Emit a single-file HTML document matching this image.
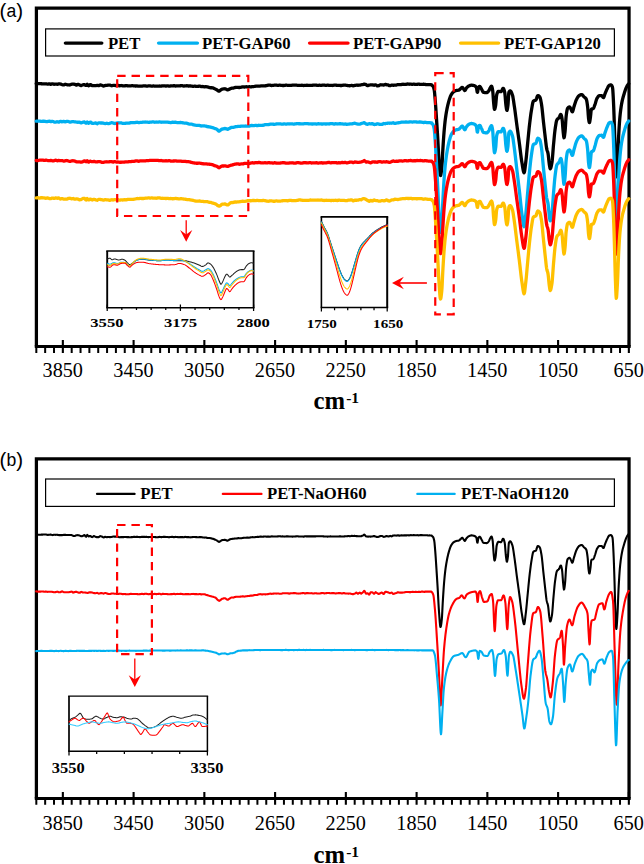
<!DOCTYPE html>
<html lang="en">
<head>
<meta charset="utf-8">
<title>FTIR spectra of PET samples</title>
<style>
html,body{margin:0;padding:0;background:#fff;}
body{width:644px;height:864px;overflow:hidden;}
svg{display:block;}
text{font-family:"Liberation Serif",serif;fill:#000;}
.tk{font-size:20.2px;text-anchor:middle;}
.lg{font-size:16.7px;font-weight:bold;}
.in{font-weight:bold;text-anchor:middle;}
.ax{font-size:24.7px;font-weight:bold;}
.pl{font-family:"Liberation Sans",sans-serif;font-size:17.6px;}
</style>
</head>
<body>
<svg width="644" height="864" viewBox="0 0 644 864">
<rect x="0" y="0" width="644" height="864" fill="#ffffff"/>
<rect x="36.4" y="8.15" width="592.65" height="338.3" fill="#fff" stroke="none"/>
<rect x="36.4" y="458.95" width="592.65" height="339.45" fill="#fff" stroke="none"/>
<path d="M36.4,346.45V8.15H629.05V346.45" fill="none" stroke="#000" stroke-width="3.25" stroke-linejoin="miter"/>
<path d="M34.78,346.45H630.67" fill="none" stroke="#000" stroke-width="2.95"/>
<path d="M620.01,346.45V352.9M611.16,346.45V352.9M602.32,346.45V352.9M593.48,346.45V352.9M584.63,346.45V352.9M575.79,346.45V352.9M566.94,346.45V352.9M549.26,346.45V352.9M540.41,346.45V352.9M531.57,346.45V352.9M522.73,346.45V352.9M513.88,346.45V352.9M505.04,346.45V352.9M496.19,346.45V352.9M478.51,346.45V352.9M469.66,346.45V352.9M460.82,346.45V352.9M451.98,346.45V352.9M443.13,346.45V352.9M434.29,346.45V352.9M425.44,346.45V352.9M407.76,346.45V352.9M398.91,346.45V352.9M390.07,346.45V352.9M381.23,346.45V352.9M372.38,346.45V352.9M363.54,346.45V352.9M354.69,346.45V352.9M337.01,346.45V352.9M328.16,346.45V352.9M319.32,346.45V352.9M310.48,346.45V352.9M301.63,346.45V352.9M292.79,346.45V352.9M283.94,346.45V352.9M266.26,346.45V352.9M257.41,346.45V352.9M248.57,346.45V352.9M239.72,346.45V352.9M230.88,346.45V352.9M222.04,346.45V352.9M213.19,346.45V352.9M195.51,346.45V352.9M186.66,346.45V352.9M177.82,346.45V352.9M168.97,346.45V352.9M160.13,346.45V352.9M151.29,346.45V352.9M142.44,346.45V352.9M124.76,346.45V352.9M115.91,346.45V352.9M107.07,346.45V352.9M98.22,346.45V352.9M89.38,346.45V352.9M80.54,346.45V352.9M71.69,346.45V352.9M54.01,346.45V352.9M45.16,346.45V352.9M36.32,346.45V352.9" stroke="#000" stroke-width="2.0" fill="none"/>
<path d="M628.85,339.95V352.9M558.10,339.95V352.9M487.35,339.95V352.9M416.60,339.95V352.9M345.85,339.95V352.9M275.10,339.95V352.9M204.35,339.95V352.9M133.60,339.95V352.9M62.85,339.95V352.9" stroke="#000" stroke-width="2.1" fill="none"/>
<text x="628.75" y="377.3" class="tk">650</text>
<text x="558.00" y="377.3" class="tk">1050</text>
<text x="487.25" y="377.3" class="tk">1450</text>
<text x="416.50" y="377.3" class="tk">1850</text>
<text x="345.75" y="377.3" class="tk">2250</text>
<text x="275.00" y="377.3" class="tk">2650</text>
<text x="204.25" y="377.3" class="tk">3050</text>
<text x="133.50" y="377.3" class="tk">3450</text>
<text x="62.75" y="377.3" class="tk">3850</text>
<path d="M36.4,798.4V458.95H629.05V798.4" fill="none" stroke="#000" stroke-width="3.25" stroke-linejoin="miter"/>
<path d="M34.78,798.4H630.67" fill="none" stroke="#000" stroke-width="2.95"/>
<path d="M620.01,798.4V804.85M611.16,798.4V804.85M602.32,798.4V804.85M593.48,798.4V804.85M584.63,798.4V804.85M575.79,798.4V804.85M566.94,798.4V804.85M549.26,798.4V804.85M540.41,798.4V804.85M531.57,798.4V804.85M522.73,798.4V804.85M513.88,798.4V804.85M505.04,798.4V804.85M496.19,798.4V804.85M478.51,798.4V804.85M469.66,798.4V804.85M460.82,798.4V804.85M451.98,798.4V804.85M443.13,798.4V804.85M434.29,798.4V804.85M425.44,798.4V804.85M407.76,798.4V804.85M398.91,798.4V804.85M390.07,798.4V804.85M381.23,798.4V804.85M372.38,798.4V804.85M363.54,798.4V804.85M354.69,798.4V804.85M337.01,798.4V804.85M328.16,798.4V804.85M319.32,798.4V804.85M310.48,798.4V804.85M301.63,798.4V804.85M292.79,798.4V804.85M283.94,798.4V804.85M266.26,798.4V804.85M257.41,798.4V804.85M248.57,798.4V804.85M239.72,798.4V804.85M230.88,798.4V804.85M222.04,798.4V804.85M213.19,798.4V804.85M195.51,798.4V804.85M186.66,798.4V804.85M177.82,798.4V804.85M168.97,798.4V804.85M160.13,798.4V804.85M151.29,798.4V804.85M142.44,798.4V804.85M124.76,798.4V804.85M115.91,798.4V804.85M107.07,798.4V804.85M98.22,798.4V804.85M89.38,798.4V804.85M80.54,798.4V804.85M71.69,798.4V804.85M54.01,798.4V804.85M45.16,798.4V804.85M36.32,798.4V804.85" stroke="#000" stroke-width="2.0" fill="none"/>
<path d="M628.85,791.9V804.85M558.10,791.9V804.85M487.35,791.9V804.85M416.60,791.9V804.85M345.85,791.9V804.85M275.10,791.9V804.85M204.35,791.9V804.85M133.60,791.9V804.85M62.85,791.9V804.85" stroke="#000" stroke-width="2.1" fill="none"/>
<text x="628.75" y="829.8" class="tk">650</text>
<text x="558.00" y="829.8" class="tk">1050</text>
<text x="487.25" y="829.8" class="tk">1450</text>
<text x="416.50" y="829.8" class="tk">1850</text>
<text x="345.75" y="829.8" class="tk">2250</text>
<text x="275.00" y="829.8" class="tk">2650</text>
<text x="204.25" y="829.8" class="tk">3050</text>
<text x="133.50" y="829.8" class="tk">3450</text>
<text x="62.75" y="829.8" class="tk">3850</text>
<g id="curves-a">
<polyline points="36.20,83.53 36.70,83.53 37.20,83.54 37.70,83.54 38.20,83.55 38.70,83.58 39.20,83.61 39.70,83.64 40.20,83.67 40.70,83.71 41.20,83.74 41.70,83.76 42.20,83.78 42.70,83.80 43.20,83.84 43.70,83.88 44.20,83.92 44.70,83.93 45.20,83.92 45.70,83.90 46.20,83.92 46.70,83.99 47.20,84.06 47.70,84.11 48.20,84.01 48.70,83.91 49.20,83.80 49.70,83.98 50.20,84.16 50.70,84.34 51.20,84.22 51.70,84.01 52.20,83.79 52.70,83.81 53.20,84.00 53.70,84.19 54.20,84.28 54.70,84.22 55.20,84.16 55.70,84.12 56.20,84.18 56.70,84.23 57.20,84.29 57.70,84.17 58.20,84.04 58.70,83.91 59.20,83.91 59.70,83.94 60.20,83.96 60.70,84.11 61.20,84.33 61.70,84.55 62.20,84.71 62.70,84.78 63.20,84.85 63.70,84.86 64.20,84.65 64.70,84.44 65.20,84.23 65.70,84.37 66.20,84.51 66.70,84.66 67.20,84.75 67.70,84.82 68.20,84.90 68.70,84.94 69.20,84.96 69.70,84.98 70.20,84.89 70.70,84.63 71.20,84.36 71.70,84.15 72.20,84.15 72.70,84.14 73.20,84.14 73.70,84.20 74.20,84.26 74.70,84.32 75.20,84.54 75.70,84.79 76.20,85.05 76.70,85.00 77.20,84.75 77.70,84.49 78.20,84.41 78.70,84.59 79.20,84.76 79.70,84.95 80.20,85.20 80.70,85.45 81.20,85.63 81.70,85.37 82.20,85.11 82.70,84.85 83.20,84.75 83.70,84.69 84.20,84.62 84.70,84.70 85.20,85.09 85.70,85.47 86.20,85.47 86.70,84.91 87.20,84.34 87.70,84.97 88.20,85.53 88.70,85.77 89.20,85.54 89.70,84.97 90.20,84.60 90.70,84.54 91.20,84.90 91.70,85.36 92.20,85.68 92.70,85.70 93.20,85.64 93.70,85.59 94.20,85.56 94.70,85.57 95.20,85.59 95.70,85.58 96.20,85.52 96.70,85.45 97.20,85.33 97.70,85.45 98.20,85.57 98.70,85.69 99.20,85.48 99.70,85.19 100.20,84.94 100.70,84.97 101.20,85.13 101.70,85.30 102.20,85.49 102.70,85.69 103.20,85.90 103.70,86.03 104.20,85.84 104.70,85.62 105.20,85.39 105.70,85.38 106.20,85.36 106.70,85.34 107.20,85.28 107.70,85.21 108.20,85.15 108.70,85.12 109.20,85.09 109.70,85.06 110.20,85.14 110.70,85.38 111.20,85.61 111.70,85.76 112.20,85.62 112.70,85.48 113.20,85.35 113.70,85.38 114.20,85.41 114.70,85.44 115.20,85.50 115.70,85.57 116.20,85.64 116.70,85.61 117.20,85.50 117.70,85.41 118.20,85.41 118.70,85.54 119.20,85.67 119.70,85.76 120.20,85.67 120.70,85.59 121.20,85.51 121.70,85.61 122.20,85.71 122.70,85.80 123.20,85.84 123.70,85.86 124.20,85.88 124.70,85.83 125.20,85.75 125.70,85.66 126.20,85.63 126.70,85.68 127.20,85.74 127.70,85.79 128.20,85.84 128.70,85.89 129.20,85.94 129.70,85.91 130.20,85.87 130.70,85.83 131.20,85.78 131.70,85.73 132.20,85.68 132.70,85.71 133.20,85.79 133.70,85.87 134.20,85.93 134.70,85.96 135.20,85.98 135.70,86.00 136.20,85.98 136.70,85.96 137.20,85.94 137.70,86.01 138.20,86.09 138.70,86.16 139.20,86.13 139.70,86.08 140.20,86.03 140.70,86.04 141.20,86.09 141.70,86.14 142.20,86.13 142.70,86.01 143.20,85.89 143.70,85.80 144.20,85.80 144.70,85.81 145.20,85.81 145.70,85.92 146.20,86.02 146.70,86.13 147.20,86.10 147.70,86.04 148.20,85.97 148.70,85.93 149.20,85.89 149.70,85.85 150.20,85.88 150.70,86.00 151.20,86.12 151.70,86.19 152.20,86.10 152.70,86.01 153.20,85.92 153.70,85.98 154.20,86.04 154.70,86.10 155.20,86.11 155.70,86.10 156.20,86.09 156.70,86.10 157.20,86.12 157.70,86.14 158.20,86.14 158.70,86.09 159.20,86.05 159.70,86.02 160.20,86.03 160.70,86.05 161.20,86.06 161.70,86.00 162.20,85.93 162.70,85.86 163.20,85.83 163.70,85.82 164.20,85.80 164.70,85.85 165.20,85.94 165.70,86.03 166.20,86.06 166.70,85.98 167.20,85.90 167.70,85.85 168.20,85.93 168.70,86.01 169.20,86.09 169.70,86.04 170.20,85.99 170.70,85.94 171.20,85.92 171.70,85.91 172.20,85.90 172.70,85.84 173.20,85.76 173.70,85.68 174.20,85.68 174.70,85.81 175.20,85.93 175.70,86.02 176.20,85.94 176.70,85.86 177.20,85.78 177.70,85.80 178.20,85.82 178.70,85.84 179.20,85.82 179.70,85.79 180.20,85.76 180.70,85.74 181.20,85.72 181.70,85.69 182.20,85.72 182.70,85.83 183.20,85.95 183.70,86.03 184.20,85.99 184.70,85.95 185.20,85.91 185.70,85.83 186.20,85.76 186.70,85.68 187.20,85.75 187.70,85.87 188.20,85.98 188.70,86.01 189.20,85.98 189.70,85.95 190.20,85.95 190.70,86.00 191.20,86.05 191.70,86.11 192.20,86.18 192.70,86.26 193.20,86.33 193.70,86.27 194.20,86.20 194.70,86.14 195.20,86.21 195.70,86.31 196.20,86.41 196.70,86.44 197.20,86.41 197.70,86.38 198.20,86.33 198.70,86.25 199.20,86.17 199.70,86.13 200.20,86.29 200.70,86.44 201.20,86.59 201.70,86.56 202.20,86.53 202.70,86.50 203.20,86.56 203.70,86.68 204.20,86.80 204.70,86.81 205.20,86.76 205.70,86.70 206.20,86.69 206.70,86.76 207.20,86.82 207.70,86.91 208.20,87.12 208.70,87.34 209.20,87.57 209.70,87.63 210.20,87.69 210.70,87.75 211.20,87.76 211.70,87.76 212.20,87.76 212.70,87.88 213.20,88.09 213.70,88.31 214.20,88.58 214.70,88.78 215.20,88.98 215.70,89.19 216.20,89.42 216.70,89.72 217.20,90.14 217.70,90.49 218.20,90.84 218.70,91.20 219.20,91.22 219.70,90.81 220.20,90.41 220.70,90.02 221.20,89.64 221.70,89.26 222.20,89.12 222.70,89.05 223.20,88.97 223.70,88.90 224.20,88.83 224.70,88.76 225.20,88.79 225.70,89.01 226.20,89.23 226.70,89.45 227.20,89.72 227.70,89.92 228.20,89.78 228.70,89.55 229.20,89.26 229.70,88.97 230.20,88.70 230.70,88.47 231.20,88.30 231.70,88.23 232.20,88.20 232.70,88.17 233.20,88.14 233.70,87.96 234.20,87.77 234.70,87.58 235.20,87.50 235.70,87.45 236.20,87.41 236.70,87.42 237.20,87.43 237.70,87.44 238.20,87.46 238.70,87.48 239.20,87.50 239.70,87.50 240.20,87.40 240.70,87.30 241.20,87.20 241.70,87.08 242.20,86.96 242.70,86.84 243.20,86.88 243.70,86.96 244.20,87.05 244.70,87.01 245.20,86.89 245.70,86.79 246.20,86.75 246.70,86.83 247.20,86.90 247.70,86.94 248.20,86.85 248.70,86.76 249.20,86.68 249.70,86.73 250.20,86.78 250.70,86.83 251.20,86.81 251.70,86.76 252.20,86.72 252.70,86.67 253.20,86.61 253.70,86.55 254.20,86.48 254.70,86.38 255.20,86.29 255.70,86.22 256.20,86.20 256.70,86.17 257.20,86.14 257.70,86.13 258.20,86.13 258.70,86.12 259.20,86.09 259.70,86.06 260.20,86.02 260.70,85.98 261.20,85.95 261.70,85.91 262.20,85.88 262.70,85.84 263.20,85.80 263.70,85.78 264.20,85.80 264.70,85.81 265.20,85.83 265.70,85.75 266.20,85.67 266.70,85.59 267.20,85.47 267.70,85.34 268.20,85.21 268.70,85.15 269.20,85.12 269.70,85.11 270.20,85.15 270.70,85.28 271.20,85.42 271.70,85.52 272.20,85.46 272.70,85.40 273.20,85.33 273.70,85.28 274.20,85.22 274.70,85.16 275.20,85.16 275.70,85.17 276.20,85.17 276.70,85.22 277.20,85.30 277.70,85.38 278.20,85.39 278.70,85.30 279.20,85.22 279.70,85.16 280.20,85.22 280.70,85.28 281.20,85.34 281.70,85.40 282.20,85.46 282.70,85.52 283.20,85.52 283.70,85.50 284.20,85.48 284.70,85.42 285.20,85.32 285.70,85.23 286.20,85.19 286.70,85.23 287.20,85.27 287.70,85.30 288.20,85.32 288.70,85.34 289.20,85.36 289.70,85.39 290.20,85.43 290.70,85.46 291.20,85.38 291.70,85.28 292.20,85.17 292.70,85.12 293.20,85.09 293.70,85.07 294.20,85.06 294.70,85.07 295.20,85.08 295.70,85.10 296.20,85.16 296.70,85.23 297.20,85.29 297.70,85.31 298.20,85.33 298.70,85.35 299.20,85.35 299.70,85.34 300.20,85.34 300.70,85.31 301.20,85.27 301.70,85.23 302.20,85.25 302.70,85.36 303.20,85.46 303.70,85.53 304.20,85.47 304.70,85.40 305.20,85.34 305.70,85.31 306.20,85.28 306.70,85.25 307.20,85.26 307.70,85.29 308.20,85.31 308.70,85.34 309.20,85.37 309.70,85.40 310.20,85.42 310.70,85.41 311.20,85.39 311.70,85.37 312.20,85.31 312.70,85.25 313.20,85.18 313.70,85.15 314.20,85.12 314.70,85.09 315.20,85.12 315.70,85.17 316.20,85.22 316.70,85.26 317.20,85.30 317.70,85.34 318.20,85.34 318.70,85.27 319.20,85.21 319.70,85.17 320.20,85.26 320.70,85.34 321.20,85.43 321.70,85.32 322.20,85.21 322.70,85.10 323.20,85.11 323.70,85.14 324.20,85.17 324.70,85.23 325.20,85.32 325.70,85.40 326.20,85.41 326.70,85.32 327.20,85.22 327.70,85.16 328.20,85.23 328.70,85.30 329.20,85.37 329.70,85.35 330.20,85.33 330.70,85.32 331.20,85.36 331.70,85.42 332.20,85.49 332.70,85.45 333.20,85.35 333.70,85.24 334.20,85.17 334.70,85.14 335.20,85.11 335.70,85.10 336.20,85.21 336.70,85.31 337.20,85.42 337.70,85.42 338.20,85.43 338.70,85.43 339.20,85.45 339.70,85.47 340.20,85.50 340.70,85.51 341.20,85.51 341.70,85.51 342.20,85.46 342.70,85.32 343.20,85.17 343.70,85.06 344.20,85.09 344.70,85.11 345.20,85.14 345.70,85.21 346.20,85.28 346.70,85.37 347.20,85.46 347.70,85.55 348.20,85.65 348.70,85.71 349.20,85.73 349.70,85.75 350.20,85.72 350.70,85.60 351.20,85.48 351.70,85.39 352.20,85.53 352.70,85.66 353.20,85.80 353.70,85.70 354.20,85.59 354.70,85.49 355.20,85.39 355.70,85.30 356.20,85.21 356.70,85.19 357.20,85.23 357.70,85.26 358.20,85.27 358.70,85.23 359.20,85.19 359.70,85.13 360.20,85.03 360.70,84.92 361.20,84.78 361.70,84.73 362.20,84.69 362.70,84.64 363.20,84.48 363.70,84.29 364.20,84.10 364.70,84.28 365.20,84.38 365.70,84.48 366.20,84.74 366.70,85.17 367.20,85.49 367.70,85.70 368.20,85.51 368.70,85.31 369.20,85.07 369.70,85.02 370.20,84.98 370.70,84.93 371.20,84.90 371.70,84.87 372.20,84.86 372.70,84.95 373.20,85.08 373.70,85.22 374.20,85.23 374.70,85.05 375.20,84.87 375.70,84.80 376.20,85.14 376.70,85.49 377.20,85.84 377.70,85.79 378.20,85.75 378.70,85.70 379.20,85.45 379.70,85.14 380.20,84.84 380.70,84.75 381.20,84.81 381.70,84.86 382.20,84.92 382.70,84.97 383.20,85.02 383.70,85.04 384.20,84.89 384.70,84.65 385.20,84.40 385.70,84.49 386.20,84.57 386.70,84.80 387.20,84.92 387.70,84.94 388.20,84.97 388.70,85.23 389.20,85.54 389.70,85.68 390.20,85.68 390.70,85.47 391.20,85.25 391.70,85.08 392.20,85.13 392.70,85.22 393.20,85.30 393.70,85.26 394.20,85.21 394.70,85.15 395.20,85.12 395.70,85.09 396.20,85.06 396.70,84.94 397.20,84.78 397.70,84.64 398.20,84.56 398.70,84.55 399.20,84.54 399.70,84.53 400.20,84.55 400.70,84.56 401.20,84.58 401.70,84.48 402.20,84.37 402.70,84.27 403.20,84.26 403.70,84.28 404.20,84.29 404.70,84.30 405.20,84.30 405.70,84.30 406.20,84.26 406.70,84.16 407.20,84.06 407.70,83.99 408.20,84.08 408.70,84.16 409.20,84.25 409.70,84.22 410.20,84.20 410.70,84.17 411.20,84.22 411.70,84.28 412.20,84.34 412.70,84.32 413.20,84.24 413.70,84.17 414.20,84.17 414.70,84.26 415.20,84.36 415.70,84.43 416.20,84.39 416.70,84.34 417.20,84.30 417.70,84.25 418.20,84.20 418.70,84.15 419.20,84.22 419.70,84.33 420.20,84.44 420.70,84.47 421.20,84.46 421.70,84.44 422.20,84.41 422.70,84.33 423.20,84.26 423.70,84.22 424.20,84.30 424.70,84.38 425.20,84.45 425.70,84.51 426.20,84.55 426.70,84.60 427.20,84.63 427.70,84.66 428.20,84.69 428.70,84.67 429.20,84.65 429.70,84.65 430.20,84.68 430.70,84.73 431.20,84.76 431.70,84.78 432.00,85.44 432.25,85.59 432.50,85.76 432.75,85.96 433.00,86.20 433.25,86.62 433.50,87.23 433.75,88.02 434.00,88.98 434.25,90.11 434.50,91.98 434.75,94.57 435.00,97.55 435.25,100.56 435.50,103.80 435.75,107.35 436.00,111.11 436.25,114.96 436.50,118.78 436.75,122.59 437.00,126.45 437.25,130.39 437.50,134.42 437.75,138.54 438.00,143.01 438.25,147.74 438.50,152.41 438.75,156.72 439.00,160.37 439.25,163.73 439.50,167.16 439.75,170.36 440.00,173.03 440.25,174.85 440.50,175.53 440.75,175.14 441.00,174.08 441.25,172.51 441.50,170.57 441.75,168.40 442.00,165.49 442.25,161.02 442.50,155.91 442.75,151.14 443.00,147.12 443.25,143.19 443.50,139.41 443.75,135.85 444.00,132.60 444.25,129.68 444.50,126.94 444.75,124.39 445.00,122.04 445.25,119.90 445.50,118.00 445.75,116.23 446.00,114.59 446.25,113.04 446.50,111.59 446.75,110.22 447.00,108.93 447.25,107.70 447.50,106.53 447.75,105.42 448.00,104.35 448.25,103.34 448.50,102.38 448.75,101.47 449.00,100.61 449.25,99.81 449.50,99.02 449.75,98.26 450.00,97.53 450.25,96.84 450.50,96.20 450.75,95.62 451.00,95.12 451.25,94.68 451.50,94.27 451.75,93.88 452.00,93.52 452.25,93.17 452.50,92.86 452.75,92.57 453.00,92.31 453.25,92.07 453.50,91.87 453.75,91.69 454.00,91.52 454.25,91.36 454.50,91.22 454.75,91.08 455.00,90.95 455.25,90.84 455.50,90.74 455.75,90.65 456.00,90.57 456.25,90.51 456.50,90.46 456.75,90.42 457.00,90.39 457.25,90.36 457.50,90.33 457.75,90.30 458.00,90.27 458.25,90.23 458.50,90.18 458.75,90.12 459.00,90.01 459.25,89.85 459.50,89.65 459.75,89.43 460.00,89.20 460.25,88.97 460.50,88.75 460.75,88.54 461.00,88.30 461.25,88.03 461.50,87.78 461.75,87.58 462.00,87.44 462.25,87.41 462.50,87.53 462.75,87.78 463.00,88.12 463.25,88.49 463.50,88.85 463.75,89.18 464.00,89.59 464.25,90.02 464.50,90.36 464.75,90.53 465.00,90.46 465.25,90.17 465.50,89.74 465.75,89.24 466.00,88.74 466.25,88.30 466.50,87.99 466.75,87.72 467.00,87.45 467.25,87.20 467.50,86.96 467.75,86.74 468.00,86.53 468.25,86.34 468.50,86.18 468.75,86.04 469.00,85.92 469.25,85.81 469.50,85.71 469.75,85.61 470.00,85.51 470.25,85.42 470.50,85.35 470.75,85.28 471.00,85.24 471.25,85.21 471.50,85.19 471.75,85.20 472.00,85.21 472.25,85.24 472.50,85.27 472.75,85.31 473.00,85.35 473.25,85.40 473.50,85.46 473.75,85.52 474.00,85.58 474.25,85.66 474.50,85.75 474.75,85.86 475.00,85.99 475.25,86.16 475.50,86.36 475.75,86.59 476.00,86.85 476.25,87.16 476.50,87.86 476.75,89.32 477.00,90.95 477.25,92.13 477.50,92.26 477.75,91.29 478.00,89.76 478.25,88.28 478.50,87.42 478.75,87.10 479.00,86.82 479.25,86.61 479.50,86.49 479.75,86.46 480.00,86.58 480.25,86.85 480.50,87.22 480.75,87.67 481.00,88.16 481.25,88.65 481.50,89.09 481.75,89.51 482.00,89.98 482.25,90.50 482.50,91.02 482.75,91.51 483.00,91.91 483.25,92.21 483.50,92.34 483.75,92.39 484.00,92.43 484.25,92.46 484.50,92.49 484.75,92.52 485.00,92.55 485.25,92.57 485.50,92.58 485.75,92.60 486.00,92.61 486.25,92.61 486.50,92.62 486.75,92.62 487.00,92.56 487.25,92.43 487.50,92.25 487.75,92.02 488.00,91.76 488.25,91.47 488.50,91.18 488.75,90.87 489.00,90.46 489.25,89.96 489.50,89.41 489.75,88.85 490.00,88.30 490.25,87.81 490.50,87.41 490.75,87.03 491.00,86.65 491.25,86.36 491.50,86.25 491.75,86.50 492.00,87.18 492.25,88.18 492.50,89.38 492.75,91.00 493.00,93.93 493.25,97.56 493.50,101.09 493.75,103.82 494.00,106.34 494.25,108.48 494.50,109.38 494.75,109.12 495.00,108.42 495.25,107.42 495.50,106.23 495.75,104.69 496.00,101.97 496.25,98.80 496.50,96.07 496.75,94.62 497.00,93.79 497.25,93.05 497.50,92.42 497.75,91.92 498.00,91.56 498.25,91.37 498.50,91.34 498.75,91.36 499.00,91.39 499.25,91.44 499.50,91.49 499.75,91.55 500.00,91.61 500.25,91.66 500.50,91.69 500.75,91.72 501.00,91.70 501.25,91.51 501.50,91.15 501.75,90.68 502.00,90.15 502.25,89.61 502.50,89.10 502.75,88.70 503.00,88.43 503.25,88.37 503.50,88.57 503.75,89.02 504.00,89.68 504.25,90.51 504.50,91.47 504.75,92.54 505.00,94.50 505.25,97.34 505.50,100.51 505.75,103.49 506.00,105.74 506.25,107.51 506.50,109.15 506.75,110.23 507.00,110.37 507.25,109.68 507.50,108.42 507.75,106.81 508.00,104.85 508.25,101.12 508.50,96.69 508.75,93.23 509.00,92.11 509.25,91.67 509.50,91.31 509.75,91.06 510.00,90.92 510.25,90.89 510.50,90.99 510.75,91.22 511.00,91.57 511.25,92.01 511.50,92.54 511.75,93.13 512.00,93.78 512.25,94.46 512.50,95.18 512.75,96.17 513.00,97.44 513.25,98.91 513.50,100.52 513.75,102.22 514.00,103.95 514.25,105.64 514.50,107.30 514.75,109.05 515.00,110.87 515.25,112.75 515.50,114.67 515.75,116.61 516.00,118.56 516.25,120.50 516.50,122.41 516.75,124.29 517.00,126.13 517.25,127.95 517.50,129.75 517.75,131.55 518.00,133.35 518.25,135.14 518.50,136.94 518.75,138.74 519.00,140.56 519.25,142.39 519.50,144.25 519.75,146.19 520.00,148.19 520.25,150.24 520.50,152.29 520.75,154.31 521.00,156.28 521.25,158.17 521.50,159.95 521.75,161.58 522.00,163.06 522.25,164.59 522.50,166.16 522.75,167.71 523.00,169.17 523.25,170.47 523.50,171.54 523.75,172.31 524.00,172.73 524.25,172.60 524.50,171.74 524.75,170.30 525.00,168.45 525.25,166.37 525.50,164.25 525.75,162.25 526.00,160.14 526.25,157.80 526.50,155.30 526.75,152.69 527.00,150.02 527.25,147.37 527.50,144.78 527.75,142.28 528.00,139.73 528.25,137.14 528.50,134.56 528.75,132.02 529.00,129.55 529.25,127.18 529.50,124.96 529.75,122.83 530.00,120.74 530.25,118.69 530.50,116.72 530.75,114.84 531.00,113.06 531.25,111.41 531.50,109.91 531.75,108.45 532.00,106.95 532.25,105.49 532.50,104.14 532.75,102.95 533.00,102.01 533.25,101.37 533.50,101.08 533.75,100.90 534.00,100.77 534.25,100.67 534.50,100.58 534.75,100.51 535.00,100.43 535.25,100.34 535.50,100.23 535.75,100.08 536.00,99.86 536.25,99.38 536.50,98.70 536.75,97.90 537.00,97.08 537.25,96.36 537.50,95.82 537.75,95.56 538.00,95.57 538.25,95.64 538.50,95.75 538.75,95.91 539.00,96.10 539.25,96.33 539.50,96.59 539.75,96.87 540.00,97.37 540.25,98.12 540.50,99.09 540.75,100.22 541.00,101.48 541.25,102.81 541.50,104.20 541.75,105.90 542.00,107.90 542.25,110.14 542.50,112.54 542.75,115.01 543.00,117.50 543.25,119.92 543.50,122.20 543.75,124.39 544.00,126.59 544.25,128.80 544.50,130.99 544.75,133.16 545.00,135.31 545.25,137.41 545.50,139.47 545.75,141.59 546.00,143.76 546.25,145.83 546.50,147.63 546.75,149.00 547.00,149.97 547.25,150.73 547.50,151.43 547.75,152.23 548.00,153.28 548.25,154.91 548.50,157.10 548.75,159.55 549.00,161.92 549.25,163.88 549.50,165.46 549.75,167.03 550.00,168.23 550.25,168.71 550.50,168.52 550.75,168.00 551.00,167.20 551.25,166.17 551.50,164.99 551.75,163.69 552.00,162.28 552.25,160.17 552.50,157.42 552.75,154.28 553.00,151.00 553.25,147.80 553.50,144.95 553.75,142.29 554.00,139.60 554.25,136.95 554.50,134.42 554.75,132.09 555.00,130.05 555.25,128.29 555.50,126.58 555.75,124.93 556.00,123.40 556.25,122.06 556.50,120.95 556.75,120.14 557.00,119.66 557.25,119.33 557.50,119.07 557.75,118.85 558.00,118.67 558.25,118.49 558.50,118.30 558.75,118.07 559.00,117.79 559.25,117.37 559.50,116.81 559.75,116.18 560.00,115.55 560.25,115.00 560.50,114.59 560.75,114.40 561.00,114.55 561.25,115.13 561.50,116.04 561.75,117.19 562.00,118.47 562.25,120.45 562.50,123.41 562.75,126.78 563.00,129.98 563.25,132.49 563.50,134.87 563.75,136.90 564.00,137.77 564.25,137.25 564.50,135.91 564.75,134.07 565.00,132.06 565.25,129.31 565.50,125.53 565.75,121.45 566.00,117.84 566.25,115.39 566.50,113.53 566.75,111.83 567.00,110.37 567.25,109.23 567.50,108.48 567.75,108.12 568.00,107.83 568.25,107.58 568.50,107.37 568.75,107.20 569.00,107.07 569.25,107.00 569.50,106.97 569.75,107.08 570.00,107.38 570.25,107.80 570.50,108.28 570.75,108.76 571.00,109.21 571.25,109.78 571.50,110.43 571.75,111.05 572.00,111.52 572.25,111.76 572.50,111.64 572.75,111.17 573.00,110.44 573.25,109.53 573.50,108.53 573.75,107.54 574.00,106.64 574.25,105.88 574.50,105.09 574.75,104.29 575.00,103.48 575.25,102.69 575.50,101.92 575.75,101.19 576.00,100.53 576.25,99.94 576.50,99.43 576.75,98.95 577.00,98.48 577.25,98.02 577.50,97.59 577.75,97.19 578.00,96.81 578.25,96.47 578.50,96.17 578.75,95.90 579.00,95.68 579.25,95.51 579.50,95.36 579.75,95.21 580.00,95.07 580.25,94.94 580.50,94.83 580.75,94.73 581.00,94.65 581.25,94.60 581.50,94.58 581.75,94.59 582.00,94.68 582.25,94.85 582.50,95.07 582.75,95.34 583.00,95.63 583.25,95.94 583.50,96.25 583.75,96.56 584.00,96.83 584.25,97.07 584.50,97.27 584.75,97.46 585.00,97.64 585.25,97.84 585.50,98.07 585.75,98.34 586.00,98.68 586.25,99.09 586.50,99.81 586.75,100.90 587.00,102.28 587.25,103.90 587.50,105.69 587.75,107.89 588.00,111.24 588.25,114.92 588.50,117.97 588.75,119.82 589.00,121.39 589.25,122.43 589.50,122.54 589.75,121.68 590.00,120.18 590.25,118.44 590.50,116.70 590.75,114.24 591.00,111.61 591.25,109.67 591.50,109.13 591.75,108.99 592.00,108.90 592.25,108.84 592.50,108.79 592.75,108.73 593.00,108.63 593.25,108.48 593.50,108.19 593.75,107.73 594.00,107.16 594.25,106.50 594.50,105.79 594.75,105.08 595.00,104.40 595.25,103.69 595.50,102.88 595.75,102.01 596.00,101.13 596.25,100.27 596.50,99.49 596.75,98.83 597.00,98.33 597.25,97.92 597.50,97.52 597.75,97.13 598.00,96.77 598.25,96.44 598.50,96.16 598.75,95.92 599.00,95.74 599.25,95.62 599.50,95.58 599.75,95.58 600.00,95.58 600.25,95.58 600.50,95.58 600.75,95.58 601.00,95.58 601.25,95.58 601.50,95.58 601.75,95.62 602.00,95.84 602.25,96.20 602.50,96.61 602.75,97.03 603.00,97.38 603.25,97.60 603.50,97.61 603.75,97.33 604.00,96.79 604.25,96.08 604.50,95.29 604.75,94.50 605.00,93.78 605.25,93.17 605.50,92.57 605.75,91.97 606.00,91.36 606.25,90.77 606.50,90.20 606.75,89.64 607.00,89.12 607.25,88.63 607.50,88.13 607.75,87.61 608.00,87.10 608.25,86.61 608.50,86.17 608.75,85.79 609.00,85.50 609.25,85.32 609.50,85.22 609.75,85.13 610.00,85.05 610.25,84.99 610.50,84.94 610.75,84.91 611.00,84.90 611.25,84.98 611.50,85.19 611.75,85.54 612.00,86.03 612.25,86.63 612.50,87.35 612.75,89.22 613.00,92.81 613.25,97.42 613.50,102.35 613.75,107.93 614.00,114.66 614.25,122.10 614.50,129.79 614.75,138.41 615.00,147.73 615.25,155.89 615.50,162.53 615.75,169.10 616.00,174.34 616.25,176.94 616.50,176.35 616.75,173.95 617.00,170.42 617.25,166.39 617.50,162.28 617.75,156.94 618.00,150.68 618.25,144.30 618.50,138.58 618.75,133.98 619.00,129.70 619.25,125.70 619.50,122.04 619.75,118.80 620.00,116.07 620.25,113.70 620.50,111.53 620.75,109.54 621.00,107.72 621.25,106.05 621.50,104.52 621.75,103.13 622.00,101.85 622.25,100.67 622.50,99.59 622.75,98.59 623.00,97.64 623.25,96.75 623.50,95.89 623.75,95.05 624.00,94.21 624.25,93.38 624.50,92.57 624.75,91.78 625.00,91.01 625.25,90.27 625.50,89.56 625.75,88.90 626.00,88.27 626.25,87.69 626.50,87.14 626.75,86.62 627.00,86.13 627.25,85.69 627.50,85.29 627.75,84.94 628.00,84.61 628.25,84.31 628.50,84.05 628.75,83.82" fill="none" stroke="#000000" stroke-width="3.3" stroke-linejoin="round" stroke-linecap="round"/>
<polyline points="36.20,121.15 36.70,121.15 37.20,121.15 37.70,121.15 38.20,121.14 38.70,121.13 39.20,121.12 39.70,121.13 40.20,121.22 40.70,121.31 41.20,121.40 41.70,121.35 42.20,121.30 42.70,121.24 43.20,121.23 43.70,121.23 44.20,121.23 44.70,121.28 45.20,121.38 45.70,121.49 46.20,121.55 46.70,121.54 47.20,121.53 47.70,121.50 48.20,121.39 48.70,121.29 49.20,121.18 49.70,121.30 50.20,121.43 50.70,121.56 51.20,121.51 51.70,121.41 52.20,121.31 52.70,121.39 53.20,121.61 53.70,121.84 54.20,122.00 54.70,122.04 55.20,122.09 55.70,122.10 56.20,121.98 56.70,121.85 57.20,121.72 57.70,121.88 58.20,122.04 58.70,122.21 59.20,121.99 59.70,121.67 60.20,121.35 60.70,121.34 61.20,121.54 61.70,121.74 62.20,121.79 62.70,121.61 63.20,121.43 63.70,121.32 64.20,121.49 64.70,121.66 65.20,121.84 65.70,121.71 66.20,121.58 66.70,121.45 67.20,121.44 67.70,121.47 68.20,121.50 68.70,121.64 69.20,121.86 69.70,122.08 70.20,122.16 70.70,122.01 71.20,121.86 71.70,121.74 72.20,121.70 72.70,121.67 73.20,121.63 73.70,121.69 74.20,121.76 74.70,121.83 75.20,121.90 75.70,121.97 76.20,122.04 76.70,122.11 77.20,122.18 77.70,122.25 78.20,122.27 78.70,122.22 79.20,122.18 79.70,122.20 80.20,122.46 80.70,122.72 81.20,122.91 81.70,122.72 82.20,122.53 82.70,122.34 83.20,122.20 83.70,122.08 84.20,121.96 84.70,122.08 85.20,122.60 85.70,123.11 86.20,123.18 86.70,122.60 87.20,122.01 87.70,122.70 88.20,123.17 88.70,123.29 89.20,122.89 89.70,122.39 90.20,122.11 90.70,122.16 91.20,122.55 91.70,123.02 92.20,123.33 92.70,123.35 93.20,123.31 93.70,123.28 94.20,123.21 94.70,123.12 95.20,123.02 95.70,122.99 96.20,123.27 96.70,123.54 97.20,123.75 97.70,123.45 98.20,123.15 98.70,122.85 99.20,122.82 99.70,122.86 100.20,122.94 100.70,123.00 101.20,122.99 101.70,122.98 102.20,122.99 102.70,123.05 103.20,123.10 103.70,123.19 104.20,123.36 104.70,123.49 105.20,123.62 105.70,123.50 106.20,123.37 106.70,123.25 107.20,123.35 107.70,123.52 108.20,123.69 108.70,123.66 109.20,123.49 109.70,123.32 110.20,123.13 110.70,122.94 111.20,122.76 111.70,122.65 112.20,122.77 112.70,122.90 113.20,123.02 113.70,123.21 114.20,123.39 114.70,123.56 115.20,123.46 115.70,123.31 116.20,123.16 116.70,123.03 117.20,122.91 117.70,122.80 118.20,122.77 118.70,122.85 119.20,122.92 119.70,122.96 120.20,122.91 120.70,122.87 121.20,122.82 121.70,123.05 122.20,123.26 122.70,123.45 123.20,123.46 123.70,123.43 124.20,123.40 124.70,123.35 125.20,123.29 125.70,123.24 126.20,123.19 126.70,123.13 127.20,123.07 127.70,123.03 128.20,123.03 128.70,123.04 129.20,123.05 129.70,122.91 130.20,122.78 130.70,122.64 131.20,122.61 131.70,122.61 132.20,122.61 132.70,122.62 133.20,122.64 133.70,122.65 134.20,122.64 134.70,122.58 135.20,122.53 135.70,122.46 136.20,122.38 136.70,122.30 137.20,122.21 137.70,122.37 138.20,122.52 138.70,122.67 139.20,122.60 139.70,122.48 140.20,122.35 140.70,122.30 141.20,122.29 141.70,122.28 142.20,122.25 142.70,122.20 143.20,122.15 143.70,122.10 144.20,122.08 144.70,122.05 145.20,122.02 145.70,122.03 146.20,122.05 146.70,122.06 147.20,122.12 147.70,122.20 148.20,122.28 148.70,122.29 149.20,122.27 149.70,122.25 150.20,122.22 150.70,122.15 151.20,122.08 151.70,122.02 152.20,121.95 152.70,121.88 153.20,121.81 153.70,121.96 154.20,122.11 154.70,122.26 155.20,122.22 155.70,122.12 156.20,122.03 156.70,122.02 157.20,122.09 157.70,122.15 158.20,122.15 158.70,122.05 159.20,121.95 159.70,121.90 160.20,122.02 160.70,122.15 161.20,122.27 161.70,122.23 162.20,122.18 162.70,122.14 163.20,122.15 163.70,122.18 164.20,122.21 164.70,122.22 165.20,122.21 165.70,122.20 166.20,122.20 166.70,122.20 167.20,122.19 167.70,122.20 168.20,122.25 168.70,122.30 169.20,122.35 169.70,122.44 170.20,122.53 170.70,122.62 171.20,122.52 171.70,122.37 172.20,122.22 172.70,122.19 173.20,122.24 173.70,122.29 174.20,122.30 174.70,122.26 175.20,122.23 175.70,122.23 176.20,122.37 176.70,122.52 177.20,122.66 177.70,122.66 178.20,122.66 178.70,122.66 179.20,122.60 179.70,122.54 180.20,122.47 180.70,122.48 181.20,122.55 181.70,122.62 182.20,122.70 182.70,122.80 183.20,122.89 183.70,122.99 184.20,123.06 184.70,123.13 185.20,123.21 185.70,123.20 186.20,123.19 186.70,123.18 187.20,123.36 187.70,123.58 188.20,123.81 188.70,123.95 189.20,124.03 189.70,124.11 190.20,124.15 190.70,124.13 191.20,124.11 191.70,124.14 192.20,124.37 192.70,124.61 193.20,124.85 193.70,124.92 194.20,124.99 194.70,125.06 195.20,125.16 195.70,125.25 196.20,125.35 196.70,125.40 197.20,125.43 197.70,125.45 198.20,125.47 198.70,125.47 199.20,125.46 199.70,125.49 200.20,125.67 200.70,125.84 201.20,126.00 201.70,125.96 202.20,125.92 202.70,125.87 203.20,125.85 203.70,125.88 204.20,125.91 204.70,125.96 205.20,126.02 205.70,126.08 206.20,126.20 206.70,126.40 207.20,126.60 207.70,126.75 208.20,126.75 208.70,126.76 209.20,126.78 209.70,126.91 210.20,127.04 210.70,127.17 211.20,127.29 211.70,127.41 212.20,127.53 212.70,127.67 213.20,127.82 213.70,127.99 214.20,128.23 214.70,128.42 215.20,128.60 215.70,128.78 216.20,128.93 216.70,129.16 217.20,129.51 217.70,130.03 218.20,130.55 218.70,131.06 219.20,131.18 219.70,130.79 220.20,130.41 220.70,130.01 221.20,129.60 221.70,129.19 222.20,129.05 222.70,128.99 223.20,128.93 223.70,128.85 224.20,128.68 224.70,128.51 225.20,128.46 225.70,128.65 226.20,128.85 226.70,129.05 227.20,129.25 227.70,129.35 228.20,129.06 228.70,128.79 229.20,128.55 229.70,128.30 230.20,128.02 230.70,127.70 231.20,127.45 231.70,127.34 232.20,127.37 232.70,127.39 233.20,127.42 233.70,127.27 234.20,127.12 234.70,126.96 235.20,126.84 235.70,126.73 236.20,126.64 236.70,126.58 237.20,126.52 237.70,126.45 238.20,126.41 238.70,126.40 239.20,126.39 239.70,126.38 240.20,126.32 240.70,126.26 241.20,126.20 241.70,126.17 242.20,126.14 242.70,126.11 243.20,126.09 243.70,126.08 244.20,126.07 244.70,126.05 245.20,126.03 245.70,126.02 246.20,126.03 246.70,126.07 247.20,126.10 247.70,126.13 248.20,126.13 248.70,126.14 249.20,126.14 249.70,125.94 250.20,125.74 250.70,125.54 251.20,125.50 251.70,125.51 252.20,125.52 252.70,125.55 253.20,125.60 253.70,125.64 254.20,125.62 254.70,125.50 255.20,125.39 255.70,125.33 256.20,125.45 256.70,125.56 257.20,125.68 257.70,125.54 258.20,125.40 258.70,125.27 259.20,125.30 259.70,125.38 260.20,125.45 260.70,125.44 261.20,125.39 261.70,125.33 262.20,125.29 262.70,125.27 263.20,125.25 263.70,125.19 264.20,124.99 264.70,124.79 265.20,124.60 265.70,124.58 266.20,124.57 266.70,124.55 267.20,124.58 267.70,124.62 268.20,124.66 268.70,124.59 269.20,124.44 269.70,124.29 270.20,124.18 270.70,124.15 271.20,124.12 271.70,124.11 272.20,124.15 272.70,124.20 273.20,124.24 273.70,124.27 274.20,124.29 274.70,124.32 275.20,124.23 275.70,124.12 276.20,124.00 276.70,123.95 277.20,123.94 277.70,123.92 278.20,123.91 278.70,123.89 279.20,123.87 279.70,123.87 280.20,123.92 280.70,123.97 281.20,124.03 281.70,124.06 282.20,124.10 282.70,124.14 283.20,124.07 283.70,123.97 284.20,123.87 284.70,123.90 285.20,124.02 285.70,124.13 286.20,124.16 286.70,124.07 287.20,123.98 287.70,123.91 288.20,123.93 288.70,123.96 289.20,123.99 289.70,123.92 290.20,123.85 290.70,123.78 291.20,123.81 291.70,123.86 292.20,123.91 292.70,123.97 293.20,124.03 293.70,124.08 294.20,124.08 294.70,123.98 295.20,123.88 295.70,123.79 296.20,123.74 296.70,123.69 297.20,123.64 297.70,123.68 298.20,123.72 298.70,123.76 299.20,123.76 299.70,123.77 300.20,123.77 300.70,123.78 301.20,123.79 301.70,123.80 302.20,123.81 302.70,123.81 303.20,123.81 303.70,123.80 304.20,123.71 304.70,123.62 305.20,123.53 305.70,123.55 306.20,123.57 306.70,123.60 307.20,123.64 307.70,123.70 308.20,123.75 308.70,123.80 309.20,123.85 309.70,123.90 310.20,123.94 310.70,123.95 311.20,123.96 311.70,123.98 312.20,123.98 312.70,123.98 313.20,123.98 313.70,123.93 314.20,123.88 314.70,123.83 315.20,123.89 315.70,123.97 316.20,124.06 316.70,124.02 317.20,123.91 317.70,123.79 318.20,123.73 318.70,123.76 319.20,123.79 319.70,123.83 320.20,123.88 320.70,123.93 321.20,123.98 321.70,124.00 322.20,124.02 322.70,124.05 323.20,123.98 323.70,123.90 324.20,123.82 324.70,123.84 325.20,123.92 325.70,124.00 326.20,124.02 326.70,123.95 327.20,123.88 327.70,123.83 328.20,123.88 328.70,123.93 329.20,123.99 329.70,123.85 330.20,123.72 330.70,123.59 331.20,123.57 331.70,123.58 332.20,123.58 332.70,123.69 333.20,123.86 333.70,124.03 334.20,124.08 334.70,123.92 335.20,123.76 335.70,123.66 336.20,123.77 336.70,123.88 337.20,123.98 337.70,123.91 338.20,123.84 338.70,123.78 339.20,123.75 339.70,123.74 340.20,123.72 340.70,123.74 341.20,123.78 341.70,123.81 342.20,123.88 342.70,123.98 343.20,124.08 343.70,124.15 344.20,124.09 344.70,124.04 345.20,123.97 345.70,124.06 346.20,124.16 346.70,124.28 347.20,124.27 347.70,124.23 348.20,124.17 348.70,124.11 349.20,124.05 349.70,123.98 350.20,123.94 350.70,123.94 351.20,123.95 351.70,123.92 352.20,123.79 352.70,123.66 353.20,123.52 353.70,123.42 354.20,123.33 354.70,123.23 355.20,123.36 355.70,123.56 356.20,123.75 356.70,123.87 357.20,123.94 357.70,124.01 358.20,124.08 358.70,124.12 359.20,124.17 359.70,124.17 360.20,123.98 360.70,123.79 361.20,123.55 361.70,123.41 362.20,123.27 362.70,123.13 363.20,122.96 363.70,122.78 364.20,122.60 364.70,122.97 365.20,123.33 365.70,123.68 366.20,124.01 366.70,124.21 367.20,124.27 367.70,124.28 368.20,124.08 368.70,123.88 369.20,123.62 369.70,123.69 370.20,123.76 370.70,123.83 371.20,123.76 371.70,123.67 372.20,123.58 372.70,123.74 373.20,124.05 373.70,124.36 374.20,124.53 374.70,124.50 375.20,124.46 375.70,124.40 376.20,124.19 376.70,123.98 377.20,123.77 377.70,123.88 378.20,123.98 378.70,124.08 379.20,124.19 379.70,124.30 380.20,124.41 380.70,124.46 381.20,124.47 381.70,124.47 382.20,124.35 382.70,124.04 383.20,123.73 383.70,123.52 384.20,123.67 384.70,123.71 385.20,123.75 385.70,123.57 386.20,123.39 386.70,123.38 387.20,123.33 387.70,123.19 388.20,123.06 388.70,123.15 389.20,123.26 389.70,123.18 390.20,123.15 390.70,123.19 391.20,123.23 391.70,123.21 392.20,123.02 392.70,122.87 393.20,122.72 393.70,122.98 394.20,123.23 394.70,123.45 395.20,123.38 395.70,123.24 396.20,123.10 396.70,123.01 397.20,122.94 397.70,122.87 398.20,122.81 398.70,122.76 399.20,122.70 399.70,122.63 400.20,122.49 400.70,122.36 401.20,122.23 401.70,122.17 402.20,122.11 402.70,122.05 403.20,122.07 403.70,122.11 404.20,122.15 404.70,122.13 405.20,122.06 405.70,121.99 406.20,121.98 406.70,122.06 407.20,122.14 407.70,122.19 408.20,122.12 408.70,122.05 409.20,121.99 409.70,121.94 410.20,121.89 410.70,121.84 411.20,121.91 411.70,122.00 412.20,122.09 412.70,122.07 413.20,121.99 413.70,121.91 414.20,121.85 414.70,121.82 415.20,121.79 415.70,121.79 416.20,121.92 416.70,122.04 417.20,122.17 417.70,122.13 418.20,122.09 418.70,122.04 419.20,122.02 419.70,122.00 420.20,121.98 420.70,122.03 421.20,122.14 421.70,122.24 422.20,122.33 422.70,122.41 423.20,122.49 423.70,122.54 424.20,122.43 424.70,122.32 425.20,122.24 425.70,122.36 426.20,122.47 426.70,122.56 427.20,122.59 427.70,122.62 428.20,122.64 428.70,122.64 429.20,122.65 429.70,122.67 430.20,122.72 430.70,122.78 431.20,122.83 431.70,122.87 432.00,123.68 432.25,123.86 432.50,124.06 432.75,124.30 433.00,124.59 433.25,125.09 433.50,125.83 433.75,126.79 434.00,127.95 434.25,129.32 434.50,131.57 434.75,134.70 435.00,138.29 435.25,141.93 435.50,145.84 435.75,150.13 436.00,154.66 436.25,159.31 436.50,163.92 436.75,168.52 437.00,173.19 437.25,177.94 437.50,182.80 437.75,187.77 438.00,193.18 438.25,198.88 438.50,204.52 438.75,209.73 439.00,214.13 439.25,218.19 439.50,222.33 439.75,226.19 440.00,229.41 440.25,231.61 440.50,232.43 440.75,231.95 441.00,230.66 441.25,228.74 441.50,226.38 441.75,223.76 442.00,220.23 442.25,214.83 442.50,208.66 442.75,202.89 443.00,198.03 443.25,193.29 443.50,188.72 443.75,184.43 444.00,180.50 444.25,176.97 444.50,173.67 444.75,170.59 445.00,167.75 445.25,165.17 445.50,162.87 445.75,160.75 446.00,158.76 446.25,156.89 446.50,155.14 446.75,153.50 447.00,151.94 447.25,150.46 447.50,149.05 447.75,147.70 448.00,146.42 448.25,145.20 448.50,144.05 448.75,142.95 449.00,141.92 449.25,140.95 449.50,140.00 449.75,139.09 450.00,138.21 450.25,137.38 450.50,136.61 450.75,135.92 451.00,135.31 451.25,134.78 451.50,134.29 451.75,133.82 452.00,133.38 452.25,132.97 452.50,132.59 452.75,132.24 453.00,131.92 453.25,131.64 453.50,131.40 453.75,131.18 454.00,130.98 454.25,130.79 454.50,130.62 454.75,130.45 455.00,130.30 455.25,130.16 455.50,130.04 455.75,129.93 456.00,129.84 456.25,129.76 456.50,129.70 456.75,129.66 457.00,129.62 457.25,129.58 457.50,129.55 457.75,129.52 458.00,129.48 458.25,129.43 458.50,129.37 458.75,129.29 459.00,129.16 459.25,128.97 459.50,128.74 459.75,128.47 460.00,128.19 460.25,127.92 460.50,127.66 460.75,127.41 461.00,127.11 461.25,126.80 461.50,126.50 461.75,126.26 462.00,126.09 462.25,126.06 462.50,126.20 462.75,126.50 463.00,126.90 463.25,127.34 463.50,127.77 463.75,128.16 464.00,128.66 464.25,129.16 464.50,129.57 464.75,129.77 465.00,129.68 465.25,129.34 465.50,128.83 465.75,128.23 466.00,127.63 466.25,127.12 466.50,126.75 466.75,126.42 467.00,126.11 467.25,125.81 467.50,125.52 467.75,125.26 468.00,125.01 468.25,124.79 468.50,124.60 468.75,124.43 469.00,124.29 469.25,124.16 469.50,124.04 469.75,123.92 470.00,123.80 470.25,123.71 470.50,123.63 470.75,123.57 471.00,123.52 471.25,123.50 471.50,123.50 471.75,123.51 472.00,123.54 472.25,123.58 472.50,123.63 472.75,123.69 473.00,123.75 473.25,123.82 473.50,123.90 473.75,123.98 474.00,124.07 474.25,124.16 474.50,124.28 474.75,124.42 475.00,124.60 475.25,124.80 475.50,125.04 475.75,125.33 476.00,125.65 476.25,126.03 476.50,126.86 476.75,128.60 477.00,130.53 477.25,131.94 477.50,132.10 477.75,130.96 478.00,129.17 478.25,127.43 478.50,126.43 478.75,126.06 479.00,125.74 479.25,125.51 479.50,125.37 479.75,125.35 480.00,125.50 480.25,125.83 480.50,126.28 480.75,126.82 481.00,127.40 481.25,127.99 481.50,128.52 481.75,129.02 482.00,129.59 482.25,130.21 482.50,130.83 482.75,131.41 483.00,131.90 483.25,132.25 483.50,132.42 483.75,132.48 484.00,132.54 484.25,132.59 484.50,132.64 484.75,132.68 485.00,132.72 485.25,132.75 485.50,132.78 485.75,132.81 486.00,132.83 486.25,132.85 486.50,132.86 486.75,132.87 487.00,132.81 487.25,132.67 487.50,132.47 487.75,132.21 488.00,131.91 488.25,131.59 488.50,131.26 488.75,130.91 489.00,130.43 489.25,129.86 489.50,129.22 489.75,128.58 490.00,127.95 490.25,127.38 490.50,126.92 490.75,126.49 491.00,126.06 491.25,125.73 491.50,125.61 491.75,125.91 492.00,126.72 492.25,127.90 492.50,129.32 492.75,131.22 493.00,134.65 493.25,138.89 493.50,143.03 493.75,146.21 494.00,149.16 494.25,151.67 494.50,152.73 494.75,152.37 495.00,151.51 495.25,150.30 495.50,148.88 495.75,147.06 496.00,143.89 496.25,140.22 496.50,137.06 496.75,135.38 497.00,134.42 497.25,133.57 497.50,132.85 497.75,132.27 498.00,131.86 498.25,131.64 498.50,131.60 498.75,131.61 499.00,131.65 499.25,131.69 499.50,131.75 499.75,131.81 500.00,131.86 500.25,131.91 500.50,131.95 500.75,131.97 501.00,131.95 501.25,131.73 501.50,131.33 501.75,130.81 502.00,130.23 502.25,129.64 502.50,129.09 502.75,128.65 503.00,128.37 503.25,128.30 503.50,128.51 503.75,129.00 504.00,129.71 504.25,130.60 504.50,131.61 504.75,132.75 505.00,134.83 505.25,137.82 505.50,141.15 505.75,144.25 506.00,146.58 506.25,148.40 506.50,150.06 506.75,151.14 507.00,151.28 507.25,150.61 507.50,149.34 507.75,147.70 508.00,145.70 508.25,141.82 508.50,137.20 508.75,133.59 509.00,132.43 509.25,131.98 509.50,131.63 509.75,131.38 510.00,131.25 510.25,131.24 510.50,131.37 510.75,131.64 511.00,132.03 511.25,132.52 511.50,133.11 511.75,133.77 512.00,134.49 512.25,135.25 512.50,136.06 512.75,137.16 513.00,138.55 513.25,140.17 513.50,141.96 513.75,143.85 514.00,145.77 514.25,147.65 514.50,149.51 514.75,151.47 515.00,153.51 515.25,155.62 515.50,157.78 515.75,159.97 516.00,162.18 516.25,164.39 516.50,166.58 516.75,168.72 517.00,170.83 517.25,172.92 517.50,175.01 517.75,177.10 518.00,179.18 518.25,181.27 518.50,183.37 518.75,185.48 519.00,187.62 519.25,189.77 519.50,191.97 519.75,194.25 520.00,196.62 520.25,199.04 520.50,201.47 520.75,203.88 521.00,206.24 521.25,208.50 521.50,210.65 521.75,212.63 522.00,214.45 522.25,216.34 522.50,218.27 522.75,220.18 523.00,221.99 523.25,223.63 523.50,225.00 523.75,226.04 524.00,226.67 524.25,226.52 524.50,225.53 524.75,223.86 525.00,221.72 525.25,219.33 525.50,216.88 525.75,214.58 526.00,212.15 526.25,209.46 526.50,206.58 526.75,203.57 527.00,200.51 527.25,197.45 527.50,194.48 527.75,191.60 528.00,188.67 528.25,185.70 528.50,182.74 528.75,179.82 529.00,176.98 529.25,174.27 529.50,171.72 529.75,169.28 530.00,166.88 530.25,164.54 530.50,162.28 530.75,160.12 531.00,158.09 531.25,156.21 531.50,154.49 531.75,152.82 532.00,151.11 532.25,149.44 532.50,147.89 532.75,146.55 533.00,145.47 533.25,144.75 533.50,144.42 533.75,144.23 534.00,144.08 534.25,143.98 534.50,143.89 534.75,143.81 535.00,143.74 535.25,143.64 535.50,143.52 535.75,143.35 536.00,143.11 536.25,142.57 536.50,141.80 536.75,140.89 537.00,139.97 537.25,139.15 537.50,138.54 537.75,138.26 538.00,138.28 538.25,138.34 538.50,138.46 538.75,138.63 539.00,138.85 539.25,139.10 539.50,139.38 539.75,139.70 540.00,140.26 540.25,141.11 540.50,142.20 540.75,143.49 541.00,144.91 541.25,146.42 541.50,147.99 541.75,149.92 542.00,152.19 542.25,154.73 542.50,157.45 542.75,160.26 543.00,163.08 543.25,165.83 543.50,168.41 543.75,170.89 544.00,173.38 544.25,175.88 544.50,178.36 544.75,180.81 545.00,183.24 545.25,185.62 545.50,187.94 545.75,190.33 546.00,192.79 546.25,195.12 546.50,197.15 546.75,198.69 547.00,199.77 547.25,200.62 547.50,201.39 547.75,202.28 548.00,203.46 548.25,205.28 548.50,207.76 548.75,210.52 549.00,213.18 549.25,215.39 549.50,217.16 549.75,218.92 550.00,220.26 550.25,220.78 550.50,220.53 550.75,219.90 551.00,218.95 551.25,217.76 551.50,216.37 551.75,214.87 552.00,213.24 552.25,210.81 552.50,207.67 552.75,204.09 553.00,200.35 553.25,196.71 553.50,193.45 553.75,190.43 554.00,187.36 554.25,184.34 554.50,181.46 554.75,178.82 555.00,176.49 555.25,174.49 555.50,172.53 555.75,170.65 556.00,168.91 556.25,167.38 556.50,166.11 556.75,165.18 557.00,164.63 557.25,164.23 557.50,163.92 557.75,163.66 558.00,163.43 558.25,163.21 558.50,162.98 558.75,162.70 559.00,162.36 559.25,161.88 559.50,161.23 559.75,160.51 560.00,159.78 560.25,159.15 560.50,158.67 560.75,158.44 561.00,158.59 561.25,159.22 561.50,160.22 561.75,161.49 562.00,162.89 562.25,165.09 562.50,168.37 562.75,172.11 563.00,175.66 563.25,178.42 563.50,181.05 563.75,183.29 564.00,184.23 564.25,183.67 564.50,182.19 564.75,180.15 565.00,177.92 565.25,174.87 565.50,170.65 565.75,166.11 566.00,162.08 566.25,159.36 566.50,157.28 566.75,155.38 567.00,153.76 567.25,152.48 567.50,151.65 567.75,151.25 568.00,150.93 568.25,150.65 568.50,150.41 568.75,150.22 569.00,150.08 569.25,150.00 569.50,149.97 569.75,150.10 570.00,150.44 570.25,150.91 570.50,151.45 570.75,151.99 571.00,152.50 571.25,153.15 571.50,153.88 571.75,154.58 572.00,155.12 572.25,155.38 572.50,155.25 572.75,154.73 573.00,153.90 573.25,152.88 573.50,151.76 573.75,150.65 574.00,149.63 574.25,148.77 574.50,147.89 574.75,146.98 575.00,146.07 575.25,145.17 575.50,144.30 575.75,143.48 576.00,142.72 576.25,142.05 576.50,141.47 576.75,140.92 577.00,140.39 577.25,139.88 577.50,139.39 577.75,138.93 578.00,138.50 578.25,138.11 578.50,137.76 578.75,137.45 579.00,137.20 579.25,137.00 579.50,136.82 579.75,136.65 580.00,136.49 580.25,136.34 580.50,136.21 580.75,136.09 581.00,136.01 581.25,135.93 581.50,135.88 581.75,135.88 582.00,135.97 582.25,136.14 582.50,136.37 582.75,136.66 583.00,136.97 583.25,137.31 583.50,137.65 583.75,137.98 584.00,138.27 584.25,138.53 584.50,138.74 584.75,138.94 585.00,139.13 585.25,139.34 585.50,139.59 585.75,139.88 586.00,140.25 586.25,140.71 586.50,141.52 586.75,142.75 587.00,144.32 587.25,146.17 587.50,148.22 587.75,150.73 588.00,154.57 588.25,158.80 588.50,162.30 588.75,164.43 589.00,166.22 589.25,167.41 589.50,167.52 589.75,166.49 590.00,164.74 590.25,162.70 590.50,160.66 590.75,157.80 591.00,154.73 591.25,152.48 591.50,151.83 591.75,151.64 592.00,151.50 592.25,151.40 592.50,151.31 592.75,151.21 593.00,151.08 593.25,150.88 593.50,150.51 593.75,149.96 594.00,149.27 594.25,148.48 594.50,147.65 594.75,146.80 595.00,146.00 595.25,145.15 595.50,144.19 595.75,143.17 596.00,142.13 596.25,141.13 596.50,140.21 596.75,139.42 597.00,138.82 597.25,138.32 597.50,137.84 597.75,137.37 598.00,136.93 598.25,136.53 598.50,136.18 598.75,135.88 599.00,135.65 599.25,135.49 599.50,135.42 599.75,135.40 600.00,135.37 600.25,135.35 600.50,135.32 600.75,135.30 601.00,135.27 601.25,135.25 601.50,135.22 601.75,135.24 602.00,135.47 602.25,135.84 602.50,136.29 602.75,136.74 603.00,137.11 603.25,137.34 603.50,137.33 603.75,136.97 604.00,136.33 604.25,135.51 604.50,134.59 604.75,133.66 605.00,132.81 605.25,132.10 605.50,131.39 605.75,130.68 606.00,129.98 606.25,129.28 606.50,128.60 606.75,127.95 607.00,127.33 607.25,126.76 607.50,126.17 607.75,125.56 608.00,124.96 608.25,124.38 608.50,123.86 608.75,123.41 609.00,123.06 609.25,122.82 609.50,122.69 609.75,122.57 610.00,122.46 610.25,122.39 610.50,122.33 610.75,122.29 611.00,122.28 611.25,122.36 611.50,122.60 611.75,122.99 612.00,123.53 612.25,124.21 612.50,125.02 612.75,127.13 613.00,131.17 613.25,136.35 613.50,141.89 613.75,148.16 614.00,155.73 614.25,164.09 614.50,172.71 614.75,182.39 615.00,192.85 615.25,202.00 615.50,209.44 615.75,216.78 616.00,222.65 616.25,225.54 616.50,224.71 616.75,221.84 617.00,217.71 617.25,213.04 617.50,208.31 617.75,202.21 618.00,195.13 618.25,187.93 618.50,181.48 618.75,176.30 619.00,171.49 619.25,167.00 619.50,162.90 619.75,159.28 620.00,156.22 620.25,153.58 620.50,151.16 620.75,148.94 621.00,146.91 621.25,145.05 621.50,143.36 621.75,141.81 622.00,140.40 622.25,139.10 622.50,137.90 622.75,136.79 623.00,135.76 623.25,134.77 623.50,133.83 623.75,132.92 624.00,132.01 624.25,131.11 624.50,130.23 624.75,129.38 625.00,128.55 625.25,127.76 625.50,127.01 625.75,126.30 626.00,125.64 626.25,125.03 626.50,124.45 626.75,123.90 627.00,123.39 627.25,122.93 627.50,122.52 627.75,122.15 628.00,121.81 628.25,121.50 628.50,121.23 628.75,121.00" fill="none" stroke="#00B0F0" stroke-width="3.3" stroke-linejoin="round" stroke-linecap="round"/>
<polyline points="36.20,160.51 36.70,160.55 37.20,160.56 37.70,160.57 38.20,160.52 38.70,160.39 39.20,160.25 39.70,160.15 40.20,160.17 40.70,160.19 41.20,160.21 41.70,160.19 42.20,160.16 42.70,160.12 43.20,160.19 43.70,160.28 44.20,160.38 44.70,160.37 45.20,160.27 45.70,160.17 46.20,160.15 46.70,160.27 47.20,160.40 47.70,160.51 48.20,160.58 48.70,160.64 49.20,160.71 49.70,160.61 50.20,160.51 50.70,160.40 51.20,160.48 51.70,160.63 52.20,160.77 52.70,160.82 53.20,160.81 53.70,160.79 54.20,160.70 54.70,160.50 55.20,160.29 55.70,160.16 56.20,160.37 56.70,160.59 57.20,160.82 57.70,160.71 58.20,160.59 58.70,160.47 59.20,160.51 59.70,160.58 60.20,160.66 60.70,160.66 61.20,160.62 61.70,160.57 62.20,160.62 62.70,160.81 63.20,161.00 63.70,161.13 64.20,161.04 64.70,160.94 65.20,160.84 65.70,160.73 66.20,160.62 66.70,160.51 67.20,160.63 67.70,160.81 68.20,161.00 68.70,161.14 69.20,161.26 69.70,161.37 70.20,161.37 70.70,161.17 71.20,160.98 71.70,160.82 72.20,160.80 72.70,160.77 73.20,160.75 73.70,160.84 74.20,160.93 74.70,161.01 75.20,161.23 75.70,161.49 76.20,161.74 76.70,161.87 77.20,161.90 77.70,161.93 78.20,161.92 78.70,161.86 79.20,161.80 79.70,161.78 80.20,161.95 80.70,162.12 81.20,162.22 81.70,162.07 82.20,161.92 82.70,161.77 83.20,161.48 83.70,161.14 84.20,160.81 84.70,160.80 85.20,161.24 85.70,161.68 86.20,161.73 86.70,161.21 87.20,160.69 87.70,161.45 88.20,161.97 88.70,162.14 89.20,161.78 89.70,161.38 90.20,161.20 90.70,161.35 91.20,161.51 91.70,161.69 92.20,161.71 92.70,161.58 93.20,161.51 93.70,161.43 94.20,161.44 94.70,161.58 95.20,161.71 95.70,161.82 96.20,161.83 96.70,161.85 97.20,161.80 97.70,161.75 98.20,161.70 98.70,161.64 99.20,161.64 99.70,161.65 100.20,161.71 100.70,161.89 101.20,162.12 101.70,162.35 102.20,162.46 102.70,162.39 103.20,162.32 103.70,162.25 104.20,162.14 104.70,161.99 105.20,161.84 105.70,161.81 106.20,161.79 106.70,161.77 107.20,161.81 107.70,161.87 108.20,161.94 108.70,161.91 109.20,161.81 109.70,161.70 110.20,161.65 110.70,161.66 111.20,161.67 111.70,161.71 112.20,161.84 112.70,161.97 113.20,162.10 113.70,161.94 114.20,161.79 114.70,161.65 115.20,161.74 115.70,161.89 116.20,162.03 116.70,162.06 117.20,162.02 117.70,161.99 118.20,162.01 118.70,162.11 119.20,162.20 119.70,162.27 120.20,162.27 120.70,162.26 121.20,162.26 121.70,162.22 122.20,162.19 122.70,162.15 123.20,162.13 123.70,162.10 124.20,162.07 124.70,162.01 125.20,161.93 125.70,161.84 126.20,161.80 126.70,161.83 127.20,161.86 127.70,161.86 128.20,161.77 128.70,161.67 129.20,161.58 129.70,161.59 130.20,161.60 130.70,161.61 131.20,161.55 131.70,161.47 132.20,161.39 132.70,161.35 133.20,161.34 133.70,161.32 134.20,161.27 134.70,161.17 135.20,161.06 135.70,160.97 136.20,160.97 136.70,160.97 137.20,160.97 137.70,161.08 138.20,161.18 138.70,161.28 139.20,161.17 139.70,161.00 140.20,160.83 140.70,160.80 141.20,160.85 141.70,160.91 142.20,160.94 142.70,160.90 143.20,160.87 143.70,160.84 144.20,160.84 144.70,160.83 145.20,160.83 145.70,160.76 146.20,160.70 146.70,160.64 147.20,160.64 147.70,160.65 148.20,160.66 148.70,160.61 149.20,160.50 149.70,160.40 150.20,160.34 150.70,160.34 151.20,160.34 151.70,160.35 152.20,160.37 152.70,160.40 153.20,160.42 153.70,160.42 154.20,160.41 154.70,160.40 155.20,160.40 155.70,160.39 156.20,160.38 156.70,160.39 157.20,160.39 157.70,160.40 158.20,160.44 158.70,160.53 159.20,160.61 159.70,160.66 160.20,160.60 160.70,160.54 161.20,160.47 161.70,160.62 162.20,160.77 162.70,160.92 163.20,160.91 163.70,160.87 164.20,160.83 164.70,160.80 165.20,160.78 165.70,160.76 166.20,160.76 166.70,160.80 167.20,160.84 167.70,160.86 168.20,160.78 168.70,160.71 169.20,160.63 169.70,160.76 170.20,160.90 170.70,161.03 171.20,161.05 171.70,161.04 172.20,161.04 172.70,161.03 173.20,161.02 173.70,161.01 174.20,160.99 174.70,160.95 175.20,160.91 175.70,160.90 176.20,160.98 176.70,161.06 177.20,161.14 177.70,161.13 178.20,161.13 178.70,161.12 179.20,161.11 179.70,161.11 180.20,161.11 180.70,161.15 181.20,161.22 181.70,161.29 182.20,161.34 182.70,161.32 183.20,161.31 183.70,161.31 184.20,161.31 184.70,161.31 185.20,161.32 185.70,161.42 186.20,161.52 186.70,161.62 187.20,161.64 187.70,161.65 188.20,161.65 188.70,161.70 189.20,161.78 189.70,161.85 190.20,161.97 190.70,162.15 191.20,162.33 191.70,162.49 192.20,162.58 192.70,162.67 193.20,162.76 193.70,162.87 194.20,162.97 194.70,163.08 195.20,163.14 195.70,163.19 196.20,163.23 196.70,163.25 197.20,163.25 197.70,163.25 198.20,163.23 198.70,163.19 199.20,163.15 199.70,163.14 200.20,163.25 200.70,163.35 201.20,163.45 201.70,163.55 202.20,163.65 202.70,163.74 203.20,163.76 203.70,163.80 204.20,163.83 204.70,163.85 205.20,163.86 205.70,163.86 206.20,163.89 206.70,163.95 207.20,164.01 207.70,164.05 208.20,164.08 208.70,164.13 209.20,164.17 209.70,164.25 210.20,164.33 210.70,164.41 211.20,164.48 211.70,164.55 212.20,164.62 212.70,164.79 213.20,165.03 213.70,165.29 214.20,165.55 214.70,165.68 215.20,165.82 215.70,165.95 216.20,166.04 216.70,166.20 217.20,166.47 217.70,166.88 218.20,167.29 218.70,167.70 219.20,167.75 219.70,167.38 220.20,167.01 220.70,166.68 221.20,166.36 221.70,166.04 222.20,165.97 222.70,165.99 223.20,166.02 223.70,166.02 224.20,165.94 224.70,165.85 225.20,165.86 225.70,166.00 226.20,166.13 226.70,166.27 227.20,166.41 227.70,166.46 228.20,166.19 228.70,165.99 229.20,165.83 229.70,165.68 230.20,165.51 230.70,165.34 231.20,165.23 231.70,165.18 232.20,165.01 232.70,164.84 233.20,164.66 233.70,164.52 234.20,164.38 234.70,164.23 235.20,164.14 235.70,164.06 236.20,164.00 236.70,163.96 237.20,163.93 237.70,163.89 238.20,163.92 238.70,164.05 239.20,164.17 239.70,164.25 240.20,164.13 240.70,164.01 241.20,163.90 241.70,163.91 242.20,163.93 242.70,163.94 243.20,163.82 243.70,163.65 244.20,163.49 244.70,163.41 245.20,163.39 245.70,163.39 246.20,163.40 246.70,163.45 247.20,163.50 247.70,163.53 248.20,163.53 248.70,163.53 249.20,163.52 249.70,163.37 250.20,163.22 250.70,163.07 251.20,162.96 251.70,162.85 252.20,162.75 252.70,162.77 253.20,162.87 253.70,162.98 254.20,162.98 254.70,162.82 255.20,162.68 255.70,162.58 256.20,162.64 256.70,162.71 257.20,162.77 257.70,162.65 258.20,162.53 258.70,162.42 259.20,162.48 259.70,162.58 260.20,162.69 260.70,162.75 261.20,162.79 261.70,162.83 262.20,162.85 262.70,162.84 263.20,162.84 263.70,162.82 264.20,162.77 264.70,162.72 265.20,162.67 265.70,162.76 266.20,162.85 266.70,162.93 267.20,162.88 267.70,162.78 268.20,162.69 268.70,162.67 269.20,162.72 269.70,162.76 270.20,162.79 270.70,162.82 271.20,162.84 271.70,162.87 272.20,162.95 272.70,163.04 273.20,163.13 273.70,162.99 274.20,162.85 274.70,162.72 275.20,162.80 275.70,162.94 276.20,163.07 276.70,163.12 277.20,163.10 277.70,163.09 278.20,163.09 278.70,163.12 279.20,163.15 279.70,163.16 280.20,163.04 280.70,162.93 281.20,162.82 281.70,162.79 282.20,162.75 282.70,162.72 283.20,162.72 283.70,162.73 284.20,162.73 284.70,162.80 285.20,162.91 285.70,163.02 286.20,163.10 286.70,163.12 287.20,163.15 287.70,163.16 288.20,163.11 288.70,163.06 289.20,163.00 289.70,162.96 290.20,162.92 290.70,162.88 291.20,162.84 291.70,162.80 292.20,162.77 292.70,162.81 293.20,162.91 293.70,163.02 294.20,163.08 294.70,163.09 295.20,163.09 295.70,163.07 296.20,162.92 296.70,162.77 297.20,162.62 297.70,162.65 298.20,162.67 298.70,162.69 299.20,162.79 299.70,162.90 300.20,163.01 300.70,163.06 301.20,163.06 301.70,163.06 302.20,163.02 302.70,162.92 303.20,162.82 303.70,162.74 304.20,162.73 304.70,162.72 305.20,162.71 305.70,162.74 306.20,162.77 306.70,162.79 307.20,162.81 307.70,162.83 308.20,162.85 308.70,162.81 309.20,162.72 309.70,162.64 310.20,162.64 310.70,162.78 311.20,162.92 311.70,163.01 312.20,162.96 312.70,162.90 313.20,162.84 313.70,162.88 314.20,162.92 314.70,162.97 315.20,162.89 315.70,162.79 316.20,162.68 316.70,162.72 317.20,162.86 317.70,163.00 318.20,163.06 318.70,163.02 319.20,162.97 319.70,162.93 320.20,162.85 320.70,162.77 321.20,162.69 321.70,162.80 322.20,162.91 322.70,163.02 323.20,163.00 323.70,162.96 324.20,162.91 324.70,162.90 325.20,162.92 325.70,162.95 326.20,162.90 326.70,162.75 327.20,162.60 327.70,162.48 328.20,162.48 328.70,162.47 329.20,162.47 329.70,162.60 330.20,162.73 330.70,162.85 331.20,162.81 331.70,162.72 332.20,162.64 332.70,162.63 333.20,162.66 333.70,162.70 334.20,162.69 334.70,162.62 335.20,162.55 335.70,162.53 336.20,162.68 336.70,162.83 337.20,162.98 337.70,162.89 338.20,162.79 338.70,162.70 339.20,162.73 339.70,162.79 340.20,162.84 340.70,162.78 341.20,162.63 341.70,162.49 342.20,162.43 342.70,162.50 343.20,162.58 343.70,162.62 344.20,162.53 344.70,162.43 345.20,162.32 345.70,162.49 346.20,162.69 346.70,162.91 347.20,162.87 347.70,162.75 348.20,162.61 348.70,162.47 349.20,162.33 349.70,162.18 350.20,162.07 350.70,162.05 351.20,162.03 351.70,162.04 352.20,162.23 352.70,162.43 353.20,162.63 353.70,162.42 354.20,162.21 354.70,162.00 355.20,162.00 355.70,162.04 356.20,162.08 356.70,162.16 357.20,162.27 357.70,162.38 358.20,162.41 358.70,162.34 359.20,162.28 359.70,162.21 360.20,162.15 360.70,162.10 361.20,162.00 361.70,161.81 362.20,161.63 362.70,161.44 363.20,161.16 363.70,160.85 364.20,160.54 364.70,160.87 365.20,161.28 365.70,161.70 366.20,161.99 366.70,162.01 367.20,161.91 367.70,161.87 368.20,162.02 368.70,162.17 369.20,162.27 369.70,162.47 370.20,162.66 370.70,162.85 371.20,162.64 371.70,162.32 372.20,162.02 372.70,161.92 373.20,161.94 373.70,161.97 374.20,161.98 374.70,161.99 375.20,161.99 375.70,162.01 376.20,162.11 376.70,162.21 377.20,162.30 377.70,162.09 378.20,161.87 378.70,161.66 379.20,161.62 379.70,161.63 380.20,161.63 380.70,161.75 381.20,161.92 381.70,162.10 382.20,162.15 382.70,162.00 383.20,161.85 383.70,161.77 384.20,161.91 384.70,161.95 385.20,161.99 385.70,161.86 386.20,161.72 386.70,161.74 387.20,161.87 387.70,161.98 388.20,162.09 388.70,162.28 389.20,162.42 389.70,162.37 390.20,162.25 390.70,162.02 391.20,161.80 391.70,161.56 392.20,161.34 392.70,161.15 393.20,160.96 393.70,161.09 394.20,161.23 394.70,161.37 395.20,161.34 395.70,161.29 396.20,161.23 396.70,161.24 397.20,161.27 397.70,161.30 398.20,161.25 398.70,161.10 399.20,160.97 399.70,160.88 400.20,160.88 400.70,160.86 401.20,160.85 401.70,160.93 402.20,161.01 402.70,161.09 403.20,161.00 403.70,160.87 404.20,160.75 404.70,160.70 405.20,160.70 405.70,160.71 406.20,160.75 406.70,160.83 407.20,160.92 407.70,160.96 408.20,160.83 408.70,160.70 409.20,160.57 409.70,160.54 410.20,160.52 410.70,160.49 411.20,160.57 411.70,160.68 412.20,160.78 412.70,160.81 413.20,160.78 413.70,160.76 414.20,160.75 414.70,160.76 415.20,160.77 415.70,160.76 416.20,160.66 416.70,160.55 417.20,160.45 417.70,160.52 418.20,160.60 418.70,160.67 419.20,160.63 419.70,160.56 420.20,160.49 420.70,160.49 421.20,160.55 421.70,160.60 422.20,160.67 422.70,160.76 423.20,160.86 423.70,160.92 424.20,160.81 424.70,160.71 425.20,160.63 425.70,160.70 426.20,160.76 426.70,160.81 427.20,160.90 427.70,160.98 428.20,161.04 428.70,161.06 429.20,161.05 429.70,161.05 430.20,161.05 430.70,161.05 431.20,161.06 431.70,161.09 432.00,161.76 432.25,161.91 432.50,162.08 432.75,162.28 433.00,162.53 433.25,162.95 433.50,163.57 433.75,164.38 434.00,165.36 434.25,166.52 434.50,168.42 434.75,171.06 435.00,174.10 435.25,177.17 435.50,180.47 435.75,184.10 436.00,187.93 436.25,191.85 436.50,195.75 436.75,199.64 437.00,203.58 437.25,207.60 437.50,211.70 437.75,215.91 438.00,220.47 438.25,225.29 438.50,230.06 438.75,234.46 439.00,238.18 439.25,241.61 439.50,245.11 439.75,248.37 440.00,251.09 440.25,252.95 440.50,253.64 440.75,253.23 441.00,252.13 441.25,250.50 441.50,248.49 441.75,246.27 442.00,243.28 442.25,238.70 442.50,233.48 442.75,228.61 443.00,224.50 443.25,220.48 443.50,216.62 443.75,212.99 444.00,209.67 444.25,206.68 444.50,203.89 444.75,201.29 445.00,198.89 445.25,196.71 445.50,194.76 445.75,192.97 446.00,191.28 446.25,189.71 446.50,188.23 446.75,186.84 447.00,185.52 447.25,184.27 447.50,183.08 447.75,181.94 448.00,180.86 448.25,179.83 448.50,178.85 448.75,177.92 449.00,177.05 449.25,176.23 449.50,175.43 449.75,174.66 450.00,173.92 450.25,173.22 450.50,172.57 450.75,171.98 451.00,171.47 451.25,171.02 451.50,170.60 451.75,170.21 452.00,169.84 452.25,169.49 452.50,169.17 452.75,168.87 453.00,168.61 453.25,168.37 453.50,168.16 453.75,167.98 454.00,167.81 454.25,167.65 454.50,167.50 454.75,167.36 455.00,167.23 455.25,167.11 455.50,167.00 455.75,166.91 456.00,166.83 456.25,166.77 456.50,166.72 456.75,166.67 457.00,166.64 457.25,166.61 457.50,166.58 457.75,166.55 458.00,166.52 458.25,166.47 458.50,166.42 458.75,166.36 459.00,166.25 459.25,166.08 459.50,165.89 459.75,165.66 460.00,165.43 460.25,165.19 460.50,164.97 460.75,164.76 461.00,164.52 461.25,164.25 461.50,164.00 461.75,163.79 462.00,163.66 462.25,163.62 462.50,163.74 462.75,163.99 463.00,164.33 463.25,164.70 463.50,165.05 463.75,165.38 464.00,165.79 464.25,166.21 464.50,166.55 464.75,166.72 465.00,166.64 465.25,166.36 465.50,165.93 465.75,165.43 466.00,164.92 466.25,164.49 466.50,164.18 466.75,163.91 467.00,163.64 467.25,163.39 467.50,163.15 467.75,162.93 468.00,162.72 468.25,162.54 468.50,162.37 468.75,162.23 469.00,162.12 469.25,162.01 469.50,161.90 469.75,161.80 470.00,161.71 470.25,161.62 470.50,161.54 470.75,161.48 471.00,161.43 471.25,161.40 471.50,161.39 471.75,161.39 472.00,161.41 472.25,161.43 472.50,161.46 472.75,161.50 473.00,161.54 473.25,161.59 473.50,161.65 473.75,161.71 474.00,161.77 474.25,161.84 474.50,161.93 474.75,162.04 475.00,162.17 475.25,162.33 475.50,162.52 475.75,162.75 476.00,163.01 476.25,163.32 476.50,164.00 476.75,165.43 477.00,167.03 477.25,168.19 477.50,168.32 477.75,167.36 478.00,165.86 478.25,164.40 478.50,163.56 478.75,163.24 479.00,162.97 479.25,162.76 479.50,162.64 479.75,162.61 480.00,162.73 480.25,162.99 480.50,163.36 480.75,163.80 481.00,164.27 481.25,164.74 481.50,165.18 481.75,165.58 482.00,166.05 482.25,166.55 482.50,167.06 482.75,167.53 483.00,167.92 483.25,168.21 483.50,168.34 483.75,168.38 484.00,168.41 484.25,168.45 484.50,168.47 484.75,168.50 485.00,168.52 485.25,168.54 485.50,168.55 485.75,168.56 486.00,168.57 486.25,168.58 486.50,168.58 486.75,168.57 487.00,168.51 487.25,168.39 487.50,168.21 487.75,167.98 488.00,167.72 488.25,167.45 488.50,167.17 488.75,166.86 489.00,166.46 489.25,165.97 489.50,165.44 489.75,164.89 490.00,164.36 490.25,163.89 490.50,163.49 490.75,163.12 491.00,162.76 491.25,162.48 491.50,162.37 491.75,162.61 492.00,163.27 492.25,164.23 492.50,165.39 492.75,166.96 493.00,169.78 493.25,173.27 493.50,176.68 493.75,179.30 494.00,181.73 494.25,183.79 494.50,184.65 494.75,184.38 495.00,183.68 495.25,182.69 495.50,181.53 495.75,180.03 496.00,177.41 496.25,174.36 496.50,171.74 496.75,170.34 497.00,169.53 497.25,168.82 497.50,168.22 497.75,167.73 498.00,167.39 498.25,167.20 498.50,167.16 498.75,167.17 499.00,167.20 499.25,167.24 499.50,167.28 499.75,167.33 500.00,167.37 500.25,167.41 500.50,167.44 500.75,167.46 501.00,167.44 501.25,167.25 501.50,166.91 501.75,166.46 502.00,165.96 502.25,165.45 502.50,164.97 502.75,164.59 503.00,164.34 503.25,164.27 503.50,164.45 503.75,164.87 504.00,165.48 504.25,166.24 504.50,167.12 504.75,168.11 505.00,169.92 505.25,172.53 505.50,175.44 505.75,178.17 506.00,180.21 506.25,181.83 506.50,183.31 506.75,184.28 507.00,184.41 507.25,183.80 507.50,182.66 507.75,181.21 508.00,179.43 508.25,176.01 508.50,171.94 508.75,168.75 509.00,167.72 509.25,167.31 509.50,166.99 509.75,166.77 510.00,166.64 510.25,166.62 510.50,166.72 510.75,166.94 511.00,167.27 511.25,167.70 511.50,168.20 511.75,168.76 512.00,169.38 512.25,170.03 512.50,170.72 512.75,171.67 513.00,172.88 513.25,174.28 513.50,175.83 513.75,177.46 514.00,179.12 514.25,180.75 514.50,182.35 514.75,184.04 515.00,185.81 515.25,187.63 515.50,189.49 515.75,191.39 516.00,193.29 516.25,195.19 516.50,197.08 516.75,198.92 517.00,200.74 517.25,202.54 517.50,204.33 517.75,206.12 518.00,207.91 518.25,209.70 518.50,211.50 518.75,213.31 519.00,215.14 519.25,216.99 519.50,218.86 519.75,220.82 520.00,222.85 520.25,224.92 520.50,227.00 520.75,229.06 521.00,231.07 521.25,233.01 521.50,234.84 521.75,236.52 522.00,238.07 522.25,239.67 522.50,241.31 522.75,242.94 523.00,244.47 523.25,245.85 523.50,247.01 523.75,247.88 524.00,248.39 524.25,248.26 524.50,247.41 524.75,245.98 525.00,244.14 525.25,242.08 525.50,239.97 525.75,237.98 526.00,235.89 526.25,233.56 526.50,231.08 526.75,228.48 527.00,225.83 527.25,223.19 527.50,220.62 527.75,218.12 528.00,215.59 528.25,213.02 528.50,210.45 528.75,207.92 529.00,205.46 529.25,203.11 529.50,200.89 529.75,198.77 530.00,196.69 530.25,194.65 530.50,192.69 530.75,190.81 531.00,189.05 531.25,187.41 531.50,185.91 531.75,184.45 532.00,182.96 532.25,181.51 532.50,180.16 532.75,178.98 533.00,178.04 533.25,177.40 533.50,177.11 533.75,176.94 534.00,176.80 534.25,176.70 534.50,176.62 534.75,176.55 535.00,176.47 535.25,176.38 535.50,176.27 535.75,176.12 536.00,175.90 536.25,175.42 536.50,174.74 536.75,173.94 537.00,173.13 537.25,172.41 537.50,171.87 537.75,171.61 538.00,171.62 538.25,171.69 538.50,171.80 538.75,171.96 539.00,172.15 539.25,172.38 539.50,172.64 539.75,172.92 540.00,173.42 540.25,174.17 540.50,175.14 540.75,176.27 541.00,177.52 541.25,178.85 541.50,180.24 541.75,181.93 542.00,183.94 542.25,186.17 542.50,188.56 542.75,191.04 543.00,193.52 543.25,195.94 543.50,198.22 543.75,200.41 544.00,202.61 544.25,204.81 544.50,207.00 544.75,209.18 545.00,211.32 545.25,213.43 545.50,215.48 545.75,217.60 546.00,219.78 546.25,221.85 546.50,223.65 546.75,225.02 547.00,225.99 547.25,226.75 547.50,227.45 547.75,228.26 548.00,229.31 548.25,230.94 548.50,233.14 548.75,235.59 549.00,237.96 549.25,239.92 549.50,241.50 549.75,243.07 550.00,244.28 550.25,244.76 550.50,244.51 550.75,243.93 551.00,243.08 551.25,242.00 551.50,240.77 551.75,239.43 552.00,237.97 552.25,235.81 552.50,233.04 552.75,229.87 553.00,226.56 553.25,223.35 553.50,220.48 553.75,217.81 554.00,215.10 554.25,212.44 554.50,209.91 554.75,207.58 555.00,205.53 555.25,203.77 555.50,202.05 555.75,200.39 556.00,198.86 556.25,197.51 556.50,196.40 556.75,195.58 557.00,195.09 557.25,194.74 557.50,194.46 557.75,194.23 558.00,194.02 558.25,193.83 558.50,193.62 558.75,193.37 559.00,193.07 559.25,192.64 559.50,192.07 559.75,191.44 560.00,190.81 560.25,190.25 560.50,189.83 560.75,189.62 561.00,189.75 561.25,190.29 561.50,191.16 561.75,192.25 562.00,193.47 562.25,195.37 562.50,198.21 562.75,201.44 563.00,204.51 563.25,206.90 563.50,209.17 563.75,211.10 564.00,211.89 564.25,211.39 564.50,210.10 564.75,208.32 565.00,206.39 565.25,203.73 565.50,200.08 565.75,196.15 566.00,192.67 566.25,190.31 566.50,188.51 566.75,186.87 567.00,185.46 567.25,184.36 567.50,183.65 567.75,183.30 568.00,183.02 568.25,182.77 568.50,182.56 568.75,182.40 569.00,182.28 569.25,182.20 569.50,182.18 569.75,182.28 570.00,182.57 570.25,182.97 570.50,183.43 570.75,183.89 571.00,184.32 571.25,184.87 571.50,185.49 571.75,186.09 572.00,186.54 572.25,186.77 572.50,186.65 572.75,186.20 573.00,185.49 573.25,184.61 573.50,183.65 573.75,182.70 574.00,181.83 574.25,181.10 574.50,180.34 574.75,179.57 575.00,178.79 575.25,178.02 575.50,177.28 575.75,176.58 576.00,175.94 576.25,175.37 576.50,174.88 576.75,174.42 577.00,173.96 577.25,173.53 577.50,173.11 577.75,172.72 578.00,172.36 578.25,172.03 578.50,171.74 578.75,171.48 579.00,171.27 579.25,171.10 579.50,170.95 579.75,170.81 580.00,170.68 580.25,170.55 580.50,170.44 580.75,170.35 581.00,170.27 581.25,170.22 581.50,170.19 581.75,170.20 582.00,170.29 582.25,170.44 582.50,170.65 582.75,170.90 583.00,171.18 583.25,171.47 583.50,171.76 583.75,172.05 584.00,172.31 584.25,172.53 584.50,172.72 584.75,172.90 585.00,173.07 585.25,173.25 585.50,173.47 585.75,173.72 586.00,174.04 586.25,174.43 586.50,175.12 586.75,176.16 587.00,177.48 587.25,179.03 587.50,180.74 587.75,182.85 588.00,186.05 588.25,189.58 588.50,192.50 588.75,194.27 589.00,195.77 589.25,196.76 589.50,196.87 589.75,196.05 590.00,194.64 590.25,192.98 590.50,191.31 590.75,188.96 591.00,186.44 591.25,184.58 591.50,184.07 591.75,183.95 592.00,183.87 592.25,183.82 592.50,183.77 592.75,183.72 593.00,183.64 593.25,183.50 593.50,183.22 593.75,182.79 594.00,182.24 594.25,181.61 594.50,180.93 594.75,180.25 595.00,179.60 595.25,178.91 595.50,178.12 595.75,177.28 596.00,176.43 596.25,175.61 596.50,174.85 596.75,174.21 597.00,173.72 597.25,173.32 597.50,172.93 597.75,172.56 598.00,172.21 598.25,171.89 598.50,171.61 598.75,171.38 599.00,171.20 599.25,171.09 599.50,171.06 599.75,171.06 600.00,171.06 600.25,171.06 600.50,171.06 600.75,171.06 601.00,171.06 601.25,171.06 601.50,171.07 601.75,171.11 602.00,171.32 602.25,171.67 602.50,172.09 602.75,172.50 603.00,172.85 603.25,173.07 603.50,173.08 603.75,172.80 604.00,172.27 604.25,171.57 604.50,170.79 604.75,170.00 605.00,169.29 605.25,168.69 605.50,168.09 605.75,167.49 606.00,166.89 606.25,166.30 606.50,165.73 606.75,165.18 607.00,164.65 607.25,164.16 607.50,163.66 607.75,163.14 608.00,162.63 608.25,162.14 608.50,161.69 608.75,161.31 609.00,161.02 609.25,160.83 609.50,160.73 609.75,160.63 610.00,160.55 610.25,160.50 610.50,160.46 610.75,160.43 611.00,160.43 611.25,160.51 611.50,160.73 611.75,161.09 612.00,161.58 612.25,162.20 612.50,162.94 612.75,164.83 613.00,168.46 613.25,173.12 613.50,178.10 613.75,183.75 614.00,190.58 614.25,198.12 614.50,205.92 614.75,214.68 615.00,224.15 615.25,232.46 615.50,239.23 615.75,245.94 616.00,251.32 616.25,254.00 616.50,253.43 616.75,251.01 617.00,247.44 617.25,243.36 617.50,239.20 617.75,233.79 618.00,227.45 618.25,220.98 618.50,215.17 618.75,210.51 619.00,206.18 619.25,202.12 619.50,198.41 619.75,195.13 620.00,192.36 620.25,189.96 620.50,187.76 620.75,185.75 621.00,183.90 621.25,182.21 621.50,180.67 621.75,179.26 622.00,177.97 622.25,176.78 622.50,175.69 622.75,174.67 623.00,173.72 623.25,172.81 623.50,171.95 623.75,171.10 624.00,170.26 624.25,169.42 624.50,168.60 624.75,167.80 625.00,167.02 625.25,166.27 625.50,165.56 625.75,164.89 626.00,164.26 626.25,163.68 626.50,163.12 626.75,162.59 627.00,162.11 627.25,161.66 627.50,161.27 627.75,160.91 628.00,160.58 628.25,160.28 628.50,160.02 628.75,159.80" fill="none" stroke="#FF0000" stroke-width="3.3" stroke-linejoin="round" stroke-linecap="round"/>
<polyline points="36.20,197.92 36.70,197.88 37.20,197.81 37.70,197.73 38.20,197.75 38.70,197.91 39.20,198.06 39.70,198.16 40.20,197.99 40.70,197.82 41.20,197.64 41.70,197.69 42.20,197.75 42.70,197.82 43.20,197.87 43.70,197.92 44.20,197.98 44.70,198.06 45.20,198.16 45.70,198.26 46.20,198.27 46.70,198.14 47.20,198.00 47.70,197.92 48.20,198.12 48.70,198.32 49.20,198.53 49.70,198.59 50.20,198.64 50.70,198.70 51.20,198.53 51.70,198.29 52.20,198.04 52.70,198.03 53.20,198.18 53.70,198.34 54.20,198.37 54.70,198.18 55.20,197.98 55.70,197.84 56.20,197.99 56.70,198.14 57.20,198.29 57.70,198.17 58.20,198.05 58.70,197.92 59.20,198.19 59.70,198.57 60.20,198.95 60.70,198.99 61.20,198.79 61.70,198.59 62.20,198.56 62.70,198.78 63.20,199.01 63.70,199.17 64.20,199.12 64.70,199.07 65.20,199.02 65.70,199.07 66.20,199.11 66.70,199.16 67.20,198.96 67.70,198.69 68.20,198.43 68.70,198.31 69.20,198.28 69.70,198.26 70.20,198.33 70.70,198.56 71.20,198.79 71.70,198.94 72.20,198.78 72.70,198.62 73.20,198.46 73.70,198.71 74.20,198.96 74.70,199.20 75.20,199.16 75.70,199.04 76.20,198.93 76.70,198.92 77.20,198.98 77.70,199.05 78.20,199.18 78.70,199.41 79.20,199.65 79.70,199.81 80.20,199.71 80.70,199.61 81.20,199.43 81.70,199.16 82.20,198.88 82.70,198.60 83.20,198.47 83.70,198.37 84.20,198.28 84.70,198.51 85.20,199.19 85.70,199.86 86.20,199.98 86.70,199.28 87.20,198.58 87.70,199.10 88.20,199.66 88.70,199.90 89.20,199.66 89.70,199.28 90.20,199.10 90.70,199.22 91.20,199.49 91.70,199.81 92.20,199.98 92.70,199.82 93.20,199.58 93.70,199.35 94.20,199.28 94.70,199.47 95.20,199.65 95.70,199.84 96.20,199.99 96.70,200.14 97.20,200.24 97.70,199.94 98.20,199.65 98.70,199.36 99.20,199.32 99.70,199.34 100.20,199.41 100.70,199.52 101.20,199.62 101.70,199.72 102.20,199.83 102.70,199.95 103.20,200.07 103.70,200.14 104.20,199.99 104.70,199.80 105.20,199.60 105.70,199.71 106.20,199.82 106.70,199.92 107.20,199.95 107.70,199.96 108.20,199.98 108.70,200.07 109.20,200.18 109.70,200.30 110.20,200.28 110.70,200.07 111.20,199.86 111.70,199.72 112.20,199.83 112.70,199.94 113.20,200.04 113.70,199.88 114.20,199.73 114.70,199.59 115.20,199.65 115.70,199.76 116.20,199.86 116.70,199.84 117.20,199.75 117.70,199.66 118.20,199.69 118.70,199.90 119.20,200.10 119.70,200.21 120.20,200.07 120.70,199.93 121.20,199.80 121.70,199.88 122.20,199.95 122.70,200.01 123.20,199.93 123.70,199.81 124.20,199.70 124.70,199.70 125.20,199.76 125.70,199.83 126.20,199.81 126.70,199.68 127.20,199.56 127.70,199.44 128.20,199.39 128.70,199.34 129.20,199.29 129.70,199.30 130.20,199.30 130.70,199.31 131.20,199.32 131.70,199.33 132.20,199.34 132.70,199.32 133.20,199.28 133.70,199.24 134.20,199.18 134.70,199.09 135.20,199.00 135.70,198.90 136.20,198.76 136.70,198.62 137.20,198.48 137.70,198.54 138.20,198.60 138.70,198.65 139.20,198.58 139.70,198.48 140.20,198.38 140.70,198.37 141.20,198.43 141.70,198.49 142.20,198.52 142.70,198.52 143.20,198.52 143.70,198.50 144.20,198.41 144.70,198.31 145.20,198.22 145.70,198.21 146.20,198.21 146.70,198.21 147.20,198.12 147.70,198.01 148.20,197.90 148.70,197.90 149.20,197.98 149.70,198.07 150.20,198.09 150.70,198.02 151.20,197.94 151.70,197.90 152.20,197.99 152.70,198.08 153.20,198.18 153.70,198.14 154.20,198.09 154.70,198.05 155.20,198.11 155.70,198.19 156.20,198.27 156.70,198.22 157.20,198.09 157.70,197.97 158.20,197.90 158.70,197.92 159.20,197.94 159.70,197.98 160.20,198.09 160.70,198.21 161.20,198.33 161.70,198.30 162.20,198.28 162.70,198.26 163.20,198.28 163.70,198.30 164.20,198.32 164.70,198.37 165.20,198.43 165.70,198.50 166.20,198.51 166.70,198.46 167.20,198.41 167.70,198.38 168.20,198.45 168.70,198.53 169.20,198.60 169.70,198.56 170.20,198.52 170.70,198.48 171.20,198.55 171.70,198.64 172.20,198.74 172.70,198.76 173.20,198.73 173.70,198.69 174.20,198.64 174.70,198.56 175.20,198.49 175.70,198.43 176.20,198.49 176.70,198.55 177.20,198.61 177.70,198.72 178.20,198.84 178.70,198.95 179.20,198.91 179.70,198.83 180.20,198.76 180.70,198.72 181.20,198.72 181.70,198.73 182.20,198.77 182.70,198.87 183.20,198.97 183.70,199.06 184.20,199.10 184.70,199.14 185.20,199.18 185.70,199.29 186.20,199.40 186.70,199.51 187.20,199.56 187.70,199.60 188.20,199.64 188.70,199.68 189.20,199.72 189.70,199.76 190.20,199.83 190.70,199.94 191.20,200.04 191.70,200.14 192.20,200.22 192.70,200.30 193.20,200.37 193.70,200.53 194.20,200.70 194.70,200.86 195.20,200.95 195.70,201.03 196.20,201.11 196.70,201.14 197.20,201.13 197.70,201.11 198.20,201.08 198.70,201.03 199.20,200.97 199.70,200.95 200.20,201.11 200.70,201.26 201.20,201.40 201.70,201.41 202.20,201.41 202.70,201.41 203.20,201.46 203.70,201.56 204.20,201.66 204.70,201.69 205.20,201.67 205.70,201.65 206.20,201.65 206.70,201.67 207.20,201.68 207.70,201.73 208.20,201.92 208.70,202.12 209.20,202.32 209.70,202.33 210.20,202.34 210.70,202.35 211.20,202.52 211.70,202.74 212.20,202.96 212.70,203.11 213.20,203.22 213.70,203.34 214.20,203.53 214.70,203.67 215.20,203.81 215.70,203.98 216.20,204.29 216.70,204.68 217.20,205.19 217.70,205.46 218.20,205.73 218.70,205.99 219.20,206.18 219.70,205.98 220.20,205.77 220.70,205.40 221.20,204.90 221.70,204.41 222.20,204.22 222.70,204.19 223.20,204.16 223.70,204.12 224.20,204.03 224.70,203.94 225.20,203.96 225.70,204.20 226.20,204.43 226.70,204.67 227.20,204.87 227.70,204.97 228.20,204.70 228.70,204.32 229.20,203.88 229.70,203.44 230.20,203.06 230.70,202.79 231.20,202.59 231.70,202.52 232.20,202.52 232.70,202.53 233.20,202.54 233.70,202.35 234.20,202.16 234.70,201.98 235.20,201.96 235.70,201.99 236.20,202.03 236.70,202.01 237.20,201.94 237.70,201.87 238.20,201.81 238.70,201.79 239.20,201.77 239.70,201.73 240.20,201.64 240.70,201.54 241.20,201.45 241.70,201.37 242.20,201.29 242.70,201.21 243.20,201.26 243.70,201.33 244.20,201.41 244.70,201.39 245.20,201.31 245.70,201.24 246.20,201.13 246.70,200.97 247.20,200.80 247.70,200.66 248.20,200.65 248.70,200.63 249.20,200.62 249.70,200.68 250.20,200.75 250.70,200.81 251.20,200.75 251.70,200.65 252.20,200.55 252.70,200.50 253.20,200.49 253.70,200.48 254.20,200.49 254.70,200.53 255.20,200.57 255.70,200.60 256.20,200.51 256.70,200.42 257.20,200.33 257.70,200.43 258.20,200.53 258.70,200.63 259.20,200.63 259.70,200.59 260.20,200.57 260.70,200.55 261.20,200.54 261.70,200.54 262.20,200.53 262.70,200.49 263.20,200.46 263.70,200.46 264.20,200.54 264.70,200.63 265.20,200.71 265.70,200.82 266.20,200.93 266.70,201.04 267.20,201.13 267.70,201.20 268.20,201.28 268.70,201.22 269.20,201.08 269.70,200.92 270.20,200.84 270.70,200.86 271.20,200.87 271.70,200.90 272.20,201.01 272.70,201.12 273.20,201.23 273.70,201.24 274.20,201.25 274.70,201.26 275.20,201.14 275.70,200.99 276.20,200.84 276.70,200.86 277.20,200.98 277.70,201.11 278.20,201.17 278.70,201.15 279.20,201.12 279.70,201.10 280.20,201.06 280.70,201.02 281.20,200.98 281.70,200.90 282.20,200.81 282.70,200.73 283.20,200.71 283.70,200.71 284.20,200.71 284.70,200.69 285.20,200.65 285.70,200.61 286.20,200.62 286.70,200.69 287.20,200.75 287.70,200.78 288.20,200.67 288.70,200.55 289.20,200.43 289.70,200.41 290.20,200.39 290.70,200.37 291.20,200.44 291.70,200.53 292.20,200.63 292.70,200.65 293.20,200.63 293.70,200.61 294.20,200.60 294.70,200.59 295.20,200.58 295.70,200.57 296.20,200.53 296.70,200.48 297.20,200.44 297.70,200.30 298.20,200.15 298.70,200.01 299.20,199.97 299.70,199.97 300.20,199.96 300.70,200.01 301.20,200.10 301.70,200.18 302.20,200.26 302.70,200.31 303.20,200.37 303.70,200.42 304.20,200.42 304.70,200.43 305.20,200.43 305.70,200.39 306.20,200.34 306.70,200.29 307.20,200.33 307.70,200.39 308.20,200.45 308.70,200.39 309.20,200.24 309.70,200.09 310.20,200.01 310.70,200.02 311.20,200.03 311.70,200.05 312.20,200.07 312.70,200.09 313.20,200.12 313.70,200.10 314.20,200.09 314.70,200.08 315.20,200.09 315.70,200.10 316.20,200.11 316.70,200.09 317.20,200.06 317.70,200.02 318.20,200.02 318.70,200.07 319.20,200.12 319.70,200.15 320.20,200.09 320.70,200.03 321.20,199.96 321.70,200.06 322.20,200.16 322.70,200.26 323.20,200.34 323.70,200.42 324.20,200.50 324.70,200.47 325.20,200.38 325.70,200.29 326.20,200.25 326.70,200.29 327.20,200.32 327.70,200.35 328.20,200.35 328.70,200.35 329.20,200.35 329.70,200.41 330.20,200.48 330.70,200.54 331.20,200.52 331.70,200.49 332.20,200.46 332.70,200.45 333.20,200.47 333.70,200.49 334.20,200.47 334.70,200.38 335.20,200.29 335.70,200.24 336.20,200.35 336.70,200.46 337.20,200.57 337.70,200.44 338.20,200.31 338.70,200.17 339.20,200.18 339.70,200.23 340.20,200.27 340.70,200.33 341.20,200.39 341.70,200.46 342.20,200.47 342.70,200.40 343.20,200.32 343.70,200.29 344.20,200.39 344.70,200.51 345.20,200.65 345.70,200.67 346.20,200.68 346.70,200.70 347.20,200.56 347.70,200.36 348.20,200.14 348.70,200.05 349.20,200.06 349.70,200.07 350.20,200.05 350.70,199.96 351.20,199.88 351.70,199.87 352.20,200.21 352.70,200.56 353.20,200.92 353.70,200.70 354.20,200.47 354.70,200.25 355.20,200.22 355.70,200.25 356.20,200.27 356.70,200.25 357.20,200.20 357.70,200.15 358.20,200.06 358.70,199.90 359.20,199.74 359.70,199.63 360.20,199.68 360.70,199.73 361.20,199.74 361.70,199.44 362.20,199.14 362.70,198.83 363.20,198.72 363.70,198.66 364.20,198.60 364.70,198.89 365.20,199.07 365.70,199.24 366.20,199.53 366.70,199.92 367.20,200.17 367.70,200.43 368.20,200.73 368.70,201.04 369.20,201.29 369.70,201.01 370.20,200.72 370.70,200.44 371.20,200.56 371.70,200.79 372.20,201.03 372.70,200.89 373.20,200.50 373.70,200.11 374.20,199.96 374.70,200.18 375.20,200.39 375.70,200.57 376.20,200.59 376.70,200.62 377.20,200.64 377.70,200.80 378.20,200.96 378.70,201.11 379.20,201.13 379.70,201.12 380.20,201.10 380.70,200.98 381.20,200.80 381.70,200.61 382.20,200.53 382.70,200.62 383.20,200.72 383.70,200.80 384.20,200.81 384.70,200.71 385.20,200.60 385.70,200.30 386.20,199.99 386.70,199.85 387.20,200.12 387.70,200.43 388.20,200.73 388.70,200.98 389.20,201.05 389.70,200.94 390.20,200.75 390.70,200.45 391.20,200.14 391.70,199.89 392.20,199.88 392.70,199.91 393.20,199.94 393.70,199.69 394.20,199.43 394.70,199.20 395.20,199.21 395.70,199.28 396.20,199.33 396.70,199.41 397.20,199.49 397.70,199.56 398.20,199.53 398.70,199.39 399.20,199.27 399.70,199.16 400.20,199.06 400.70,198.96 401.20,198.86 401.70,198.79 402.20,198.73 402.70,198.66 403.20,198.64 403.70,198.63 404.20,198.62 404.70,198.58 405.20,198.54 405.70,198.49 406.20,198.47 406.70,198.47 407.20,198.47 407.70,198.48 408.20,198.49 408.70,198.51 409.20,198.53 409.70,198.47 410.20,198.40 410.70,198.34 411.20,198.45 411.70,198.60 412.20,198.75 412.70,198.77 413.20,198.69 413.70,198.62 414.20,198.59 414.70,198.63 415.20,198.67 415.70,198.71 416.20,198.73 416.70,198.76 417.20,198.79 417.70,198.71 418.20,198.63 418.70,198.55 419.20,198.55 419.70,198.56 420.20,198.57 420.70,198.59 421.20,198.63 421.70,198.67 422.20,198.76 422.70,198.94 423.20,199.13 423.70,199.24 424.20,199.11 424.70,198.98 425.20,198.88 425.70,198.97 426.20,199.06 426.70,199.14 427.20,199.22 427.70,199.30 428.20,199.36 428.70,199.38 429.20,199.40 429.70,199.42 430.20,199.44 430.70,199.48 431.20,199.53 431.70,199.57 432.00,200.30 432.25,200.47 432.50,200.66 432.75,200.87 433.00,201.13 433.25,201.59 433.50,202.26 433.75,203.13 434.00,204.18 434.25,205.42 434.50,207.46 434.75,210.31 435.00,213.57 435.25,216.87 435.50,220.42 435.75,224.32 436.00,228.43 436.25,232.65 436.50,236.84 436.75,241.01 437.00,245.25 437.25,249.57 437.50,253.97 437.75,258.49 438.00,263.40 438.25,268.58 438.50,273.70 438.75,278.42 439.00,282.42 439.25,286.10 439.50,289.86 439.75,293.37 440.00,296.29 440.25,298.29 440.50,299.03 440.75,298.59 441.00,297.40 441.25,295.64 441.50,293.49 441.75,291.09 442.00,287.87 442.25,282.96 442.50,277.35 442.75,272.11 443.00,267.69 443.25,263.38 443.50,259.23 443.75,255.33 444.00,251.76 444.25,248.56 444.50,245.56 444.75,242.76 445.00,240.18 445.25,237.84 445.50,235.76 445.75,233.83 446.00,232.02 446.25,230.33 446.50,228.74 446.75,227.24 447.00,225.83 447.25,224.49 447.50,223.21 447.75,221.99 448.00,220.83 448.25,219.72 448.50,218.67 448.75,217.68 449.00,216.74 449.25,215.86 449.50,215.01 449.75,214.18 450.00,213.38 450.25,212.63 450.50,211.93 450.75,211.31 451.00,210.76 451.25,210.28 451.50,209.83 451.75,209.41 452.00,209.01 452.25,208.64 452.50,208.29 452.75,207.98 453.00,207.69 453.25,207.43 453.50,207.21 453.75,207.02 454.00,206.83 454.25,206.66 454.50,206.50 454.75,206.35 455.00,206.22 455.25,206.09 455.50,205.98 455.75,205.88 456.00,205.80 456.25,205.73 456.50,205.67 456.75,205.63 457.00,205.59 457.25,205.56 457.50,205.53 457.75,205.49 458.00,205.46 458.25,205.41 458.50,205.36 458.75,205.29 459.00,205.17 459.25,205.00 459.50,204.79 459.75,204.55 460.00,204.30 460.25,204.05 460.50,203.81 460.75,203.59 461.00,203.32 461.25,203.04 461.50,202.77 461.75,202.55 462.00,202.41 462.25,202.37 462.50,202.50 462.75,202.77 463.00,203.13 463.25,203.52 463.50,203.90 463.75,204.25 464.00,204.69 464.25,205.14 464.50,205.50 464.75,205.68 465.00,205.60 465.25,205.29 465.50,204.84 465.75,204.30 466.00,203.76 466.25,203.30 466.50,202.97 466.75,202.68 467.00,202.40 467.25,202.13 467.50,201.88 467.75,201.64 468.00,201.42 468.25,201.22 468.50,201.05 468.75,200.90 469.00,200.78 469.25,200.66 469.50,200.55 469.75,200.44 470.00,200.34 470.25,200.25 470.50,200.16 470.75,200.10 471.00,200.05 471.25,200.01 471.50,200.00 471.75,200.01 472.00,200.02 472.25,200.04 472.50,200.08 472.75,200.12 473.00,200.16 473.25,200.22 473.50,200.27 473.75,200.34 474.00,200.40 474.25,200.48 474.50,200.57 474.75,200.69 475.00,200.83 475.25,201.00 475.50,201.21 475.75,201.45 476.00,201.73 476.25,202.05 476.50,202.78 476.75,204.30 477.00,206.00 477.25,207.24 477.50,207.37 477.75,206.35 478.00,204.75 478.25,203.20 478.50,202.30 478.75,201.96 479.00,201.68 479.25,201.46 479.50,201.32 479.75,201.29 480.00,201.42 480.25,201.69 480.50,202.09 480.75,202.55 481.00,203.06 481.25,203.56 481.50,204.02 481.75,204.45 482.00,204.94 482.25,205.48 482.50,206.02 482.75,206.52 483.00,206.94 483.25,207.24 483.50,207.37 483.75,207.42 484.00,207.45 484.25,207.49 484.50,207.52 484.75,207.54 485.00,207.57 485.25,207.58 485.50,207.60 485.75,207.61 486.00,207.62 486.25,207.62 486.50,207.62 486.75,207.61 487.00,207.55 487.25,207.42 487.50,207.22 487.75,206.98 488.00,206.71 488.25,206.42 488.50,206.12 488.75,205.79 489.00,205.36 489.25,204.85 489.50,204.28 489.75,203.70 490.00,203.14 490.25,202.63 490.50,202.21 490.75,201.82 491.00,201.44 491.25,201.14 491.50,201.02 491.75,201.28 492.00,201.97 492.25,202.99 492.50,204.23 492.75,205.88 493.00,208.88 493.25,212.58 493.50,216.19 493.75,218.97 494.00,221.53 494.25,223.71 494.50,224.63 494.75,224.34 495.00,223.62 495.25,222.57 495.50,221.35 495.75,219.77 496.00,216.99 496.25,213.76 496.50,210.98 496.75,209.49 497.00,208.64 497.25,207.89 497.50,207.25 497.75,206.73 498.00,206.37 498.25,206.17 498.50,206.13 498.75,206.14 499.00,206.17 499.25,206.22 499.50,206.27 499.75,206.32 500.00,206.37 500.25,206.42 500.50,206.45 500.75,206.47 501.00,206.45 501.25,206.25 501.50,205.89 501.75,205.41 502.00,204.87 502.25,204.32 502.50,203.82 502.75,203.41 503.00,203.14 503.25,203.07 503.50,203.27 503.75,203.72 504.00,204.37 504.25,205.20 504.50,206.15 504.75,207.21 505.00,209.16 505.25,211.97 505.50,215.11 505.75,218.05 506.00,220.27 506.25,222.02 506.50,223.62 506.75,224.68 507.00,224.82 507.25,224.17 507.50,222.94 507.75,221.37 508.00,219.45 508.25,215.76 508.50,211.36 508.75,207.92 509.00,206.81 509.25,206.37 509.50,206.02 509.75,205.78 510.00,205.64 510.25,205.62 510.50,205.72 510.75,205.96 511.00,206.32 511.25,206.78 511.50,207.32 511.75,207.93 512.00,208.59 512.25,209.29 512.50,210.04 512.75,211.06 513.00,212.36 513.25,213.88 513.50,215.55 513.75,217.30 514.00,219.09 514.25,220.85 514.50,222.58 514.75,224.40 515.00,226.31 515.25,228.27 515.50,230.28 515.75,232.32 516.00,234.37 516.25,236.42 516.50,238.45 516.75,240.44 517.00,242.40 517.25,244.34 517.50,246.27 517.75,248.20 518.00,250.12 518.25,252.06 518.50,254.00 518.75,255.95 519.00,257.92 519.25,259.91 519.50,261.93 519.75,264.03 520.00,266.22 520.25,268.45 520.50,270.69 520.75,272.91 521.00,275.07 521.25,277.16 521.50,279.13 521.75,280.94 522.00,282.61 522.25,284.33 522.50,286.10 522.75,287.85 523.00,289.50 523.25,290.98 523.50,292.23 523.75,293.16 524.00,293.71 524.25,293.58 524.50,292.67 524.75,291.13 525.00,289.16 525.25,286.94 525.50,284.68 525.75,282.54 526.00,280.29 526.25,277.79 526.50,275.11 526.75,272.31 527.00,269.46 527.25,266.62 527.50,263.85 527.75,261.17 528.00,258.43 528.25,255.66 528.50,252.90 528.75,250.17 529.00,247.52 529.25,244.99 529.50,242.60 529.75,240.32 530.00,238.07 530.25,235.87 530.50,233.76 530.75,231.73 531.00,229.83 531.25,228.06 531.50,226.44 531.75,224.87 532.00,223.26 532.25,221.69 532.50,220.24 532.75,218.96 533.00,217.95 533.25,217.26 533.50,216.95 533.75,216.76 534.00,216.62 534.25,216.51 534.50,216.42 534.75,216.35 535.00,216.26 535.25,216.17 535.50,216.05 535.75,215.89 536.00,215.65 536.25,215.14 536.50,214.40 536.75,213.54 537.00,212.66 537.25,211.88 537.50,211.29 537.75,211.02 538.00,211.03 538.25,211.10 538.50,211.22 538.75,211.39 539.00,211.61 539.25,211.85 539.50,212.13 539.75,212.44 540.00,212.98 540.25,213.80 540.50,214.84 540.75,216.07 541.00,217.43 541.25,218.87 541.50,220.38 541.75,222.21 542.00,224.39 542.25,226.81 542.50,229.41 542.75,232.09 543.00,234.79 543.25,237.41 543.50,239.88 543.75,242.26 544.00,244.65 544.25,247.04 544.50,249.42 544.75,251.78 545.00,254.11 545.25,256.40 545.50,258.64 545.75,260.94 546.00,263.31 546.25,265.56 546.50,267.52 546.75,269.01 547.00,270.07 547.25,270.90 547.50,271.67 547.75,272.55 548.00,273.70 548.25,275.47 548.50,277.87 548.75,280.53 549.00,283.11 549.25,285.25 549.50,286.98 549.75,288.69 550.00,290.01 550.25,290.53 550.50,290.24 550.75,289.59 551.00,288.63 551.25,287.44 551.50,286.07 551.75,284.60 552.00,282.99 552.25,280.63 552.50,277.60 552.75,274.15 553.00,270.54 553.25,267.04 553.50,263.91 553.75,261.01 554.00,258.06 554.25,255.17 554.50,252.41 554.75,249.88 555.00,247.65 555.25,245.73 555.50,243.86 555.75,242.06 556.00,240.39 556.25,238.93 556.50,237.72 556.75,236.82 557.00,236.28 557.25,235.89 557.50,235.58 557.75,235.32 558.00,235.09 558.25,234.87 558.50,234.63 558.75,234.36 559.00,234.02 559.25,233.55 559.50,232.93 559.75,232.24 560.00,231.55 560.25,230.94 560.50,230.48 560.75,230.25 561.00,230.37 561.25,230.95 561.50,231.87 561.75,233.03 562.00,234.32 562.25,236.35 562.50,239.38 562.75,242.83 563.00,246.11 563.25,248.65 563.50,251.06 563.75,253.11 564.00,253.95 564.25,253.42 564.50,252.05 564.75,250.16 565.00,248.10 565.25,245.27 565.50,241.37 565.75,237.17 566.00,233.45 566.25,230.93 566.50,229.01 566.75,227.25 567.00,225.75 567.25,224.58 567.50,223.81 567.75,223.44 568.00,223.15 568.25,222.89 568.50,222.67 568.75,222.50 569.00,222.38 569.25,222.30 569.50,222.28 569.75,222.40 570.00,222.71 570.25,223.14 570.50,223.65 570.75,224.15 571.00,224.62 571.25,225.22 571.50,225.90 571.75,226.54 572.00,227.04 572.25,227.28 572.50,227.17 572.75,226.68 573.00,225.93 573.25,224.99 573.50,223.96 573.75,222.93 574.00,222.00 574.25,221.21 574.50,220.40 574.75,219.57 575.00,218.73 575.25,217.91 575.50,217.11 575.75,216.36 576.00,215.67 576.25,215.06 576.50,214.53 576.75,214.03 577.00,213.54 577.25,213.07 577.50,212.63 577.75,212.21 578.00,211.82 578.25,211.46 578.50,211.15 578.75,210.87 579.00,210.64 579.25,210.47 579.50,210.31 579.75,210.15 580.00,210.01 580.25,209.88 580.50,209.76 580.75,209.66 581.00,209.58 581.25,209.52 581.50,209.48 581.75,209.49 582.00,209.58 582.25,209.75 582.50,209.97 582.75,210.24 583.00,210.54 583.25,210.85 583.50,211.17 583.75,211.48 584.00,211.76 584.25,212.00 584.50,212.21 584.75,212.39 585.00,212.58 585.25,212.78 585.50,213.01 585.75,213.29 586.00,213.63 586.25,214.06 586.50,214.81 586.75,215.94 587.00,217.38 587.25,219.07 587.50,220.95 587.75,223.25 588.00,226.76 588.25,230.62 588.50,233.82 588.75,235.76 589.00,237.41 589.25,238.50 589.50,238.61 589.75,237.70 590.00,236.13 590.25,234.30 590.50,232.46 590.75,229.87 591.00,227.10 591.25,225.06 591.50,224.49 591.75,224.34 592.00,224.24 592.25,224.17 592.50,224.11 592.75,224.04 593.00,223.94 593.25,223.78 593.50,223.46 593.75,222.98 594.00,222.36 594.25,221.66 594.50,220.92 594.75,220.16 595.00,219.44 595.25,218.68 595.50,217.81 595.75,216.89 596.00,215.95 596.25,215.04 596.50,214.21 596.75,213.50 597.00,212.96 597.25,212.52 597.50,212.09 597.75,211.67 598.00,211.28 598.25,210.93 598.50,210.62 598.75,210.36 599.00,210.16 599.25,210.03 599.50,209.98 599.75,209.97 600.00,209.97 600.25,209.96 600.50,209.95 600.75,209.94 601.00,209.94 601.25,209.93 601.50,209.92 601.75,209.96 602.00,210.18 602.25,210.55 602.50,210.99 602.75,211.43 603.00,211.80 603.25,212.02 603.50,212.03 603.75,211.71 604.00,211.13 604.25,210.38 604.50,209.52 604.75,208.66 605.00,207.89 605.25,207.23 605.50,206.58 605.75,205.93 606.00,205.27 606.25,204.63 606.50,204.01 606.75,203.40 607.00,202.83 607.25,202.30 607.50,201.76 607.75,201.19 608.00,200.63 608.25,200.10 608.50,199.62 608.75,199.20 609.00,198.88 609.25,198.67 609.50,198.55 609.75,198.45 610.00,198.36 610.25,198.31 610.50,198.28 610.75,198.27 611.00,198.28 611.25,198.38 611.50,198.63 611.75,199.03 612.00,199.57 612.25,200.25 612.50,201.05 612.75,203.09 613.00,206.98 613.25,211.97 613.50,217.31 613.75,223.35 614.00,230.65 614.25,238.71 614.50,247.03 614.75,256.38 615.00,266.48 615.25,275.34 615.50,282.56 615.75,289.70 616.00,295.42 616.25,298.27 616.50,297.57 616.75,294.89 617.00,291.00 617.25,286.57 617.50,282.08 617.75,276.26 618.00,269.48 618.25,262.58 618.50,256.39 618.75,251.44 619.00,246.83 619.25,242.52 619.50,238.59 619.75,235.12 620.00,232.19 620.25,229.66 620.50,227.35 620.75,225.22 621.00,223.29 621.25,221.51 621.50,219.90 621.75,218.42 622.00,217.08 622.25,215.84 622.50,214.70 622.75,213.65 623.00,212.67 623.25,211.74 623.50,210.84 623.75,209.97 624.00,209.11 624.25,208.26 624.50,207.42 624.75,206.61 625.00,205.82 625.25,205.07 625.50,204.35 625.75,203.68 626.00,203.05 626.25,202.47 626.50,201.92 626.75,201.39 627.00,200.91 627.25,200.48 627.50,200.10 627.75,199.75 628.00,199.44 628.25,199.15 628.50,198.91 628.75,198.70" fill="none" stroke="#FFC000" stroke-width="3.3" stroke-linejoin="round" stroke-linecap="round"/>
</g>
<g id="curves-b">
<polyline points="36.20,534.62 36.70,534.61 37.20,534.63 37.70,534.66 38.20,534.68 38.70,534.71 39.20,534.74 39.70,534.75 40.20,534.73 40.70,534.70 41.20,534.67 41.70,534.65 42.20,534.62 42.70,534.59 43.20,534.57 43.70,534.55 44.20,534.54 44.70,534.52 45.20,534.51 45.70,534.49 46.20,534.53 46.70,534.66 47.20,534.80 47.70,534.91 48.20,534.86 48.70,534.80 49.20,534.75 49.70,534.69 50.20,534.63 50.70,534.57 51.20,534.70 51.70,534.88 52.20,535.08 52.70,535.07 53.20,534.93 53.70,534.78 54.20,534.70 54.70,534.75 55.20,534.79 55.70,534.83 56.20,534.80 56.70,534.77 57.20,534.75 57.70,534.85 58.20,534.97 58.70,535.08 59.20,535.10 59.70,535.10 60.20,535.09 60.70,535.10 61.20,535.12 61.70,535.14 62.20,535.11 62.70,535.02 63.20,534.92 63.70,534.85 64.20,534.87 64.70,534.89 65.20,534.91 65.70,534.92 66.20,534.93 66.70,534.93 67.20,534.97 67.70,535.01 68.20,535.05 68.70,535.04 69.20,535.00 69.70,534.96 70.20,534.95 70.70,534.97 71.20,535.00 71.70,535.08 72.20,535.36 72.70,535.64 73.20,535.92 73.70,535.94 74.20,535.96 74.70,535.98 75.20,535.80 75.70,535.57 76.20,535.34 76.70,535.23 77.20,535.20 77.70,535.17 78.20,535.20 78.70,535.33 79.20,535.46 79.70,535.62 80.20,535.85 80.70,536.08 81.20,536.25 81.70,536.17 82.20,536.10 82.70,536.02 83.20,535.72 83.70,535.37 84.20,535.01 84.70,535.17 85.20,535.87 85.70,536.57 86.20,536.65 86.70,535.78 87.20,534.90 87.70,535.31 88.20,536.00 88.70,536.37 89.20,536.26 89.70,536.03 90.20,535.99 90.70,536.25 91.20,536.57 91.70,536.91 92.20,537.10 92.70,536.88 93.20,536.51 93.70,536.15 94.20,536.04 94.70,536.33 95.20,536.61 95.70,536.86 96.20,536.98 96.70,537.11 97.20,537.17 97.70,537.15 98.20,537.12 98.70,537.09 99.20,536.80 99.70,536.45 100.20,536.15 100.70,536.18 101.20,536.38 101.70,536.59 102.20,536.80 102.70,537.02 103.20,537.24 103.70,537.39 104.20,537.23 104.70,537.03 105.20,536.83 105.70,536.96 106.20,537.08 106.70,537.20 107.20,537.15 107.70,537.05 108.20,536.96 108.70,536.98 109.20,537.07 109.70,537.15 110.20,537.16 110.70,537.08 111.20,537.00 111.70,536.91 112.20,536.78 112.70,536.66 113.20,536.54 113.70,536.57 114.20,536.60 114.70,536.63 115.20,536.65 115.70,536.67 116.20,536.69 116.70,536.72 117.20,536.76 117.70,536.80 118.20,536.89 118.70,537.04 119.20,537.19 119.70,537.29 120.20,537.21 120.70,537.14 121.20,537.08 121.70,537.11 122.20,537.14 122.70,537.16 123.20,537.13 123.70,537.09 124.20,537.05 124.70,537.04 125.20,537.04 125.70,537.05 126.20,537.07 126.70,537.09 127.20,537.12 127.70,537.14 128.20,537.16 128.70,537.17 129.20,537.19 129.70,537.19 130.20,537.18 130.70,537.18 131.20,537.17 131.70,537.16 132.20,537.15 132.70,537.08 133.20,536.98 133.70,536.88 134.20,536.84 134.70,536.87 135.20,536.91 135.70,536.93 136.20,536.89 136.70,536.84 137.20,536.80 137.70,536.87 138.20,536.94 138.70,537.01 139.20,537.05 139.70,537.08 140.20,537.12 140.70,537.07 141.20,536.97 141.70,536.86 142.20,536.81 142.70,536.83 143.20,536.85 143.70,536.87 144.20,536.89 144.70,536.92 145.20,536.94 145.70,536.92 146.20,536.91 146.70,536.89 147.20,536.95 147.70,537.02 148.20,537.10 148.70,537.09 149.20,537.03 149.70,536.97 150.20,536.95 150.70,536.99 151.20,537.03 151.70,537.06 152.20,537.04 152.70,537.02 153.20,537.00 153.70,537.01 154.20,537.02 154.70,537.04 155.20,537.08 155.70,537.13 156.20,537.18 156.70,537.20 157.20,537.20 157.70,537.20 158.20,537.16 158.70,537.04 159.20,536.93 159.70,536.86 160.20,536.96 160.70,537.06 161.20,537.16 161.70,537.10 162.20,537.03 162.70,536.96 163.20,536.92 163.70,536.89 164.20,536.86 164.70,536.87 165.20,536.91 165.70,536.95 166.20,536.98 166.70,537.00 167.20,537.02 167.70,537.05 168.20,537.11 168.70,537.17 169.20,537.24 169.70,537.16 170.20,537.08 170.70,537.00 171.20,536.95 171.70,536.90 172.20,536.85 172.70,536.90 173.20,537.02 173.70,537.14 174.20,537.17 174.70,537.07 175.20,536.97 175.70,536.90 176.20,536.95 176.70,537.00 177.20,537.06 177.70,537.11 178.20,537.16 178.70,537.22 179.20,537.19 179.70,537.15 180.20,537.11 180.70,537.08 181.20,537.08 181.70,537.07 182.20,537.09 182.70,537.14 183.20,537.19 183.70,537.21 184.20,537.10 184.70,537.00 185.20,536.89 185.70,536.97 186.20,537.05 186.70,537.13 187.20,537.13 187.70,537.11 188.20,537.09 188.70,537.13 189.20,537.21 189.70,537.29 190.20,537.33 190.70,537.31 191.20,537.29 191.70,537.25 192.20,537.15 192.70,537.05 193.20,536.95 193.70,536.97 194.20,536.99 194.70,537.01 195.20,537.05 195.70,537.09 196.20,537.13 196.70,537.17 197.20,537.20 197.70,537.24 198.20,537.24 198.70,537.19 199.20,537.15 199.70,537.11 200.20,537.12 200.70,537.12 201.20,537.13 201.70,537.21 202.20,537.29 202.70,537.37 203.20,537.42 203.70,537.49 204.20,537.56 204.70,537.58 205.20,537.57 205.70,537.56 206.20,537.61 206.70,537.75 207.20,537.88 207.70,537.99 208.20,537.99 208.70,538.00 209.20,538.02 209.70,538.08 210.20,538.13 210.70,538.19 211.20,538.33 211.70,538.48 212.20,538.64 212.70,538.77 213.20,538.88 213.70,539.01 214.20,539.23 214.70,539.45 215.20,539.68 215.70,539.90 216.20,540.10 216.70,540.37 217.20,540.75 217.70,541.09 218.20,541.43 218.70,541.77 219.20,541.86 219.70,541.57 220.20,541.27 220.70,540.96 221.20,540.61 221.70,540.26 222.20,540.14 222.70,540.08 223.20,540.01 223.70,539.95 224.20,539.89 224.70,539.84 225.20,539.88 225.70,540.09 226.20,540.30 226.70,540.50 227.20,540.62 227.70,540.64 228.20,540.34 228.70,540.06 229.20,539.80 229.70,539.54 230.20,539.31 230.70,539.11 231.20,538.97 231.70,538.93 232.20,538.86 232.70,538.79 233.20,538.72 233.70,538.67 234.20,538.62 234.70,538.57 235.20,538.56 235.70,538.55 236.20,538.56 236.70,538.49 237.20,538.36 237.70,538.22 238.20,538.15 238.70,538.17 239.20,538.19 239.70,538.21 240.20,538.23 240.70,538.25 241.20,538.27 241.70,538.16 242.20,538.05 242.70,537.94 243.20,537.87 243.70,537.81 244.20,537.74 244.70,537.71 245.20,537.71 245.70,537.72 246.20,537.70 246.70,537.65 247.20,537.60 247.70,537.57 248.20,537.63 248.70,537.69 249.20,537.75 249.70,537.61 250.20,537.48 250.70,537.34 251.20,537.27 251.70,537.22 252.20,537.17 252.70,537.17 253.20,537.20 253.70,537.23 254.20,537.22 254.70,537.17 255.20,537.12 255.70,537.07 256.20,537.00 256.70,536.93 257.20,536.86 257.70,536.87 258.20,536.88 258.70,536.90 259.20,536.78 259.70,536.64 260.20,536.50 260.70,536.51 261.20,536.62 261.70,536.73 262.20,536.78 262.70,536.72 263.20,536.66 263.70,536.61 264.20,536.56 264.70,536.52 265.20,536.48 265.70,536.55 266.20,536.61 266.70,536.68 267.20,536.67 267.70,536.65 268.20,536.62 268.70,536.63 269.20,536.67 269.70,536.71 270.20,536.69 270.70,536.56 271.20,536.44 271.70,536.35 272.20,536.41 272.70,536.47 273.20,536.53 273.70,536.51 274.20,536.50 274.70,536.48 275.20,536.49 275.70,536.51 276.20,536.53 276.70,536.51 277.20,536.45 277.70,536.39 278.20,536.34 278.70,536.31 279.20,536.28 279.70,536.26 280.20,536.33 280.70,536.40 281.20,536.47 281.70,536.44 282.20,536.41 282.70,536.39 283.20,536.44 283.70,536.51 284.20,536.58 284.70,536.57 285.20,536.51 285.70,536.45 286.20,536.41 286.70,536.40 287.20,536.39 287.70,536.39 288.20,536.42 288.70,536.45 289.20,536.47 289.70,536.46 290.20,536.44 290.70,536.43 291.20,536.47 291.70,536.53 292.20,536.59 292.70,536.60 293.20,536.57 293.70,536.55 294.20,536.52 294.70,536.47 295.20,536.43 295.70,536.39 296.20,536.35 296.70,536.31 297.20,536.27 297.70,536.33 298.20,536.38 298.70,536.44 299.20,536.46 299.70,536.48 300.20,536.50 300.70,536.51 301.20,536.51 301.70,536.51 302.20,536.53 302.70,536.56 303.20,536.59 303.70,536.60 304.20,536.49 304.70,536.38 305.20,536.28 305.70,536.30 306.20,536.33 306.70,536.36 307.20,536.37 307.70,536.37 308.20,536.37 308.70,536.36 309.20,536.34 309.70,536.33 310.20,536.32 310.70,536.33 311.20,536.34 311.70,536.34 312.20,536.36 312.70,536.37 313.20,536.39 313.70,536.40 314.20,536.41 314.70,536.42 315.20,536.39 315.70,536.35 316.20,536.31 316.70,536.29 317.20,536.27 317.70,536.25 318.20,536.25 318.70,536.27 319.20,536.29 319.70,536.31 320.20,536.29 320.70,536.26 321.20,536.24 321.70,536.26 322.20,536.29 322.70,536.31 323.20,536.36 323.70,536.41 324.20,536.46 324.70,536.47 325.20,536.46 325.70,536.45 326.20,536.47 326.70,536.52 327.20,536.58 327.70,536.61 328.20,536.55 328.70,536.49 329.20,536.43 329.70,536.43 330.20,536.42 330.70,536.42 331.20,536.43 331.70,536.44 332.20,536.46 332.70,536.47 333.20,536.48 333.70,536.49 334.20,536.49 334.70,536.48 335.20,536.46 335.70,536.45 336.20,536.45 336.70,536.44 337.20,536.44 337.70,536.44 338.20,536.44 338.70,536.45 339.20,536.42 339.70,536.38 340.20,536.35 340.70,536.37 341.20,536.43 341.70,536.49 342.20,536.51 342.70,536.49 343.20,536.47 343.70,536.44 344.20,536.40 344.70,536.35 345.20,536.29 345.70,536.27 346.20,536.25 346.70,536.22 347.20,536.17 347.70,536.11 348.20,536.05 348.70,536.06 349.20,536.12 349.70,536.19 350.20,536.19 350.70,536.07 351.20,535.93 351.70,535.82 352.20,535.87 352.70,535.93 353.20,535.99 353.70,535.94 354.20,535.90 354.70,535.86 355.20,535.92 355.70,536.01 356.20,536.09 356.70,536.14 357.20,536.17 357.70,536.20 358.20,536.22 358.70,536.25 359.20,536.27 359.70,536.29 360.20,536.29 360.70,536.29 361.20,536.26 361.70,536.05 362.20,535.84 362.70,535.63 363.20,535.32 363.70,534.98 364.20,534.65 364.70,534.99 365.20,535.52 365.70,536.05 366.20,536.44 366.70,536.55 367.20,536.57 367.70,536.59 368.20,536.58 368.70,536.58 369.20,536.53 369.70,536.56 370.20,536.59 370.70,536.63 371.20,536.57 371.70,536.50 372.20,536.43 372.70,536.33 373.20,536.20 373.70,536.07 374.20,536.06 374.70,536.25 375.20,536.43 375.70,536.60 376.20,536.74 376.70,536.87 377.20,537.01 377.70,536.92 378.20,536.84 378.70,536.75 379.20,536.55 379.70,536.32 380.20,536.10 380.70,535.99 381.20,535.96 381.70,535.93 382.20,536.04 382.70,536.34 383.20,536.64 383.70,536.88 384.20,536.81 384.70,536.66 385.20,536.51 385.70,536.30 386.20,536.10 386.70,536.01 387.20,536.16 387.70,536.33 388.20,536.49 388.70,536.51 389.20,536.33 389.70,536.02 390.20,535.91 390.70,536.09 391.20,536.28 391.70,536.36 392.20,536.06 392.70,535.80 393.20,535.53 393.70,535.48 394.20,535.45 394.70,535.42 395.20,535.48 395.70,535.55 396.20,535.61 396.70,535.55 397.20,535.43 397.70,535.32 398.20,535.34 398.70,535.50 399.20,535.63 399.70,535.67 400.20,535.54 400.70,535.42 401.20,535.30 401.70,535.36 402.20,535.41 402.70,535.47 403.20,535.45 403.70,535.40 404.20,535.36 404.70,535.35 405.20,535.36 405.70,535.37 406.20,535.36 406.70,535.33 407.20,535.29 407.70,535.27 408.20,535.32 408.70,535.36 409.20,535.41 409.70,535.32 410.20,535.24 410.70,535.16 411.20,535.16 411.70,535.18 412.20,535.19 412.70,535.19 413.20,535.17 413.70,535.15 414.20,535.16 414.70,535.21 415.20,535.27 415.70,535.30 416.20,535.25 416.70,535.19 417.20,535.13 417.70,535.20 418.20,535.27 418.70,535.35 419.20,535.29 419.70,535.19 420.20,535.10 420.70,535.08 421.20,535.10 421.70,535.13 422.20,535.16 422.70,535.19 423.20,535.23 423.70,535.25 424.20,535.22 424.70,535.19 425.20,535.18 425.70,535.21 426.20,535.24 426.70,535.26 427.20,535.32 427.70,535.38 428.20,535.43 428.70,535.43 429.20,535.42 429.70,535.42 430.20,535.43 430.70,535.45 431.20,535.47 431.70,535.49 432.00,536.15 432.25,536.30 432.50,536.47 432.75,536.66 433.00,536.90 433.25,537.32 433.50,537.93 433.75,538.73 434.00,539.70 434.25,540.84 434.50,542.72 434.75,545.34 435.00,548.34 435.25,551.38 435.50,554.65 435.75,558.23 436.00,562.02 436.25,565.91 436.50,569.76 436.75,573.60 437.00,577.51 437.25,581.49 437.50,585.54 437.75,589.70 438.00,594.22 438.25,598.99 438.50,603.71 438.75,608.06 439.00,611.74 439.25,615.13 439.50,618.60 439.75,621.83 440.00,624.51 440.25,626.35 440.50,627.03 440.75,626.65 441.00,625.59 441.25,624.00 441.50,622.05 441.75,619.87 442.00,616.94 442.25,612.42 442.50,607.27 442.75,602.45 443.00,598.39 443.25,594.42 443.50,590.60 443.75,587.01 444.00,583.72 444.25,580.76 444.50,578.00 444.75,575.41 445.00,573.03 445.25,570.88 445.50,568.95 445.75,567.16 446.00,565.49 446.25,563.93 446.50,562.46 446.75,561.07 447.00,559.76 447.25,558.52 447.50,557.33 447.75,556.20 448.00,555.12 448.25,554.09 448.50,553.12 448.75,552.20 449.00,551.32 449.25,550.50 449.50,549.71 449.75,548.93 450.00,548.19 450.25,547.49 450.50,546.84 450.75,546.25 451.00,545.73 451.25,545.29 451.50,544.87 451.75,544.47 452.00,544.10 452.25,543.75 452.50,543.42 452.75,543.13 453.00,542.86 453.25,542.62 453.50,542.40 453.75,542.22 454.00,542.05 454.25,541.89 454.50,541.73 454.75,541.59 455.00,541.46 455.25,541.34 455.50,541.24 455.75,541.14 456.00,541.06 456.25,541.00 456.50,540.94 456.75,540.90 457.00,540.86 457.25,540.83 457.50,540.80 457.75,540.77 458.00,540.74 458.25,540.69 458.50,540.64 458.75,540.57 459.00,540.46 459.25,540.30 459.50,540.09 459.75,539.86 460.00,539.62 460.25,539.38 460.50,539.16 460.75,538.94 461.00,538.69 461.25,538.42 461.50,538.16 461.75,537.94 462.00,537.80 462.25,537.77 462.50,537.89 462.75,538.14 463.00,538.48 463.25,538.86 463.50,539.22 463.75,539.56 464.00,539.98 464.25,540.41 464.50,540.76 464.75,540.94 465.00,540.86 465.25,540.56 465.50,540.12 465.75,539.60 466.00,539.08 466.25,538.63 466.50,538.31 466.75,538.03 467.00,537.76 467.25,537.49 467.50,537.24 467.75,537.01 468.00,536.80 468.25,536.60 468.50,536.43 468.75,536.28 469.00,536.16 469.25,536.05 469.50,535.93 469.75,535.83 470.00,535.72 470.25,535.63 470.50,535.56 470.75,535.49 471.00,535.44 471.25,535.41 471.50,535.40 471.75,535.41 472.00,535.42 472.25,535.44 472.50,535.48 472.75,535.52 473.00,535.56 473.25,535.62 473.50,535.67 473.75,535.74 474.00,535.80 474.25,535.87 474.50,535.97 474.75,536.08 475.00,536.22 475.25,536.39 475.50,536.60 475.75,536.83 476.00,537.11 476.25,537.43 476.50,538.15 476.75,539.66 477.00,541.34 477.25,542.56 477.50,542.69 477.75,541.69 478.00,540.12 478.25,538.58 478.50,537.70 478.75,537.36 479.00,537.08 479.25,536.87 479.50,536.73 479.75,536.70 480.00,536.83 480.25,537.11 480.50,537.50 480.75,537.96 481.00,538.47 481.25,538.97 481.50,539.43 481.75,539.86 482.00,540.35 482.25,540.89 482.50,541.43 482.75,541.93 483.00,542.35 483.25,542.66 483.50,542.80 483.75,542.85 484.00,542.89 484.25,542.93 484.50,542.96 484.75,542.99 485.00,543.02 485.25,543.04 485.50,543.06 485.75,543.07 486.00,543.09 486.25,543.09 486.50,543.10 486.75,543.10 487.00,543.04 487.25,542.91 487.50,542.72 487.75,542.48 488.00,542.21 488.25,541.92 488.50,541.62 488.75,541.30 489.00,540.87 489.25,540.35 489.50,539.78 489.75,539.20 490.00,538.63 490.25,538.12 490.50,537.70 490.75,537.31 491.00,536.92 491.25,536.62 491.50,536.50 491.75,536.76 492.00,537.47 492.25,538.51 492.50,539.76 492.75,541.45 493.00,544.50 493.25,548.27 493.50,551.95 493.75,554.79 494.00,557.42 494.25,559.66 494.50,560.60 494.75,560.33 495.00,559.60 495.25,558.55 495.50,557.32 495.75,555.71 496.00,552.88 496.25,549.58 496.50,546.73 496.75,545.22 497.00,544.35 497.25,543.58 497.50,542.93 497.75,542.41 498.00,542.04 498.25,541.83 498.50,541.80 498.75,541.82 499.00,541.86 499.25,541.91 499.50,541.96 499.75,542.02 500.00,542.08 500.25,542.13 500.50,542.17 500.75,542.20 501.00,542.18 501.25,541.98 501.50,541.61 501.75,541.12 502.00,540.56 502.25,540.00 502.50,539.48 502.75,539.05 503.00,538.77 503.25,538.71 503.50,538.91 503.75,539.38 504.00,540.07 504.25,540.94 504.50,541.94 504.75,543.05 505.00,545.10 505.25,548.06 505.50,551.36 505.75,554.46 506.00,556.80 506.25,558.65 506.50,560.36 506.75,561.48 507.00,561.63 507.25,560.90 507.50,559.57 507.75,557.88 508.00,555.84 508.25,551.96 508.50,547.35 508.75,543.75 509.00,542.59 509.25,542.12 509.50,541.75 509.75,541.49 510.00,541.34 510.25,541.30 510.50,541.41 510.75,541.64 511.00,542.00 511.25,542.46 511.50,543.00 511.75,543.61 512.00,544.27 512.25,544.97 512.50,545.72 512.75,546.74 513.00,548.04 513.25,549.55 513.50,551.21 513.75,552.96 514.00,554.73 514.25,556.46 514.50,558.17 514.75,559.96 515.00,561.82 515.25,563.74 515.50,565.70 515.75,567.69 516.00,569.68 516.25,571.66 516.50,573.61 516.75,575.52 517.00,577.39 517.25,579.24 517.50,581.08 517.75,582.90 518.00,584.72 518.25,586.54 518.50,588.36 518.75,590.19 519.00,592.03 519.25,593.88 519.50,595.76 519.75,597.72 520.00,599.74 520.25,601.80 520.50,603.87 520.75,605.91 521.00,607.89 521.25,609.79 521.50,611.57 521.75,613.20 522.00,614.68 522.25,616.21 522.50,617.78 522.75,619.33 523.00,620.78 523.25,622.07 523.50,623.12 523.75,623.88 524.00,624.26 524.25,624.15 524.50,623.29 524.75,621.83 525.00,619.97 525.25,617.87 525.50,615.73 525.75,613.71 526.00,611.57 526.25,609.21 526.50,606.67 526.75,604.03 527.00,601.33 527.25,598.64 527.50,596.02 527.75,593.48 528.00,590.89 528.25,588.27 528.50,585.65 528.75,583.07 529.00,580.56 529.25,578.16 529.50,575.90 529.75,573.74 530.00,571.61 530.25,569.53 530.50,567.53 530.75,565.61 531.00,563.81 531.25,562.13 531.50,560.60 531.75,559.11 532.00,557.59 532.25,556.10 532.50,554.72 532.75,553.52 533.00,552.56 533.25,551.91 533.50,551.61 533.75,551.44 534.00,551.30 534.25,551.20 534.50,551.12 534.75,551.05 535.00,550.97 535.25,550.88 535.50,550.77 535.75,550.61 536.00,550.39 536.25,549.91 536.50,549.21 536.75,548.39 537.00,547.56 537.25,546.82 537.50,546.27 537.75,546.01 538.00,546.02 538.25,546.09 538.50,546.21 538.75,546.37 539.00,546.57 539.25,546.80 539.50,547.07 539.75,547.37 540.00,547.88 540.25,548.65 540.50,549.64 540.75,550.81 541.00,552.10 541.25,553.46 541.50,554.89 541.75,556.64 542.00,558.70 542.25,561.00 542.50,563.46 542.75,566.01 543.00,568.56 543.25,571.05 543.50,573.40 543.75,575.66 544.00,577.92 544.25,580.19 544.50,582.45 544.75,584.69 545.00,586.90 545.25,589.08 545.50,591.20 545.75,593.38 546.00,595.63 546.25,597.77 546.50,599.63 546.75,601.04 547.00,602.05 547.25,602.84 547.50,603.57 547.75,604.41 548.00,605.50 548.25,607.18 548.50,609.46 548.75,611.99 549.00,614.44 549.25,616.47 549.50,618.11 549.75,619.74 550.00,621.00 550.25,621.50 550.50,621.31 550.75,620.77 551.00,619.94 551.25,618.88 551.50,617.66 551.75,616.33 552.00,614.87 552.25,612.69 552.50,609.86 552.75,606.63 553.00,603.24 553.25,599.95 553.50,597.00 553.75,594.26 554.00,591.49 554.25,588.75 554.50,586.15 554.75,583.75 555.00,581.64 555.25,579.83 555.50,578.06 555.75,576.36 556.00,574.79 556.25,573.40 556.50,572.26 556.75,571.43 557.00,570.94 557.25,570.59 557.50,570.32 557.75,570.10 558.00,569.91 558.25,569.73 558.50,569.53 558.75,569.30 559.00,569.00 559.25,568.57 559.50,567.99 559.75,567.34 560.00,566.70 560.25,566.13 560.50,565.70 560.75,565.51 561.00,565.66 561.25,566.26 561.50,567.20 561.75,568.39 562.00,569.70 562.25,571.75 562.50,574.80 562.75,578.27 563.00,581.58 563.25,584.16 563.50,586.61 563.75,588.71 564.00,589.60 564.25,589.06 564.50,587.68 564.75,585.78 565.00,583.70 565.25,580.86 565.50,576.96 565.75,572.75 566.00,569.03 566.25,566.50 566.50,564.58 566.75,562.83 567.00,561.32 567.25,560.15 567.50,559.38 567.75,559.00 568.00,558.70 568.25,558.44 568.50,558.22 568.75,558.04 569.00,557.91 569.25,557.83 569.50,557.80 569.75,557.91 570.00,558.22 570.25,558.64 570.50,559.13 570.75,559.63 571.00,560.09 571.25,560.68 571.50,561.34 571.75,561.97 572.00,562.46 572.25,562.69 572.50,562.57 572.75,562.08 573.00,561.33 573.25,560.39 573.50,559.37 573.75,558.35 574.00,557.42 574.25,556.63 574.50,555.83 574.75,555.00 575.00,554.17 575.25,553.35 575.50,552.56 575.75,551.82 576.00,551.13 576.25,550.52 576.50,550.00 576.75,549.50 577.00,549.02 577.25,548.56 577.50,548.11 577.75,547.70 578.00,547.31 578.25,546.96 578.50,546.64 578.75,546.37 579.00,546.15 579.25,545.97 579.50,545.81 579.75,545.66 580.00,545.51 580.25,545.38 580.50,545.26 580.75,545.16 581.00,545.08 581.25,545.03 581.50,545.00 581.75,545.02 582.00,545.11 582.25,545.28 582.50,545.51 582.75,545.78 583.00,546.08 583.25,546.39 583.50,546.71 583.75,547.02 584.00,547.30 584.25,547.54 584.50,547.75 584.75,547.94 585.00,548.12 585.25,548.33 585.50,548.56 585.75,548.83 586.00,549.17 586.25,549.60 586.50,550.33 586.75,551.44 587.00,552.85 587.25,554.50 587.50,556.33 587.75,558.57 588.00,561.99 588.25,565.74 588.50,568.86 588.75,570.74 589.00,572.34 589.25,573.40 589.50,573.51 589.75,572.62 590.00,571.10 590.25,569.33 590.50,567.55 590.75,565.04 591.00,562.35 591.25,560.37 591.50,559.82 591.75,559.68 592.00,559.59 592.25,559.53 592.50,559.47 592.75,559.41 593.00,559.31 593.25,559.16 593.50,558.86 593.75,558.40 594.00,557.81 594.25,557.14 594.50,556.42 594.75,555.69 595.00,555.00 595.25,554.27 595.50,553.44 595.75,552.55 596.00,551.65 596.25,550.79 596.50,549.99 596.75,549.31 597.00,548.80 597.25,548.38 597.50,547.97 597.75,547.58 598.00,547.21 598.25,546.88 598.50,546.58 598.75,546.34 599.00,546.16 599.25,546.04 599.50,546.00 599.75,546.00 600.00,546.00 600.25,546.00 600.50,546.00 600.75,546.00 601.00,546.00 601.25,546.00 601.50,546.00 601.75,546.04 602.00,546.27 602.25,546.62 602.50,547.05 602.75,547.48 603.00,547.83 603.25,548.06 603.50,548.07 603.75,547.78 604.00,547.23 604.25,546.51 604.50,545.70 604.75,544.89 605.00,544.15 605.25,543.54 605.50,542.92 605.75,542.31 606.00,541.69 606.25,541.09 606.50,540.50 606.75,539.94 607.00,539.40 607.25,538.90 607.50,538.39 607.75,537.87 608.00,537.34 608.25,536.85 608.50,536.39 608.75,536.01 609.00,535.71 609.25,535.52 609.50,535.42 609.75,535.33 610.00,535.26 610.25,535.19 610.50,535.14 610.75,535.11 611.00,535.10 611.25,535.17 611.50,535.40 611.75,535.75 612.00,536.25 612.25,536.86 612.50,537.60 612.75,539.51 613.00,543.17 613.25,547.88 613.50,552.90 613.75,558.59 614.00,565.47 614.25,573.06 614.50,580.90 614.75,589.70 615.00,599.21 615.25,607.54 615.50,614.31 615.75,621.01 616.00,626.37 616.25,629.01 616.50,628.41 616.75,625.97 617.00,622.36 617.25,618.25 617.50,614.06 617.75,608.61 618.00,602.23 618.25,595.71 618.50,589.87 618.75,585.18 619.00,580.82 619.25,576.73 619.50,573.00 619.75,569.69 620.00,566.90 620.25,564.49 620.50,562.27 620.75,560.24 621.00,558.38 621.25,556.68 621.50,555.12 621.75,553.70 622.00,552.39 622.25,551.19 622.50,550.09 622.75,549.06 623.00,548.10 623.25,547.19 623.50,546.31 623.75,545.45 624.00,544.60 624.25,543.75 624.50,542.92 624.75,542.11 625.00,541.33 625.25,540.58 625.50,539.86 625.75,539.18 626.00,538.54 626.25,537.95 626.50,537.38 626.75,536.85 627.00,536.35 627.25,535.90 627.50,535.50 627.75,535.14 628.00,534.80 628.25,534.50 628.50,534.23 628.75,534.00" fill="none" stroke="#000000" stroke-width="2.1" stroke-linejoin="round" stroke-linecap="round"/>
<polyline points="36.20,591.36 36.70,591.42 37.20,591.51 37.70,591.60 38.20,591.65 38.70,591.64 39.20,591.63 39.70,591.62 40.20,591.60 40.70,591.58 41.20,591.56 41.70,591.54 42.20,591.53 42.70,591.51 43.20,591.56 43.70,591.62 44.20,591.69 44.70,591.70 45.20,591.66 45.70,591.62 46.20,591.62 46.70,591.70 47.20,591.79 47.70,591.85 48.20,591.80 48.70,591.74 49.20,591.69 49.70,591.71 50.20,591.73 50.70,591.76 51.20,591.79 51.70,591.81 52.20,591.84 52.70,591.93 53.20,592.05 53.70,592.18 54.20,592.24 54.70,592.20 55.20,592.15 55.70,592.09 56.20,591.95 56.70,591.81 57.20,591.67 57.70,591.85 58.20,592.04 58.70,592.23 59.20,592.26 59.70,592.26 60.20,592.25 60.70,592.06 61.20,591.75 61.70,591.45 62.20,591.38 62.70,591.66 63.20,591.94 63.70,592.17 64.20,592.21 64.70,592.25 65.20,592.30 65.70,592.28 66.20,592.26 66.70,592.24 67.20,592.24 67.70,592.24 68.20,592.24 68.70,592.20 69.20,592.14 69.70,592.08 70.20,591.98 70.70,591.82 71.20,591.67 71.70,591.61 72.20,591.96 72.70,592.30 73.20,592.65 73.70,592.44 74.20,592.22 74.70,592.01 75.20,591.91 75.70,591.85 76.20,591.78 76.70,591.88 77.20,592.10 77.70,592.31 78.20,592.49 78.70,592.61 79.20,592.74 79.70,592.78 80.20,592.49 80.70,592.20 81.20,591.91 81.70,592.09 82.20,592.28 82.70,592.46 83.20,592.49 83.70,592.48 84.20,592.47 84.70,592.50 85.20,592.57 85.70,592.64 86.20,592.73 86.70,592.84 87.20,592.95 87.70,593.00 88.20,592.78 88.70,592.57 89.20,592.36 89.70,592.34 90.20,592.33 90.70,592.32 91.20,592.39 91.70,592.47 92.20,592.56 92.70,592.70 93.20,592.87 93.70,593.04 94.20,593.15 94.70,593.17 95.20,593.19 95.70,593.18 96.20,593.08 96.70,592.98 97.20,592.89 97.70,593.15 98.20,593.42 98.70,593.69 99.20,593.59 99.70,593.40 100.20,593.21 100.70,593.13 101.20,593.13 101.70,593.13 102.20,593.20 102.70,593.36 103.20,593.52 103.70,593.61 104.20,593.38 104.70,593.16 105.20,592.93 105.70,593.08 106.20,593.24 106.70,593.39 107.20,593.56 107.70,593.74 108.20,593.91 108.70,593.99 109.20,594.01 109.70,594.03 110.20,593.97 110.70,593.79 111.20,593.62 111.70,593.49 112.20,593.48 112.70,593.46 113.20,593.45 113.70,593.57 114.20,593.69 114.70,593.80 115.20,593.79 115.70,593.76 116.20,593.73 116.70,593.80 117.20,593.93 117.70,594.05 118.20,594.05 118.70,593.90 119.20,593.76 119.70,593.66 120.20,593.70 120.70,593.75 121.20,593.79 121.70,593.92 122.20,594.04 122.70,594.15 123.20,594.13 123.70,594.08 124.20,594.03 124.70,594.05 125.20,594.10 125.70,594.15 126.20,594.19 126.70,594.21 127.20,594.23 127.70,594.24 128.20,594.22 128.70,594.19 129.20,594.17 129.70,594.05 130.20,593.93 130.70,593.81 131.20,593.85 131.70,593.93 132.20,594.02 132.70,594.04 133.20,594.01 133.70,593.99 134.20,593.97 134.70,593.96 135.20,593.95 135.70,593.95 136.20,594.01 136.70,594.08 137.20,594.14 137.70,594.16 138.20,594.18 138.70,594.20 139.20,594.18 139.70,594.15 140.20,594.13 140.70,594.06 141.20,593.96 141.70,593.86 142.20,593.84 142.70,593.95 143.20,594.05 143.70,594.12 144.20,594.00 144.70,593.88 145.20,593.76 145.70,593.78 146.20,593.81 146.70,593.84 147.20,593.95 147.70,594.09 148.20,594.23 148.70,594.23 149.20,594.13 149.70,594.03 150.20,593.96 150.70,593.91 151.20,593.86 151.70,593.85 152.20,593.95 152.70,594.05 153.20,594.15 153.70,594.05 154.20,593.96 154.70,593.86 155.20,593.91 155.70,594.00 156.20,594.10 156.70,594.09 157.20,594.02 157.70,593.94 158.20,593.88 158.70,593.84 159.20,593.81 159.70,593.81 160.20,593.98 160.70,594.15 161.20,594.33 161.70,594.16 162.20,593.99 162.70,593.83 163.20,593.86 163.70,593.95 164.20,594.03 164.70,594.05 165.20,594.02 165.70,593.98 166.20,593.99 166.70,594.05 167.20,594.11 167.70,594.17 168.20,594.20 168.70,594.24 169.20,594.27 169.70,594.23 170.20,594.18 170.70,594.14 171.20,594.13 171.70,594.13 172.20,594.13 172.70,594.07 173.20,593.99 173.70,593.90 174.20,593.89 174.70,594.00 175.20,594.12 175.70,594.19 176.20,594.09 176.70,594.00 177.20,593.91 177.70,593.96 178.20,594.02 178.70,594.07 179.20,594.02 179.70,593.93 180.20,593.85 180.70,593.85 181.20,593.90 181.70,593.95 182.20,594.03 182.70,594.13 183.20,594.24 183.70,594.31 184.20,594.25 184.70,594.20 185.20,594.14 185.70,594.14 186.20,594.14 186.70,594.14 187.20,594.12 187.70,594.08 188.20,594.05 188.70,594.09 189.20,594.18 189.70,594.27 190.20,594.28 190.70,594.18 191.20,594.08 191.70,593.99 192.20,593.97 192.70,593.94 193.20,593.92 193.70,594.00 194.20,594.09 194.70,594.17 195.20,594.14 195.70,594.09 196.20,594.04 196.70,594.08 197.20,594.18 197.70,594.27 198.20,594.29 198.70,594.18 199.20,594.07 199.70,594.01 200.20,594.12 200.70,594.24 201.20,594.36 201.70,594.33 202.20,594.30 202.70,594.27 203.20,594.22 203.70,594.21 204.20,594.20 204.70,594.31 205.20,594.50 205.70,594.70 206.20,594.87 206.70,594.99 207.20,595.11 207.70,595.24 208.20,595.41 208.70,595.61 209.20,595.80 209.70,595.91 210.20,596.03 210.70,596.15 211.20,596.28 211.70,596.43 212.20,596.57 212.70,596.68 213.20,596.79 213.70,596.92 214.20,597.15 214.70,597.35 215.20,597.56 215.70,597.81 216.20,598.25 216.70,598.78 217.20,599.47 217.70,599.86 218.20,600.25 218.70,600.64 219.20,600.86 219.70,600.56 220.20,600.27 220.70,599.89 221.20,599.43 221.70,598.97 222.20,598.79 222.70,598.64 223.20,598.48 223.70,598.34 224.20,598.27 224.70,598.19 225.20,598.25 225.70,598.62 226.20,598.99 226.70,599.37 227.20,599.65 227.70,599.80 228.20,599.49 228.70,599.17 229.20,598.85 229.70,598.52 230.20,598.19 230.70,597.85 231.20,597.59 231.70,597.50 232.20,597.54 232.70,597.57 233.20,597.60 233.70,597.43 234.20,597.26 234.70,597.08 235.20,596.97 235.70,596.86 236.20,596.78 236.70,596.77 237.20,596.79 237.70,596.81 238.20,596.81 238.70,596.78 239.20,596.75 239.70,596.71 240.20,596.65 240.70,596.59 241.20,596.53 241.70,596.47 242.20,596.41 242.70,596.34 243.20,596.40 243.70,596.49 244.20,596.58 244.70,596.54 245.20,596.43 245.70,596.33 246.20,596.24 246.70,596.17 247.20,596.10 247.70,596.03 248.20,596.02 248.70,596.01 249.20,595.99 249.70,595.87 250.20,595.74 250.70,595.61 251.20,595.61 251.70,595.63 252.20,595.65 252.70,595.57 253.20,595.40 253.70,595.24 254.20,595.12 254.70,595.05 255.20,594.99 255.70,594.95 256.20,594.94 256.70,594.94 257.20,594.94 257.70,594.76 258.20,594.58 258.70,594.40 259.20,594.31 259.70,594.23 260.20,594.16 260.70,594.20 261.20,594.30 261.70,594.42 262.20,594.45 262.70,594.36 263.20,594.26 263.70,594.20 264.20,594.25 264.70,594.30 265.20,594.36 265.70,594.34 266.20,594.31 266.70,594.29 267.20,594.23 267.70,594.16 268.20,594.10 268.70,593.98 269.20,593.83 269.70,593.69 270.20,593.64 270.70,593.73 271.20,593.82 271.70,593.88 272.20,593.80 272.70,593.71 273.20,593.63 273.70,593.59 274.20,593.55 274.70,593.51 275.20,593.53 275.70,593.56 276.20,593.58 276.70,593.57 277.20,593.52 277.70,593.48 278.20,593.49 278.70,593.58 279.20,593.67 279.70,593.75 280.20,593.77 280.70,593.79 281.20,593.81 281.70,593.62 282.20,593.44 282.70,593.26 283.20,593.25 283.70,593.28 284.20,593.31 284.70,593.32 285.20,593.31 285.70,593.30 286.20,593.29 286.70,593.25 287.20,593.22 287.70,593.22 288.20,593.37 288.70,593.51 289.20,593.66 289.70,593.52 290.20,593.38 290.70,593.24 291.20,593.22 291.70,593.24 292.20,593.25 292.70,593.22 293.20,593.16 293.70,593.09 294.20,593.07 294.70,593.10 295.20,593.13 295.70,593.18 296.20,593.30 296.70,593.42 297.20,593.54 297.70,593.55 298.20,593.56 298.70,593.58 299.20,593.53 299.70,593.47 300.20,593.42 300.70,593.35 301.20,593.29 301.70,593.22 302.20,593.16 302.70,593.12 303.20,593.07 303.70,593.07 304.20,593.22 304.70,593.37 305.20,593.52 305.70,593.39 306.20,593.25 306.70,593.12 307.20,593.11 307.70,593.13 308.20,593.15 308.70,593.19 309.20,593.25 309.70,593.30 310.20,593.31 310.70,593.25 311.20,593.20 311.70,593.17 312.20,593.28 312.70,593.40 313.20,593.51 313.70,593.44 314.20,593.38 314.70,593.31 315.20,593.30 315.70,593.30 316.20,593.29 316.70,593.34 317.20,593.42 317.70,593.50 318.20,593.54 318.70,593.55 319.20,593.55 319.70,593.52 320.20,593.40 320.70,593.27 321.20,593.14 321.70,593.10 322.20,593.06 322.70,593.02 323.20,593.11 323.70,593.23 324.20,593.35 324.70,593.36 325.20,593.28 325.70,593.21 326.20,593.14 326.70,593.10 327.20,593.05 327.70,593.01 328.20,593.03 328.70,593.04 329.20,593.06 329.70,593.12 330.20,593.18 330.70,593.24 331.20,593.21 331.70,593.15 332.20,593.09 332.70,593.08 333.20,593.10 333.70,593.11 334.20,593.16 334.70,593.27 335.20,593.37 335.70,593.44 336.20,593.38 336.70,593.33 337.20,593.27 337.70,593.21 338.20,593.15 338.70,593.08 339.20,593.08 339.70,593.10 340.20,593.12 340.70,593.21 341.20,593.34 341.70,593.48 342.20,593.49 342.70,593.32 343.20,593.14 343.70,593.03 344.20,593.13 344.70,593.26 345.20,593.43 345.70,593.45 346.20,593.47 346.70,593.48 347.20,593.51 347.70,593.55 348.20,593.59 348.70,593.59 349.20,593.55 349.70,593.50 350.20,593.52 350.70,593.68 351.20,593.86 351.70,594.02 352.20,594.08 352.70,594.11 353.20,594.14 353.70,593.99 354.20,593.85 354.70,593.71 355.20,593.38 355.70,593.00 356.20,592.62 356.70,592.73 357.20,593.18 357.70,593.62 358.20,593.71 358.70,593.27 359.20,592.84 359.70,592.56 360.20,592.93 360.70,593.30 361.20,593.64 361.70,593.24 362.20,592.85 362.70,592.45 363.20,591.92 363.70,591.35 364.20,590.78 364.70,591.30 365.20,592.25 365.70,593.20 366.20,593.74 366.70,593.58 367.20,593.31 367.70,593.19 368.20,593.68 368.70,594.16 369.20,594.60 369.70,593.84 370.20,593.08 370.70,592.32 371.20,592.19 371.70,592.22 372.20,592.26 372.70,592.60 373.20,593.12 373.70,593.65 374.20,593.73 374.70,593.15 375.20,592.57 375.70,592.18 376.20,592.51 376.70,592.84 377.20,593.17 377.70,593.47 378.20,593.77 378.70,594.06 379.20,593.86 379.70,593.54 380.20,593.22 380.70,592.98 381.20,592.79 381.70,592.60 382.20,592.69 382.70,593.21 383.20,593.74 383.70,594.03 384.20,593.36 384.70,592.61 385.20,591.85 385.70,591.84 386.20,591.83 386.70,591.95 387.20,592.13 387.70,592.26 388.20,592.39 388.70,592.67 389.20,592.96 389.70,593.08 390.20,593.08 390.70,592.88 391.20,592.69 391.70,592.61 392.20,593.03 392.70,593.48 393.20,593.93 393.70,593.81 394.20,593.66 394.70,593.48 395.20,593.34 395.70,593.22 396.20,593.10 396.70,592.84 397.20,592.53 397.70,592.27 398.20,592.22 398.70,592.40 399.20,592.52 399.70,592.59 400.20,592.59 400.70,592.61 401.20,592.62 401.70,592.61 402.20,592.59 402.70,592.58 403.20,592.52 403.70,592.44 404.20,592.37 404.70,592.27 405.20,592.17 405.70,592.07 406.20,592.01 406.70,591.99 407.20,591.97 407.70,591.96 408.20,592.01 408.70,592.06 409.20,592.11 409.70,592.11 410.20,592.11 410.70,592.11 411.20,592.03 411.70,591.94 412.20,591.85 412.70,591.84 413.20,591.90 413.70,591.95 414.20,591.97 414.70,591.92 415.20,591.87 415.70,591.84 416.20,591.89 416.70,591.94 417.20,591.98 417.70,591.94 418.20,591.90 418.70,591.86 419.20,591.88 419.70,591.91 420.20,591.94 420.70,591.85 421.20,591.69 421.70,591.53 422.20,591.49 422.70,591.61 423.20,591.74 423.70,591.84 424.20,591.84 424.70,591.83 425.00,591.60 425.25,591.60 425.50,591.60 425.75,591.60 426.00,591.60 426.25,591.60 426.50,591.60 426.75,591.60 427.00,591.60 427.25,591.60 427.50,591.60 427.75,591.60 428.00,591.60 428.25,591.60 428.50,591.60 428.75,591.60 429.00,591.60 429.25,591.60 429.50,591.60 429.75,591.60 430.00,591.60 430.25,591.60 430.50,591.60 430.75,591.60 431.00,591.60 431.25,591.64 431.50,591.77 431.75,591.98 432.00,592.27 432.25,592.62 432.50,593.04 432.75,593.51 433.00,594.04 433.25,594.63 433.50,595.71 433.75,597.38 434.00,599.51 434.25,601.97 434.50,604.64 434.75,607.38 435.00,610.10 435.25,613.11 435.50,616.45 435.75,620.04 436.00,623.84 436.25,627.77 436.50,631.78 436.75,635.81 437.00,639.80 437.25,643.80 437.50,647.90 437.75,652.08 438.00,656.34 438.25,660.67 438.50,665.04 438.75,669.46 439.00,673.90 439.25,678.99 439.50,684.93 439.75,691.10 440.00,696.86 440.25,701.59 440.50,704.66 440.75,705.44 441.00,703.63 441.25,699.84 441.50,694.83 441.75,689.39 442.00,684.28 442.25,679.93 442.50,675.41 442.75,670.74 443.00,666.03 443.25,661.42 443.50,657.05 443.75,653.04 444.00,649.53 444.25,646.56 444.50,643.82 444.75,641.26 445.00,638.86 445.25,636.61 445.50,634.49 445.75,632.50 446.00,630.62 446.25,628.83 446.50,627.13 446.75,625.48 447.00,623.88 447.25,622.35 447.50,620.89 447.75,619.50 448.00,618.19 448.25,616.96 448.50,615.82 448.75,614.78 449.00,613.83 449.25,612.93 449.50,612.07 449.75,611.25 450.00,610.46 450.25,609.71 450.50,608.99 450.75,608.31 451.00,607.66 451.25,607.04 451.50,606.46 451.75,605.91 452.00,605.39 452.25,604.89 452.50,604.43 452.75,603.96 453.00,603.50 453.25,603.05 453.50,602.61 453.75,602.19 454.00,601.78 454.25,601.38 454.50,601.00 454.75,600.64 455.00,600.31 455.25,599.99 455.50,599.71 455.75,599.45 456.00,599.22 456.25,599.02 456.50,598.86 456.75,598.73 457.00,598.62 457.25,598.53 457.50,598.45 457.75,598.38 458.00,598.32 458.25,598.25 458.50,598.18 458.75,598.10 459.00,598.00 459.25,597.87 459.50,597.68 459.75,597.42 460.00,597.10 460.25,596.77 460.50,596.42 460.75,596.09 461.00,595.81 461.25,595.58 461.50,595.44 461.75,595.40 462.00,595.51 462.25,595.75 462.50,596.08 462.75,596.47 463.00,596.90 463.25,597.33 463.50,597.72 463.75,598.05 464.00,598.29 464.25,598.40 464.50,598.34 464.75,598.12 465.00,597.77 465.25,597.32 465.50,596.81 465.75,596.27 466.00,595.74 466.25,595.25 466.50,594.84 466.75,594.54 467.00,594.34 467.25,594.15 467.50,593.97 467.75,593.80 468.00,593.64 468.25,593.48 468.50,593.34 468.75,593.20 469.00,593.07 469.25,592.95 469.50,592.84 469.75,592.74 470.00,592.64 470.25,592.55 470.50,592.47 470.75,592.39 471.00,592.33 471.25,592.26 471.50,592.20 471.75,592.14 472.00,592.08 472.25,592.02 472.50,591.97 472.75,591.92 473.00,591.86 473.25,591.82 473.50,591.77 473.75,591.73 474.00,591.70 474.25,591.67 474.50,591.64 474.75,591.62 475.00,591.61 475.25,591.60 475.50,591.62 475.75,591.81 476.00,592.17 476.25,592.69 476.50,593.32 476.75,594.43 477.00,597.04 477.25,600.00 477.50,601.98 477.75,601.82 478.00,599.91 478.25,597.23 478.50,594.77 478.75,593.44 479.00,592.70 479.25,592.06 479.50,591.55 479.75,591.22 480.00,591.10 480.25,591.28 480.50,591.76 480.75,592.48 481.00,593.38 481.25,594.38 481.50,595.41 481.75,596.41 482.00,597.30 482.25,598.04 482.50,598.77 482.75,599.55 483.00,600.32 483.25,601.00 483.50,601.53 483.75,601.84 484.00,601.90 484.25,601.89 484.50,601.88 484.75,601.87 485.00,601.85 485.25,601.82 485.50,601.79 485.75,601.75 486.00,601.71 486.25,601.66 486.50,601.60 486.75,601.55 487.00,601.48 487.25,601.41 487.50,601.27 487.75,600.91 488.00,600.38 488.25,599.73 488.50,599.00 488.75,598.22 489.00,597.45 489.25,596.73 489.50,596.10 489.75,595.61 490.00,595.28 490.25,594.99 490.50,594.70 490.75,594.45 491.00,594.24 491.25,594.09 491.50,594.01 491.75,594.10 492.00,594.70 492.25,595.73 492.50,597.11 492.75,598.73 493.00,600.50 493.25,603.61 493.50,608.71 493.75,614.85 494.00,621.10 494.25,626.52 494.50,630.18 494.75,631.14 495.00,629.32 495.25,625.53 495.50,620.57 495.75,615.27 496.00,610.41 496.25,606.82 496.50,605.08 496.75,603.85 497.00,602.74 497.25,601.79 497.50,601.02 497.75,600.49 498.00,600.22 498.25,600.20 498.50,600.20 498.75,600.20 499.00,600.20 499.25,600.20 499.50,600.20 499.75,600.20 500.00,600.20 500.25,600.20 500.50,600.20 500.75,600.20 501.00,600.20 501.25,600.08 501.50,599.74 501.75,599.23 502.00,598.62 502.25,597.94 502.50,597.25 502.75,596.60 503.00,596.05 503.25,595.64 503.50,595.42 503.75,595.48 504.00,595.91 504.25,596.69 504.50,597.74 504.75,598.99 505.00,600.40 505.25,601.90 505.50,603.94 505.75,607.33 506.00,611.61 506.25,616.28 506.50,620.86 506.75,624.86 507.00,627.79 507.25,629.16 507.50,628.11 507.75,624.33 508.00,618.96 508.25,613.20 508.50,608.22 508.75,605.15 509.00,602.94 509.25,600.89 509.50,599.13 509.75,597.84 510.00,597.16 510.25,597.14 510.50,597.34 510.75,597.71 511.00,598.21 511.25,598.83 511.50,599.53 511.75,600.29 512.00,601.08 512.25,601.93 512.50,603.04 512.75,604.38 513.00,605.93 513.25,607.66 513.50,609.52 513.75,611.48 514.00,613.52 514.25,615.59 514.50,617.66 514.75,619.71 515.00,621.83 515.25,624.09 515.50,626.45 515.75,628.92 516.00,631.45 516.25,634.05 516.50,636.69 516.75,639.35 517.00,642.02 517.25,644.68 517.50,647.31 517.75,649.90 518.00,652.41 518.25,654.88 518.50,657.41 518.75,659.99 519.00,662.61 519.25,665.23 519.50,667.85 519.75,670.44 520.00,672.97 520.25,675.43 520.50,677.80 520.75,680.05 521.00,682.16 521.25,684.12 521.50,685.90 521.75,687.64 522.00,689.45 522.25,691.26 522.50,693.01 522.75,694.63 523.00,696.07 523.25,697.26 523.50,698.13 523.75,698.62 524.00,698.66 524.25,698.23 524.50,697.40 524.75,696.23 525.00,694.79 525.25,693.17 525.50,691.43 525.75,689.65 526.00,687.67 526.25,685.10 526.50,682.06 526.75,678.70 527.00,675.15 527.25,671.54 527.50,668.02 527.75,664.72 528.00,661.61 528.25,658.41 528.50,655.15 528.75,651.88 529.00,648.62 529.25,645.42 529.50,642.31 529.75,639.33 530.00,636.52 530.25,633.92 530.50,631.56 530.75,629.42 531.00,627.25 531.25,625.06 531.50,622.91 531.75,620.85 532.00,618.92 532.25,617.19 532.50,615.69 532.75,614.49 533.00,613.62 533.25,613.14 533.50,612.98 533.75,612.85 534.00,612.76 534.25,612.69 534.50,612.63 534.75,612.58 535.00,612.51 535.25,612.43 535.50,612.32 535.75,612.16 536.00,611.81 536.25,611.24 536.50,610.53 536.75,609.74 537.00,608.94 537.25,608.19 537.50,607.58 537.75,607.16 538.00,607.00 538.25,607.07 538.50,607.28 538.75,607.61 539.00,608.05 539.25,608.59 539.50,609.21 539.75,609.91 540.00,610.66 540.25,611.48 540.50,612.75 540.75,614.60 541.00,616.92 541.25,619.61 541.50,622.58 541.75,625.72 542.00,628.92 542.25,632.10 542.50,635.14 542.75,638.07 543.00,641.30 543.25,644.77 543.50,648.41 543.75,652.11 544.00,655.79 544.25,659.34 544.50,662.68 544.75,665.72 545.00,668.35 545.25,670.49 545.50,672.07 545.75,673.31 546.00,674.33 546.25,675.22 546.50,676.07 546.75,676.95 547.00,677.95 547.25,679.16 547.50,680.67 547.75,682.43 548.00,684.33 548.25,686.27 548.50,688.17 548.75,689.91 549.00,691.40 549.25,692.63 549.50,693.88 549.75,695.09 550.00,696.14 550.25,696.94 550.50,697.36 550.75,697.29 551.00,696.63 551.25,695.48 551.50,693.91 551.75,692.01 552.00,689.89 552.25,687.63 552.50,685.32 552.75,683.04 553.00,680.64 553.25,677.70 553.50,674.36 553.75,670.77 554.00,667.11 554.25,663.52 554.50,660.17 554.75,657.21 555.00,654.80 555.25,652.72 555.50,650.66 555.75,648.67 556.00,646.79 556.25,645.04 556.50,643.49 556.75,642.15 557.00,641.08 557.25,640.30 557.50,639.85 557.75,639.53 558.00,639.29 558.25,639.09 558.50,638.93 558.75,638.78 559.00,638.62 559.25,638.43 559.50,638.19 559.75,637.87 560.00,637.34 560.25,636.40 560.50,635.20 560.75,633.89 561.00,632.64 561.25,631.58 561.50,630.89 561.75,630.74 562.00,631.90 562.25,634.40 562.50,637.80 562.75,641.67 563.00,645.60 563.25,651.25 563.50,658.42 563.75,663.88 564.00,664.76 564.25,662.38 564.50,658.25 564.75,653.33 565.00,648.59 565.25,644.98 565.50,641.86 565.75,638.72 566.00,635.67 566.25,632.80 566.50,630.21 566.75,627.98 567.00,626.22 567.25,625.00 567.50,624.00 567.75,623.05 568.00,622.18 568.25,621.41 568.50,620.75 568.75,620.22 569.00,619.84 569.25,619.64 569.50,619.62 569.75,619.84 570.00,620.26 570.25,620.83 570.50,621.51 570.75,622.25 571.00,623.00 571.25,623.70 571.50,624.33 571.75,624.81 572.00,625.12 572.25,625.19 572.50,624.91 572.75,624.28 573.00,623.38 573.25,622.28 573.50,621.04 573.75,619.75 574.00,618.48 574.25,617.28 574.50,616.25 574.75,615.40 575.00,614.56 575.25,613.71 575.50,612.87 575.75,612.05 576.00,611.24 576.25,610.46 576.50,609.72 576.75,609.02 577.00,608.37 577.25,607.77 577.50,607.24 577.75,606.78 578.00,606.38 578.25,605.97 578.50,605.57 578.75,605.18 579.00,604.80 579.25,604.44 579.50,604.10 579.75,603.78 580.00,603.49 580.25,603.24 580.50,603.02 580.75,602.84 581.00,602.71 581.25,602.63 581.50,602.60 581.75,602.64 582.00,602.74 582.25,602.91 582.50,603.13 582.75,603.41 583.00,603.73 583.25,604.09 583.50,604.49 583.75,604.91 584.00,605.35 584.25,605.81 584.50,606.28 584.75,606.75 585.00,607.23 585.25,607.69 585.50,608.13 585.75,608.55 586.00,609.00 586.25,609.48 586.50,610.04 586.75,610.70 587.00,611.50 587.25,612.45 587.50,613.59 587.75,615.57 588.00,620.19 588.25,625.87 588.50,630.70 588.75,634.78 589.00,638.95 589.25,642.42 589.50,644.40 589.75,643.87 590.00,640.15 590.25,634.85 590.50,629.75 590.75,626.55 591.00,624.33 591.25,622.42 591.50,621.08 591.75,620.56 592.00,620.39 592.25,620.27 592.50,620.18 592.75,620.12 593.00,620.07 593.25,620.02 593.50,619.97 593.75,619.90 594.00,619.82 594.25,619.69 594.50,619.51 594.75,619.07 595.00,618.38 595.25,617.49 595.50,616.46 595.75,615.33 596.00,614.16 596.25,613.00 596.50,611.90 596.75,610.91 597.00,610.07 597.25,609.21 597.50,608.31 597.75,607.41 598.00,606.56 598.25,605.79 598.50,605.15 598.75,604.67 599.00,604.40 599.25,604.25 599.50,604.11 599.75,603.98 600.00,603.86 600.25,603.75 600.50,603.66 600.75,603.57 601.00,603.50 601.25,603.43 601.50,603.38 601.75,603.34 602.00,603.32 602.25,603.30 602.50,603.35 602.75,603.84 603.00,604.74 603.25,605.87 603.50,607.07 603.75,608.16 604.00,608.99 604.25,609.39 604.50,609.26 604.75,608.73 605.00,607.89 605.25,606.82 605.50,605.62 605.75,604.36 606.00,603.13 606.25,602.01 606.50,601.10 606.75,600.31 607.00,599.52 607.25,598.74 607.50,597.97 607.75,597.23 608.00,596.52 608.25,595.85 608.50,595.23 608.75,594.67 609.00,594.18 609.25,593.77 609.50,593.42 609.75,593.06 610.00,592.73 610.25,592.43 610.50,592.18 610.75,592.00 611.00,591.91 611.25,591.97 611.50,592.39 611.75,593.17 612.00,594.26 612.25,595.63 612.50,597.25 612.75,599.08 613.00,601.10 613.25,604.64 613.50,610.61 613.75,618.34 614.00,627.15 614.25,636.38 614.50,645.34 614.75,653.37 615.00,660.83 615.25,669.22 615.50,677.97 615.75,686.45 616.00,694.00 616.25,699.99 616.50,703.78 616.75,704.73 617.00,702.61 617.25,698.03 617.50,691.74 617.75,684.46 618.00,676.94 618.25,669.91 618.50,664.10 618.75,659.09 619.00,654.05 619.25,649.09 619.50,644.33 619.75,639.89 620.00,635.89 620.25,632.45 620.50,629.64 620.75,627.13 621.00,624.82 621.25,622.68 621.50,620.70 621.75,618.85 622.00,617.12 622.25,615.49 622.50,613.93 622.75,612.43 623.00,610.98 623.25,609.54 623.50,608.14 623.75,606.78 624.00,605.45 624.25,604.18 624.50,602.96 624.75,601.80 625.00,600.71 625.25,599.68 625.50,598.74 625.75,597.88 626.00,597.10 626.25,596.35 626.50,595.62 626.75,594.92 627.00,594.26 627.25,593.63 627.50,593.04 627.75,592.50 628.00,592.01 628.25,591.58 628.50,591.21 628.75,590.90" fill="none" stroke="#FF0000" stroke-width="2.1" stroke-linejoin="round" stroke-linecap="round"/>
<polyline points="36.20,651.11 36.70,651.09 37.20,651.06 37.70,651.03 38.20,651.01 38.70,651.00 39.20,651.00 39.70,650.99 40.20,650.96 40.70,650.92 41.20,650.89 41.70,650.90 42.20,650.91 42.70,650.93 43.20,650.94 43.70,650.96 44.20,650.98 44.70,651.00 45.20,651.01 45.70,651.03 46.20,651.04 46.70,651.06 47.20,651.07 47.70,651.07 48.20,651.03 48.70,650.98 49.20,650.94 49.70,650.91 50.20,650.87 50.70,650.83 51.20,650.84 51.70,650.86 52.20,650.89 52.70,650.94 53.20,651.01 53.70,651.08 54.20,651.09 54.70,651.01 55.20,650.92 55.70,650.86 56.20,650.89 56.70,650.92 57.20,650.94 57.70,651.01 58.20,651.07 58.70,651.13 59.20,651.05 59.70,650.93 60.20,650.80 60.70,650.80 61.20,650.87 61.70,650.95 62.20,651.02 62.70,651.06 63.20,651.11 63.70,651.13 64.20,651.03 64.70,650.93 65.20,650.83 65.70,650.87 66.20,650.91 66.70,650.96 67.20,651.00 67.70,651.05 68.20,651.10 68.70,651.06 69.20,650.95 69.70,650.84 70.20,650.80 70.70,650.85 71.20,650.90 71.70,650.95 72.20,650.98 72.70,651.01 73.20,651.04 73.70,651.03 74.20,651.01 74.70,651.00 75.20,650.98 75.70,650.95 76.20,650.92 76.70,650.88 77.20,650.85 77.70,650.81 78.20,650.80 78.70,650.84 79.20,650.88 79.70,650.91 80.20,650.89 80.70,650.87 81.20,650.85 81.70,650.87 82.20,650.88 82.70,650.89 83.20,650.88 83.70,650.86 84.20,650.85 84.70,650.88 85.20,650.94 85.70,651.01 86.20,651.04 86.70,651.03 87.20,651.02 87.70,651.00 88.20,650.93 88.70,650.87 89.20,650.81 89.70,650.84 90.20,650.87 90.70,650.91 91.20,650.88 91.70,650.84 92.20,650.80 92.70,650.79 93.20,650.82 93.70,650.84 94.20,650.85 94.70,650.83 95.20,650.82 95.70,650.81 96.20,650.85 96.70,650.89 97.20,650.93 97.70,650.89 98.20,650.85 98.70,650.81 99.20,650.81 99.70,650.82 100.20,650.83 100.70,650.86 101.20,650.89 101.70,650.93 102.20,650.93 102.70,650.89 103.20,650.84 103.70,650.82 104.20,650.89 104.70,650.95 105.20,651.02 105.70,650.92 106.20,650.82 106.70,650.71 107.20,650.76 107.70,650.83 108.20,650.91 108.70,650.91 109.20,650.86 109.70,650.82 110.20,650.79 110.70,650.79 111.20,650.79 111.70,650.79 112.20,650.82 112.70,650.84 113.20,650.87 113.70,650.85 114.20,650.84 114.70,650.82 115.20,650.81 115.70,650.79 116.20,650.78 116.70,650.75 117.20,650.70 117.70,650.66 118.20,650.64 118.70,650.65 119.20,650.66 119.70,650.68 120.20,650.74 120.70,650.80 121.20,650.85 121.70,650.83 122.20,650.81 122.70,650.79 123.20,650.80 123.70,650.81 124.20,650.82 124.70,650.83 125.20,650.85 125.70,650.87 126.20,650.87 126.70,650.85 127.20,650.82 127.70,650.80 128.20,650.75 128.70,650.70 129.20,650.65 129.70,650.66 130.20,650.68 130.70,650.70 131.20,650.71 131.70,650.73 132.20,650.75 132.70,650.74 133.20,650.71 133.70,650.68 134.20,650.69 134.70,650.74 135.20,650.79 135.70,650.83 136.20,650.83 136.70,650.82 137.20,650.82 137.70,650.81 138.20,650.80 138.70,650.79 139.20,650.76 139.70,650.73 140.20,650.70 140.70,650.70 141.20,650.73 141.70,650.75 142.20,650.74 142.70,650.69 143.20,650.63 143.70,650.59 144.20,650.60 144.70,650.61 145.20,650.62 145.70,650.63 146.20,650.63 146.70,650.64 147.20,650.66 147.70,650.68 148.20,650.69 148.70,650.69 149.20,650.67 149.70,650.64 150.20,650.62 150.70,650.59 151.20,650.56 151.70,650.54 152.20,650.55 152.70,650.56 153.20,650.57 153.70,650.57 154.20,650.57 154.70,650.56 155.20,650.56 155.70,650.55 156.20,650.55 156.70,650.54 157.20,650.52 157.70,650.51 158.20,650.51 158.70,650.52 159.20,650.54 159.70,650.55 160.20,650.55 160.70,650.55 161.20,650.55 161.70,650.57 162.20,650.59 162.70,650.61 163.20,650.62 163.70,650.61 164.20,650.61 164.70,650.60 165.20,650.58 165.70,650.55 166.20,650.53 166.70,650.53 167.20,650.52 167.70,650.52 168.20,650.54 168.70,650.56 169.20,650.58 169.70,650.59 170.20,650.59 170.70,650.60 171.20,650.58 171.70,650.56 172.20,650.54 172.70,650.54 173.20,650.55 173.70,650.56 174.20,650.56 174.70,650.57 175.20,650.58 175.70,650.57 176.20,650.50 176.70,650.43 177.20,650.36 177.70,650.42 178.20,650.48 178.70,650.54 179.20,650.52 179.70,650.47 180.20,650.42 180.70,650.41 181.20,650.42 181.70,650.44 182.20,650.45 182.70,650.47 183.20,650.50 183.70,650.51 184.20,650.50 184.70,650.50 185.20,650.49 185.70,650.44 186.20,650.40 186.70,650.35 187.20,650.37 187.70,650.41 188.20,650.45 188.70,650.44 189.20,650.39 189.70,650.34 190.20,650.32 190.70,650.34 191.20,650.36 191.70,650.39 192.20,650.42 192.70,650.45 193.20,650.49 193.70,650.46 194.20,650.43 194.70,650.40 195.20,650.40 195.70,650.41 196.20,650.42 196.70,650.43 197.20,650.44 197.70,650.45 198.20,650.46 198.70,650.47 199.20,650.47 199.70,650.48 200.20,650.47 200.70,650.47 201.20,650.46 201.70,650.41 202.20,650.35 202.70,650.29 203.20,650.32 203.70,650.40 204.20,650.48 204.70,650.54 205.20,650.60 205.70,650.66 206.20,650.71 206.70,650.74 207.20,650.77 207.70,650.82 208.20,650.93 208.70,651.06 209.20,651.18 209.70,651.28 210.20,651.38 210.70,651.48 211.20,651.59 211.70,651.70 212.20,651.82 212.70,651.93 213.20,652.04 213.70,652.16 214.20,652.31 214.70,652.42 215.20,652.52 215.70,652.65 216.20,652.82 216.70,653.05 217.20,653.34 217.70,653.66 218.20,653.98 218.70,654.30 219.20,654.38 219.70,654.19 220.20,654.00 220.70,653.82 221.20,653.64 221.70,653.46 222.20,653.43 222.70,653.45 223.20,653.47 223.70,653.48 224.20,653.44 224.70,653.39 225.20,653.42 225.70,653.61 226.20,653.80 226.70,653.99 227.20,654.15 227.70,654.24 228.20,654.12 228.70,653.95 229.20,653.76 229.70,653.56 230.20,653.40 230.70,653.30 231.20,653.23 231.70,653.22 232.20,653.19 232.70,653.12 233.20,653.01 233.70,652.86 234.20,652.69 234.70,652.49 235.20,652.22 235.70,651.93 236.20,651.65 236.70,651.41 237.20,651.21 237.70,651.01 238.20,650.87 238.70,650.78 239.20,650.74 239.70,650.72 240.20,650.69 240.70,650.67 241.20,650.64 241.70,650.56 242.20,650.48 242.70,650.40 243.20,650.38 243.70,650.37 244.20,650.36 244.70,650.35 245.20,650.35 245.70,650.36 246.20,650.36 246.70,650.36 247.20,650.36 247.70,650.34 248.20,650.28 248.70,650.22 249.20,650.15 249.70,650.18 250.20,650.20 250.70,650.23 251.20,650.23 251.70,650.23 252.20,650.23 252.70,650.21 253.20,650.18 253.70,650.15 254.20,650.11 254.70,650.07 255.20,650.04 255.70,650.01 256.20,650.00 256.70,649.98 257.20,649.97 257.70,649.99 258.20,650.00 258.70,650.02 259.20,650.05 259.70,650.09 260.20,650.13 260.70,650.11 261.20,650.05 261.70,649.99 262.20,649.95 262.70,649.95 263.20,649.94 263.70,649.94 264.20,649.97 264.70,649.99 265.20,650.02 265.70,649.99 266.20,649.97 266.70,649.94 267.20,649.94 267.70,649.95 268.20,649.95 268.70,649.95 269.20,649.94 269.70,649.93 270.20,649.93 270.70,649.97 271.20,650.01 271.70,650.04 272.20,650.05 272.70,650.06 273.20,650.07 273.70,650.05 274.20,650.03 274.70,650.01 275.20,649.99 275.70,649.96 276.20,649.94 276.70,649.94 277.20,649.95 277.70,649.97 278.20,649.98 278.70,650.00 279.20,650.02 279.70,650.04 280.20,650.07 280.70,650.09 281.20,650.12 281.70,650.12 282.20,650.12 282.70,650.13 283.20,650.08 283.70,650.02 284.20,649.97 284.70,649.93 285.20,649.92 285.70,649.90 286.20,649.91 286.70,649.97 287.20,650.03 287.70,650.08 288.20,650.09 288.70,650.10 289.20,650.11 289.70,650.07 290.20,650.03 290.70,650.00 291.20,650.01 291.70,650.03 292.20,650.06 292.70,650.07 293.20,650.08 293.70,650.08 294.20,650.08 294.70,650.06 295.20,650.04 295.70,650.03 296.20,650.05 296.70,650.07 297.20,650.09 297.70,650.03 298.20,649.96 298.70,649.90 299.20,649.90 299.70,649.92 300.20,649.94 300.70,649.95 301.20,649.95 301.70,649.95 302.20,649.94 302.70,649.93 303.20,649.92 303.70,649.92 304.20,649.98 304.70,650.04 305.20,650.10 305.70,650.03 306.20,649.97 306.70,649.90 307.20,649.93 307.70,649.97 308.20,650.02 308.70,650.01 309.20,649.97 309.70,649.92 310.20,649.91 310.70,649.93 311.20,649.95 311.70,649.97 312.20,649.97 312.70,649.98 313.20,649.98 313.70,649.96 314.20,649.94 314.70,649.93 315.20,649.94 315.70,649.97 316.20,649.99 316.70,650.01 317.20,650.01 317.70,650.01 318.20,650.00 318.70,649.99 319.20,649.97 319.70,649.96 320.20,649.99 320.70,650.03 321.20,650.06 321.70,650.01 322.20,649.97 322.70,649.93 323.20,649.92 323.70,649.92 324.20,649.93 324.70,649.93 325.20,649.95 325.70,649.96 326.20,649.97 326.70,649.97 327.20,649.97 327.70,649.97 328.20,649.96 328.70,649.94 329.20,649.93 329.70,649.98 330.20,650.04 330.70,650.09 331.20,650.10 331.70,650.09 332.20,650.08 332.70,650.05 333.20,649.99 333.70,649.94 334.20,649.91 334.70,649.93 335.20,649.95 335.70,649.97 336.20,649.96 336.70,649.95 337.20,649.94 337.70,649.95 338.20,649.97 338.70,649.98 339.20,649.98 339.70,649.96 340.20,649.95 340.70,649.96 341.20,649.97 341.70,649.99 342.20,650.01 342.70,650.04 343.20,650.08 343.70,650.09 344.20,650.05 344.70,650.01 345.20,649.97 345.70,649.99 346.20,650.01 346.70,650.03 347.20,650.03 347.70,650.03 348.20,650.02 348.70,650.03 349.20,650.04 349.70,650.05 350.20,650.04 350.70,649.99 351.20,649.94 351.70,649.91 352.20,649.96 352.70,650.01 353.20,650.06 353.70,650.07 354.20,650.09 354.70,650.10 355.20,650.09 355.70,650.06 356.20,650.04 356.70,650.01 357.20,649.99 357.70,649.96 358.20,649.96 358.70,649.99 359.20,650.02 359.70,650.04 360.20,650.04 360.70,650.05 361.20,650.05 361.70,650.05 362.20,650.04 362.70,650.04 363.20,650.01 363.70,649.97 364.20,649.93 364.70,649.95 365.20,650.01 365.70,650.08 366.20,650.11 366.70,650.11 367.20,650.11 367.70,650.10 368.20,650.06 368.70,650.02 369.20,649.98 369.70,649.99 370.20,650.01 370.70,650.02 371.20,649.99 371.70,649.95 372.20,649.91 372.70,649.93 373.20,650.00 373.70,650.07 374.20,650.11 374.70,650.10 375.20,650.09 375.70,650.07 376.20,650.06 376.70,650.05 377.20,650.03 377.70,650.04 378.20,650.05 378.70,650.06 379.20,650.03 379.70,649.99 380.20,649.94 380.70,649.93 381.20,649.94 381.70,649.95 382.20,649.95 382.70,649.95 383.20,649.95 383.70,649.95 384.20,649.98 384.70,650.00 385.20,650.03 385.70,650.00 386.20,649.96 386.70,649.92 387.20,649.97 387.70,650.03 388.20,650.09 388.70,650.10 389.20,650.07 389.70,650.04 390.20,650.02 390.70,650.02 391.20,650.02 391.70,650.02 392.20,650.00 392.70,649.98 393.20,649.96 393.70,650.00 394.20,650.05 394.70,650.10 395.20,650.12 395.70,650.13 396.20,650.15 396.70,650.14 397.20,650.14 397.70,650.13 398.20,650.11 398.70,650.09 399.20,650.06 399.70,650.05 400.20,650.10 400.70,650.14 401.20,650.19 401.70,650.14 402.20,650.10 402.70,650.06 403.20,650.10 403.70,650.15 404.20,650.21 404.70,650.22 405.20,650.21 405.70,650.20 406.20,650.18 406.70,650.17 407.20,650.15 407.70,650.14 408.20,650.16 408.70,650.19 409.20,650.21 409.70,650.22 410.20,650.24 410.70,650.25 411.20,650.24 411.70,650.22 412.20,650.20 412.70,650.22 413.20,650.27 413.70,650.32 414.20,650.34 414.70,650.31 415.20,650.29 415.70,650.27 416.20,650.31 416.70,650.36 417.20,650.40 417.70,650.40 418.20,650.40 418.70,650.40 419.20,650.36 419.70,650.32 420.20,650.27 420.70,650.28 421.20,650.32 421.70,650.37 422.20,650.39 422.70,650.37 423.20,650.35 423.70,650.35 424.20,650.38 424.70,650.42 425.00,650.40 425.25,650.40 425.50,650.40 425.75,650.40 426.00,650.40 426.25,650.40 426.50,650.40 426.75,650.40 427.00,650.40 427.25,650.40 427.50,650.40 427.75,650.40 428.00,650.40 428.25,650.40 428.50,650.40 428.75,650.40 429.00,650.40 429.25,650.40 429.50,650.40 429.75,650.40 430.00,650.40 430.25,650.40 430.50,650.40 430.75,650.40 431.00,650.40 431.25,650.40 431.50,650.40 431.75,650.40 432.00,650.40 432.25,650.40 432.50,650.40 432.75,650.40 433.00,650.52 433.25,650.78 433.50,651.18 433.75,651.70 434.00,652.32 434.25,653.03 434.50,653.82 434.75,654.67 435.00,655.61 435.25,657.07 435.50,659.04 435.75,661.43 436.00,664.12 436.25,667.01 436.50,669.97 436.75,672.90 437.00,675.70 437.25,678.40 437.50,681.13 437.75,683.93 438.00,686.80 438.25,689.79 438.50,692.90 438.75,696.16 439.00,699.60 439.25,703.79 439.50,708.98 439.75,714.69 440.00,720.43 440.25,725.74 440.50,730.12 440.75,733.10 441.00,734.20 441.25,732.92 441.50,729.57 441.75,724.90 442.00,719.67 442.25,714.63 442.50,710.35 442.75,705.94 443.00,701.36 443.25,696.94 443.50,692.98 443.75,689.81 444.00,687.41 444.25,685.20 444.50,683.17 444.75,681.30 445.00,679.58 445.25,678.00 445.50,676.55 445.75,675.21 446.00,673.98 446.25,672.84 446.50,671.78 446.75,670.78 447.00,669.83 447.25,668.92 447.50,668.05 447.75,667.23 448.00,666.45 448.25,665.72 448.50,665.02 448.75,664.36 449.00,663.74 449.25,663.16 449.50,662.61 449.75,662.10 450.00,661.61 450.25,661.13 450.50,660.65 450.75,660.18 451.00,659.73 451.25,659.28 451.50,658.86 451.75,658.45 452.00,658.07 452.25,657.70 452.50,657.36 452.75,657.05 453.00,656.77 453.25,656.53 453.50,656.31 453.75,656.14 454.00,656.00 454.25,655.89 454.50,655.79 454.75,655.70 455.00,655.62 455.25,655.55 455.50,655.48 455.75,655.42 456.00,655.36 456.25,655.31 456.50,655.26 456.75,655.20 457.00,655.15 457.25,655.09 457.50,655.03 457.75,654.97 458.00,654.90 458.25,654.82 458.50,654.73 458.75,654.62 459.00,654.49 459.25,654.36 459.50,654.22 459.75,654.07 460.00,653.93 460.25,653.78 460.50,653.64 460.75,653.51 461.00,653.40 461.25,653.29 461.50,653.21 461.75,653.15 462.00,653.11 462.25,653.10 462.50,653.19 462.75,653.37 463.00,653.64 463.25,653.99 463.50,654.38 463.75,654.80 464.00,655.24 464.25,655.67 464.50,656.08 464.75,656.46 465.00,656.77 465.25,657.01 465.50,657.16 465.75,657.20 466.00,657.11 466.25,656.90 466.50,656.59 466.75,656.21 467.00,655.76 467.25,655.26 467.50,654.74 467.75,654.21 468.00,653.68 468.25,653.18 468.50,652.73 468.75,652.33 469.00,652.01 469.25,651.78 469.50,651.66 469.75,651.56 470.00,651.47 470.25,651.38 470.50,651.29 470.75,651.21 471.00,651.13 471.25,651.05 471.50,650.98 471.75,650.91 472.00,650.84 472.25,650.78 472.50,650.73 472.75,650.67 473.00,650.63 473.25,650.58 473.50,650.54 473.75,650.51 474.00,650.48 474.25,650.45 474.50,650.43 474.75,650.42 475.00,650.41 475.25,650.40 475.50,650.41 475.75,650.46 476.00,650.58 476.25,650.75 476.50,650.97 476.75,651.24 477.00,651.56 477.25,652.17 477.50,653.82 477.75,655.94 478.00,657.85 478.25,658.87 478.50,658.46 478.75,656.95 479.00,654.90 479.25,652.85 479.50,651.34 479.75,650.90 480.00,650.94 480.25,651.01 480.50,651.13 480.75,651.27 481.00,651.43 481.25,651.60 481.50,651.78 481.75,652.07 482.00,652.46 482.25,652.92 482.50,653.42 482.75,653.93 483.00,654.42 483.25,654.85 483.50,655.20 483.75,655.43 484.00,655.53 484.25,655.59 484.50,655.66 484.75,655.71 485.00,655.76 485.25,655.81 485.50,655.85 485.75,655.89 486.00,655.92 486.25,655.95 486.50,655.97 486.75,655.99 487.00,656.00 487.25,656.00 487.50,655.94 487.75,655.73 488.00,655.38 488.25,654.93 488.50,654.42 488.75,653.86 489.00,653.30 489.25,652.76 489.50,652.28 489.75,651.88 490.00,651.59 490.25,651.31 490.50,651.03 490.75,650.77 491.00,650.52 491.25,650.31 491.50,650.15 491.75,650.04 492.00,650.00 492.25,650.27 492.50,651.02 492.75,652.12 493.00,653.45 493.25,654.90 493.50,656.91 493.75,660.24 494.00,664.30 494.25,668.52 494.50,672.27 494.75,674.97 495.00,676.00 495.25,675.11 495.50,672.79 495.75,669.58 496.00,666.00 496.25,662.60 496.50,659.90 496.75,658.40 497.00,657.44 497.25,656.59 497.50,655.84 497.75,655.22 498.00,654.74 498.25,654.42 498.50,654.25 498.75,654.13 499.00,654.04 499.25,653.97 499.50,653.91 499.75,653.86 500.00,653.81 500.25,653.77 500.50,653.72 500.75,653.67 501.00,653.60 501.25,653.51 501.50,653.40 501.75,653.20 502.00,652.86 502.25,652.44 502.50,651.95 502.75,651.45 503.00,650.97 503.25,650.55 503.50,650.22 503.75,650.03 504.00,650.03 504.25,650.30 504.50,650.84 504.75,651.60 505.00,652.53 505.25,653.59 505.50,654.73 505.75,656.16 506.00,658.72 506.25,662.08 506.50,665.82 506.75,669.48 507.00,672.65 507.25,674.86 507.50,675.70 507.75,674.33 508.00,670.85 508.25,666.24 508.50,661.45 508.75,657.45 509.00,655.20 509.25,654.20 509.50,653.31 509.75,652.58 510.00,652.05 510.25,651.75 510.50,651.71 510.75,651.78 511.00,651.94 511.25,652.17 511.50,652.47 511.75,652.82 512.00,653.22 512.25,653.67 512.50,654.15 512.75,654.67 513.00,655.20 513.25,655.89 513.50,656.84 513.75,658.00 514.00,659.35 514.25,660.83 514.50,662.41 514.75,664.03 515.00,665.67 515.25,667.27 515.50,668.80 515.75,670.30 516.00,671.83 516.25,673.40 516.50,674.99 516.75,676.61 517.00,678.25 517.25,679.91 517.50,681.58 517.75,683.26 518.00,684.94 518.25,686.63 518.50,688.32 518.75,690.00 519.00,691.67 519.25,693.34 519.50,695.02 519.75,696.70 520.00,698.39 520.25,700.08 520.50,701.78 520.75,703.49 521.00,705.20 521.25,706.92 521.50,708.64 521.75,710.37 522.00,712.11 522.25,713.85 522.50,715.64 522.75,717.75 523.00,720.08 523.25,722.45 523.50,724.66 523.75,726.53 524.00,727.87 524.25,728.48 524.50,728.30 524.75,727.54 525.00,726.34 525.25,724.80 525.50,723.05 525.75,721.20 526.00,719.37 526.25,717.67 526.50,715.97 526.75,714.17 527.00,712.27 527.25,710.29 527.50,708.23 527.75,706.08 528.00,703.86 528.25,701.57 528.50,699.11 528.75,696.34 529.00,693.34 529.25,690.22 529.50,687.06 529.75,683.97 530.00,681.03 530.25,678.35 530.50,676.01 530.75,674.03 531.00,672.07 531.25,670.14 531.50,668.26 531.75,666.47 532.00,664.80 532.25,663.29 532.50,661.96 532.75,660.86 533.00,660.02 533.25,659.47 533.50,659.16 533.75,658.92 534.00,658.74 534.25,658.59 534.50,658.46 534.75,658.33 535.00,658.19 535.25,658.02 535.50,657.81 535.75,657.54 536.00,657.11 536.25,656.53 536.50,655.85 536.75,655.13 537.00,654.40 537.25,653.74 537.50,653.18 537.75,652.74 538.00,652.31 538.25,651.87 538.50,651.47 538.75,651.13 539.00,650.87 539.25,650.73 539.50,650.72 539.75,650.99 540.00,651.50 540.25,652.23 540.50,653.13 540.75,654.16 541.00,655.29 541.25,656.46 541.50,657.83 541.75,659.69 542.00,661.96 542.25,664.55 542.50,667.36 542.75,670.30 543.00,673.26 543.25,676.16 543.50,678.90 543.75,681.71 544.00,684.81 544.25,688.05 544.50,691.32 544.75,694.46 545.00,697.36 545.25,699.87 545.50,701.87 545.75,703.22 546.00,704.16 546.25,704.90 546.50,705.51 546.75,706.05 547.00,706.62 547.25,707.28 547.50,708.11 547.75,709.25 548.00,710.94 548.25,713.03 548.50,715.28 548.75,717.49 549.00,719.44 549.25,720.92 549.50,721.79 549.75,722.49 550.00,723.12 550.25,723.64 550.50,724.04 550.75,724.26 551.00,724.27 551.25,723.99 551.50,723.43 551.75,722.64 552.00,721.67 552.25,720.55 552.50,719.33 552.75,718.06 553.00,716.52 553.25,714.32 553.50,711.61 553.75,708.54 554.00,705.28 554.25,702.00 554.50,698.87 554.75,696.05 555.00,693.70 555.25,691.65 555.50,689.61 555.75,687.63 556.00,685.73 556.25,683.94 556.50,682.29 556.75,680.82 557.00,679.54 557.25,678.50 557.50,677.71 557.75,677.05 558.00,676.49 558.25,676.00 558.50,675.56 558.75,675.16 559.00,674.76 559.25,674.35 559.50,673.90 559.75,673.41 560.00,672.81 560.25,672.08 560.50,671.28 560.75,670.48 561.00,669.76 561.25,669.18 561.50,668.80 561.75,668.74 562.00,669.92 562.25,672.39 562.50,675.65 562.75,679.22 563.00,682.60 563.25,686.51 563.50,691.36 563.75,696.19 564.00,700.04 564.25,701.94 564.50,701.17 564.75,698.27 565.00,694.07 565.25,689.42 565.50,685.16 565.75,682.09 566.00,679.56 566.25,677.07 566.50,674.71 566.75,672.55 567.00,670.68 567.25,669.16 567.50,668.09 567.75,667.44 568.00,666.86 568.25,666.34 568.50,665.86 568.75,665.44 569.00,665.08 569.25,664.79 569.50,664.58 569.75,664.45 570.00,664.40 570.25,664.65 570.50,665.33 570.75,666.31 571.00,667.47 571.25,668.67 571.50,669.80 571.75,670.73 572.00,671.33 572.25,671.49 572.50,671.30 572.75,670.87 573.00,670.23 573.25,669.44 573.50,668.53 573.75,667.56 574.00,666.55 574.25,665.56 574.50,664.63 574.75,663.79 575.00,663.10 575.25,662.49 575.50,661.87 575.75,661.26 576.00,660.65 576.25,660.05 576.50,659.46 576.75,658.89 577.00,658.35 577.25,657.84 577.50,657.36 577.75,656.92 578.00,656.52 578.25,656.18 578.50,655.89 578.75,655.66 579.00,655.45 579.25,655.24 579.50,655.04 579.75,654.86 580.00,654.68 580.25,654.51 580.50,654.36 580.75,654.23 581.00,654.12 581.25,654.02 581.50,653.96 581.75,653.91 582.00,653.90 582.25,653.94 582.50,654.06 582.75,654.24 583.00,654.47 583.25,654.76 583.50,655.08 583.75,655.43 584.00,655.81 584.25,656.19 584.50,656.58 584.75,656.96 585.00,657.32 585.25,657.67 585.50,657.97 585.75,658.25 586.00,658.51 586.25,658.79 586.50,659.10 586.75,659.46 587.00,659.89 587.25,660.40 587.50,661.02 587.75,662.01 588.00,664.18 588.25,667.17 588.50,670.47 588.75,673.61 589.00,676.22 589.25,679.06 589.50,681.84 589.75,683.96 590.00,684.80 590.25,683.16 590.50,679.35 590.75,675.07 591.00,672.01 591.25,671.16 591.50,670.65 591.75,670.24 592.00,669.92 592.25,669.71 592.50,669.61 592.75,669.66 593.00,669.95 593.25,670.43 593.50,671.00 593.75,671.57 594.00,672.05 594.25,672.34 594.50,672.37 594.75,672.06 595.00,671.47 595.25,670.65 595.50,669.66 595.75,668.56 596.00,667.41 596.25,666.27 596.50,665.21 596.75,664.27 597.00,663.52 597.25,663.02 597.50,662.62 597.75,662.23 598.00,661.87 598.25,661.54 598.50,661.23 598.75,660.94 599.00,660.69 599.25,660.47 599.50,660.27 599.75,660.12 600.00,660.00 600.25,659.90 600.50,659.81 600.75,659.72 601.00,659.64 601.25,659.57 601.50,659.51 601.75,659.46 602.00,659.42 602.25,659.40 602.50,659.43 602.75,659.78 603.00,660.42 603.25,661.21 603.50,662.05 603.75,662.83 604.00,663.41 604.25,663.69 604.50,663.60 604.75,663.21 605.00,662.60 605.25,661.82 605.50,660.93 605.75,660.01 606.00,659.10 606.25,658.28 606.50,657.60 606.75,657.01 607.00,656.40 607.25,655.79 607.50,655.19 607.75,654.61 608.00,654.06 608.25,653.54 608.50,653.07 608.75,652.66 609.00,652.31 609.25,652.04 609.50,651.83 609.75,651.63 610.00,651.44 610.25,651.26 610.50,651.10 610.75,650.96 611.00,650.85 611.25,650.76 611.50,650.71 611.75,650.71 612.00,651.09 612.25,651.94 612.50,653.21 612.75,654.82 613.00,656.70 613.25,660.73 613.50,667.99 613.75,677.20 614.00,687.08 614.25,696.35 614.50,704.09 614.75,712.33 615.00,721.04 615.25,729.46 615.50,736.83 615.75,742.36 616.00,745.32 616.25,744.87 616.50,740.89 616.75,734.49 617.00,726.84 617.25,719.11 617.50,712.48 617.75,707.58 618.00,702.87 618.25,698.28 618.50,693.95 618.75,690.02 619.00,686.61 619.25,683.87 619.50,681.87 619.75,680.16 620.00,678.59 620.25,677.17 620.50,675.87 620.75,674.69 621.00,673.62 621.25,672.64 621.50,671.74 621.75,670.92 622.00,670.17 622.25,669.46 622.50,668.80 622.75,668.19 623.00,667.62 623.25,667.08 623.50,666.57 623.75,666.10 624.00,665.66 624.25,665.24 624.50,664.84 624.75,664.46 625.00,664.10 625.25,663.75 625.50,663.40 625.75,663.06 626.00,662.73 626.25,662.41 626.50,662.10 626.75,661.80 627.00,661.52 627.25,661.25 627.50,661.00 627.75,660.76 628.00,660.54 628.25,660.34 628.50,660.16 628.75,660.00" fill="none" stroke="#00B0F0" stroke-width="2.1" stroke-linejoin="round" stroke-linecap="round"/>
</g>
<rect x="45.6" y="28.9" width="568.8" height="27.1" fill="#fff" stroke="#000" stroke-width="1.2"/>
<line x1="65.4" y1="43.1" x2="101.8" y2="43.1" stroke="#000000" stroke-width="3.4" stroke-linecap="round"/>
<text x="107.9" y="48.8" class="lg">PET</text>
<line x1="158.6" y1="43.1" x2="197.4" y2="43.1" stroke="#00B0F0" stroke-width="3.4" stroke-linecap="round"/>
<text x="202.1" y="48.8" class="lg">PET-GAP60</text>
<line x1="309.6" y1="43.1" x2="348.0" y2="43.1" stroke="#FF0000" stroke-width="3.4" stroke-linecap="round"/>
<text x="353.0" y="48.8" class="lg">PET-GAP90</text>
<line x1="460.6" y1="43.1" x2="498.6" y2="43.1" stroke="#FFC000" stroke-width="3.4" stroke-linecap="round"/>
<text x="504.1" y="48.8" class="lg">PET-GAP120</text>
<rect x="45.6" y="479.0" width="568.8" height="27.399999999999977" fill="#fff" stroke="#000" stroke-width="1.2"/>
<line x1="97.0" y1="493.9" x2="134.6" y2="493.9" stroke="#000000" stroke-width="2.2" stroke-linecap="round"/>
<text x="140.2" y="499.3" class="lg">PET</text>
<line x1="222.8" y1="493.9" x2="261.5" y2="493.9" stroke="#FF0000" stroke-width="2.2" stroke-linecap="round"/>
<text x="267.0" y="499.3" class="lg">PET-NaOH60</text>
<line x1="417.3" y1="493.9" x2="454.7" y2="493.9" stroke="#00B0F0" stroke-width="2.2" stroke-linecap="round"/>
<text x="461.0" y="499.3" class="lg">PET-NaOH120</text>
<rect x="117.2" y="75.85" width="131.10000000000002" height="140.15" fill="none" stroke="#FF0000" stroke-width="2.2" stroke-dasharray="8.42 5.92"/>
<rect x="435.25" y="73.2" width="18.44999999999999" height="241.2" fill="none" stroke="#FF0000" stroke-width="2.2" stroke-dasharray="8.42 5.92"/>
<rect x="117.1" y="525.0" width="34.80000000000001" height="129.20000000000005" fill="none" stroke="#FF0000" stroke-width="2.2" stroke-dasharray="8.42 5.92"/>
<path d="M186.2,220.2V235.8" stroke="#FF0000" stroke-width="1.3" fill="none"/><path d="M186.2,241.8L180.1,230.0L186.2,234.4L192.29999999999998,230.0Z" fill="#FF0000"/>
<path d="M426.9,283.0H398.0" stroke="#FF0000" stroke-width="1.6" fill="none"/><path d="M392.0,283.0L403.9,276.8L399.4,283.0L403.9,289.2Z" fill="#FF0000"/>
<path d="M134.8,658.6V681.0" stroke="#FF0000" stroke-width="1.3" fill="none"/><path d="M134.8,687.0L128.70000000000002,675.2L134.8,679.6L140.9,675.2Z" fill="#FF0000"/>
<rect x="107.2" y="251.0" width="146.39999999999998" height="56.69999999999999" fill="#fff" stroke="none"/>
<path d="M106.25,251.0H254.5" stroke="#000" stroke-width="1.3" fill="none"/>
<path d="M106.25,307.7H254.5" stroke="#000" stroke-width="1.6" fill="none"/>
<path d="M107.2,251.0V307.7" stroke="#000" stroke-width="1.9" fill="none"/>
<path d="M253.6,251.0V307.7" stroke="#000" stroke-width="1.8" fill="none"/>
<path d="M107.20,304.5V310.9M121.84,307.7V310.09999999999997M136.48,307.7V310.09999999999997M151.12,307.7V310.09999999999997M165.76,307.7V310.09999999999997M180.40,304.5V310.9M195.04,307.7V310.09999999999997M209.68,307.7V310.09999999999997M224.32,307.7V310.09999999999997M238.96,307.7V310.09999999999997M253.60,304.5V310.9" stroke="#000" stroke-width="1.25" fill="none"/>
<text x="106.9" y="326.7" class="in" font-size="13.0" textLength="33.2" lengthAdjust="spacingAndGlyphs">3550</text>
<text x="180.5" y="326.7" class="in" font-size="13.0" textLength="33.2" lengthAdjust="spacingAndGlyphs">3175</text>
<text x="253.2" y="326.7" class="in" font-size="13.0" textLength="33.2" lengthAdjust="spacingAndGlyphs">2800</text>
<g id="inset1">
<polyline points="107.45,259.20 108.06,258.69 108.67,258.39 109.28,258.25 109.89,258.21 110.50,258.51 111.11,259.16 111.72,259.66 112.34,259.66 112.95,259.50 113.56,259.28 114.17,259.07 114.78,258.96 115.39,259.00 116.00,259.16 116.61,259.39 117.22,259.63 117.83,259.83 118.44,259.94 119.05,259.92 119.66,259.81 120.27,259.65 120.88,259.46 121.49,259.31 122.10,259.22 122.71,259.23 123.32,259.40 123.93,259.68 124.54,260.02 125.15,260.41 125.76,260.98 126.37,261.67 126.98,262.34 127.59,262.93 128.20,263.57 128.81,264.18 129.42,264.58 130.03,264.65 130.64,264.40 131.25,263.97 131.86,263.49 132.47,263.07 133.08,262.64 133.69,262.18 134.30,261.70 134.91,261.23 135.52,260.80 136.13,260.42 136.74,260.12 137.35,259.93 137.96,259.78 138.57,259.65 139.18,259.53 139.79,259.42 140.40,259.33 141.01,259.26 141.62,259.22 142.23,259.20 142.85,259.22 143.46,259.26 144.07,259.33 144.68,259.41 145.29,259.51 145.90,259.62 146.51,259.73 147.12,259.84 147.73,259.95 148.34,260.05 148.95,260.13 149.56,260.19 150.17,260.23 150.78,260.28 151.39,260.32 152.00,260.37 152.61,260.41 153.22,260.45 153.83,260.49 154.44,260.53 155.05,260.56 155.66,260.59 156.27,260.62 156.88,260.64 157.49,260.66 158.10,260.68 158.71,260.69 159.32,260.69 159.93,260.69 160.54,260.66 161.15,260.61 161.76,260.55 162.37,260.47 162.98,260.38 163.59,260.29 164.20,260.20 164.81,260.12 165.42,260.04 166.03,259.99 166.64,259.96 167.25,259.95 167.86,259.97 168.47,260.02 169.08,260.08 169.69,260.16 170.30,260.25 170.91,260.34 171.52,260.43 172.13,260.51 172.75,260.59 173.36,260.65 173.97,260.68 174.58,260.70 175.19,260.70 175.80,260.70 176.41,260.70 177.02,260.70 177.63,260.70 178.24,260.70 178.85,260.70 179.46,260.70 180.07,260.70 180.68,260.70 181.29,260.70 181.90,260.70 182.51,260.70 183.12,260.70 183.73,260.70 184.34,260.70 184.95,260.71 185.56,260.77 186.17,260.87 186.78,261.00 187.39,261.15 188.00,261.31 188.61,261.48 189.22,261.64 189.83,261.79 190.44,261.94 191.05,262.11 191.66,262.29 192.27,262.48 192.88,262.67 193.49,262.87 194.10,263.08 194.71,263.29 195.32,263.51 195.93,263.74 196.54,263.99 197.15,264.24 197.76,264.49 198.37,264.75 198.98,265.01 199.59,265.26 200.20,265.58 200.81,265.91 201.42,266.20 202.03,266.38 202.65,266.39 203.26,266.24 203.87,265.96 204.48,265.61 205.09,265.23 205.70,264.85 206.31,264.30 206.92,263.65 207.53,263.12 208.14,262.93 208.75,263.06 209.36,263.36 209.97,263.75 210.58,264.19 211.19,264.72 211.80,265.42 212.41,266.24 213.02,267.12 213.63,268.09 214.24,269.18 214.85,270.39 215.46,271.68 216.07,273.02 216.68,274.40 217.29,275.90 217.90,277.57 218.51,279.25 219.12,280.77 219.73,282.20 220.34,283.60 220.95,284.29 221.56,283.84 222.17,282.71 222.78,281.47 223.39,280.14 224.00,278.64 224.61,277.30 225.22,276.11 225.83,274.95 226.44,274.20 227.05,274.22 227.66,274.77 228.27,275.43 228.88,276.31 229.49,277.03 230.10,276.98 230.71,276.52 231.32,275.92 231.93,275.39 232.55,274.84 233.16,274.26 233.77,273.70 234.38,273.19 234.99,272.68 235.60,272.17 236.21,271.68 236.82,271.24 237.43,270.86 238.04,270.57 238.65,270.30 239.26,270.05 239.87,269.84 240.48,269.70 241.09,269.64 241.70,269.64 242.31,269.64 242.92,269.64 243.53,269.64 244.14,269.38 244.75,268.62 245.36,267.58 245.97,266.52 246.58,265.67 247.19,265.01 247.80,264.38 248.41,263.84 249.02,263.45 249.63,263.18 250.24,262.94 250.85,262.76 251.46,262.68 252.07,262.73 252.68,262.90 253.29,263.18" fill="none" stroke="#222" stroke-width="1.05" stroke-linejoin="round" stroke-linecap="round"/>
<polyline points="107.45,263.18 108.06,263.58 108.67,263.89 109.28,264.09 109.89,264.17 110.50,264.08 111.11,263.82 111.72,263.47 112.34,263.12 112.95,262.83 113.56,262.69 114.17,262.72 114.78,262.84 115.39,263.01 116.00,263.19 116.61,263.34 117.22,263.42 117.83,263.38 118.44,263.19 119.05,262.91 119.66,262.61 120.27,262.35 120.88,262.20 121.49,262.19 122.10,262.20 122.71,262.23 123.32,262.28 123.93,262.33 124.54,262.40 125.15,262.52 125.76,262.88 126.37,263.39 126.98,263.92 127.59,264.35 128.20,264.83 128.81,265.29 129.42,265.60 130.03,265.64 130.64,265.29 131.25,264.71 131.86,264.07 132.47,263.54 133.08,263.03 133.69,262.49 134.30,261.95 134.91,261.42 135.52,260.93 136.13,260.50 136.74,260.16 137.35,259.92 137.96,259.73 138.57,259.56 139.18,259.39 139.79,259.25 140.40,259.13 141.01,259.04 141.62,258.98 142.23,258.96 142.85,258.97 143.46,259.01 144.07,259.07 144.68,259.15 145.29,259.25 145.90,259.35 146.51,259.46 147.12,259.57 147.73,259.68 148.34,259.78 148.95,259.86 149.56,259.94 150.17,260.00 150.78,260.06 151.39,260.12 152.00,260.18 152.61,260.25 153.22,260.31 153.83,260.37 154.44,260.42 155.05,260.48 155.66,260.53 156.27,260.57 156.88,260.61 157.49,260.64 158.10,260.67 158.71,260.69 159.32,260.69 159.93,260.69 160.54,260.68 161.15,260.64 161.76,260.60 162.37,260.54 162.98,260.48 163.59,260.42 164.20,260.36 164.81,260.31 165.42,260.26 166.03,260.23 166.64,260.20 167.25,260.20 167.86,260.21 168.47,260.22 169.08,260.24 169.69,260.27 170.30,260.30 170.91,260.33 171.52,260.36 172.13,260.39 172.75,260.41 173.36,260.43 173.97,260.44 174.58,260.45 175.19,260.41 175.80,260.33 176.41,260.21 177.02,260.08 177.63,259.94 178.24,259.82 178.85,259.74 179.46,259.70 180.07,259.73 180.68,259.83 181.29,259.99 181.90,260.18 182.51,260.41 183.12,260.65 183.73,260.90 184.34,261.14 184.95,261.38 185.56,261.64 186.17,261.92 186.78,262.23 187.39,262.54 188.00,262.87 188.61,263.21 189.22,263.55 189.83,263.90 190.44,264.28 191.05,264.67 191.66,265.08 192.27,265.49 192.88,265.91 193.49,266.31 194.10,266.71 194.71,267.10 195.32,267.48 195.93,267.86 196.54,268.23 197.15,268.61 197.76,268.97 198.37,269.33 198.98,269.67 199.59,270.01 200.20,270.40 200.81,270.80 201.42,271.14 202.03,271.35 202.65,271.36 203.26,271.19 203.87,270.89 204.48,270.53 205.09,270.16 205.70,269.83 206.31,269.46 206.92,269.07 207.53,268.76 208.14,268.65 208.75,268.80 209.36,269.15 209.97,269.62 210.58,270.15 211.19,270.85 211.80,271.80 212.41,272.90 213.02,274.06 213.63,275.29 214.24,276.65 214.85,278.11 215.46,279.65 216.07,281.23 216.68,282.82 217.29,284.51 217.90,286.35 218.51,288.15 219.12,289.72 219.73,291.09 220.34,292.37 220.95,292.99 221.56,292.48 222.17,291.23 222.78,289.92 223.39,288.63 224.00,287.25 224.61,285.98 225.22,284.82 225.83,283.65 226.44,282.90 227.05,282.89 227.66,283.32 228.27,283.87 228.88,284.74 229.49,285.48 230.10,285.39 230.71,284.77 231.32,283.97 231.93,283.28 232.55,282.58 233.16,281.87 233.77,281.20 234.38,280.63 234.99,280.10 235.60,279.60 236.21,279.14 236.82,278.71 237.43,278.34 238.04,278.01 238.65,277.69 239.26,277.38 239.87,277.11 240.48,276.92 241.09,276.84 241.70,276.84 242.31,276.84 242.92,276.84 243.53,276.84 244.14,276.60 244.75,275.88 245.36,274.90 245.97,273.90 246.58,273.12 247.19,272.54 247.80,272.01 248.41,271.54 249.02,271.16 249.63,270.82 250.24,270.50 250.85,270.25 251.46,270.14 252.07,270.18 252.68,270.35 253.29,270.63" fill="none" stroke="#00B0F0" stroke-width="1.05" stroke-linejoin="round" stroke-linecap="round"/>
<polyline points="107.45,264.67 108.06,265.00 108.67,265.23 109.28,265.37 109.89,265.42 110.50,265.29 111.11,264.95 111.72,264.48 112.34,264.01 112.95,263.62 113.56,263.43 114.17,263.45 114.78,263.53 115.39,263.65 116.00,263.77 116.61,263.87 117.22,263.92 117.83,263.87 118.44,263.64 119.05,263.30 119.66,262.94 120.27,262.63 120.88,262.45 121.49,262.43 122.10,262.43 122.71,262.43 123.32,262.43 123.93,262.43 124.54,262.43 125.15,262.49 125.76,262.83 126.37,263.36 126.98,263.91 127.59,264.35 128.20,264.83 128.81,265.29 129.42,265.60 130.03,265.63 130.64,265.25 131.25,264.59 131.86,263.87 132.47,263.27 133.08,262.69 133.69,262.08 134.30,261.45 134.91,260.85 135.52,260.29 136.13,259.81 136.74,259.43 137.35,259.18 137.96,258.99 138.57,258.81 139.18,258.64 139.79,258.50 140.40,258.38 141.01,258.29 141.62,258.23 142.23,258.21 142.85,258.23 143.46,258.27 144.07,258.33 144.68,258.41 145.29,258.50 145.90,258.61 146.51,258.71 147.12,258.82 147.73,258.93 148.34,259.03 148.95,259.12 149.56,259.19 150.17,259.25 150.78,259.31 151.39,259.38 152.00,259.44 152.61,259.50 153.22,259.56 153.83,259.62 154.44,259.68 155.05,259.73 155.66,259.78 156.27,259.83 156.88,259.86 157.49,259.90 158.10,259.92 158.71,259.94 159.32,259.95 159.93,259.95 160.54,259.92 161.15,259.87 161.76,259.80 162.37,259.72 162.98,259.63 163.59,259.54 164.20,259.45 164.81,259.37 165.42,259.30 166.03,259.25 166.64,259.21 167.25,259.21 167.86,259.21 168.47,259.23 169.08,259.25 169.69,259.28 170.30,259.30 170.91,259.33 171.52,259.36 172.13,259.39 172.75,259.42 173.36,259.44 173.97,259.45 174.58,259.45 175.19,259.42 175.80,259.33 176.41,259.22 177.02,259.08 177.63,258.95 178.24,258.83 178.85,258.74 179.46,258.71 180.07,258.75 180.68,258.88 181.29,259.08 181.90,259.34 182.51,259.64 183.12,259.97 183.73,260.30 184.34,260.63 184.95,260.95 185.56,261.33 186.17,261.73 186.78,262.17 187.39,262.63 188.00,263.09 188.61,263.56 189.22,264.01 189.83,264.46 190.44,264.92 191.05,265.38 191.66,265.85 192.27,266.32 192.88,266.79 193.49,267.24 194.10,267.68 194.71,268.11 195.32,268.53 195.93,268.94 196.54,269.34 197.15,269.74 197.76,270.12 198.37,270.51 198.98,270.89 199.59,271.27 200.20,271.72 200.81,272.19 201.42,272.59 202.03,272.83 202.65,272.85 203.26,272.68 203.87,272.40 204.48,272.04 205.09,271.66 205.70,271.32 206.31,270.89 206.92,270.41 207.53,270.02 208.14,269.89 208.75,270.07 209.36,270.48 209.97,271.04 210.58,271.65 211.19,272.41 211.80,273.42 212.41,274.58 213.02,275.80 213.63,277.10 214.24,278.54 214.85,280.09 215.46,281.71 216.07,283.38 216.68,285.05 217.29,286.80 217.90,288.69 218.51,290.55 219.12,292.19 219.73,293.65 220.34,295.05 220.95,295.72 221.56,295.18 222.17,293.82 222.78,292.39 223.39,290.95 224.00,289.40 224.61,287.99 225.22,286.72 225.83,285.46 226.44,284.64 227.05,284.63 227.66,285.05 228.27,285.61 228.88,286.59 229.49,287.45 230.10,287.36 230.71,286.65 231.32,285.75 231.93,284.99 232.55,284.23 233.16,283.46 233.77,282.74 234.38,282.09 234.99,281.47 235.60,280.87 236.21,280.30 236.82,279.79 237.43,279.35 238.04,279.00 238.65,278.67 239.26,278.36 239.87,278.10 240.48,277.91 241.09,277.84 241.70,277.84 242.31,277.84 242.92,277.84 243.53,277.84 244.14,277.58 244.75,276.82 245.36,275.78 245.97,274.71 246.58,273.87 247.19,273.22 247.80,272.61 248.41,272.07 249.02,271.65 249.63,271.31 250.24,270.99 250.85,270.75 251.46,270.64 252.07,270.68 252.68,270.84 253.29,271.13" fill="none" stroke="#FFC000" stroke-width="1.05" stroke-linejoin="round" stroke-linecap="round"/>
<polyline points="107.45,266.66 108.06,266.92 108.67,267.07 109.28,267.14 109.89,267.16 110.50,267.00 111.11,266.57 111.72,265.99 112.34,265.39 112.95,264.91 113.56,264.68 114.17,264.70 114.78,264.78 115.39,264.89 116.00,265.01 116.61,265.11 117.22,265.16 117.83,265.11 118.44,264.86 119.05,264.49 119.66,264.08 120.27,263.72 120.88,263.47 121.49,263.39 122.10,263.32 122.71,263.27 123.32,263.23 123.93,263.20 124.54,263.18 125.15,263.25 125.76,263.70 126.37,264.39 126.98,265.09 127.59,265.63 128.20,266.20 128.81,266.72 129.42,267.08 130.03,267.12 130.64,266.70 131.25,266.01 131.86,265.30 132.47,264.80 133.08,264.39 133.69,263.99 134.30,263.60 134.91,263.25 135.52,262.94 136.13,262.69 136.74,262.52 137.35,262.43 137.96,262.37 138.57,262.33 139.18,262.29 139.79,262.25 140.40,262.22 141.01,262.20 141.62,262.19 142.23,262.19 142.85,262.21 143.46,262.27 144.07,262.37 144.68,262.49 145.29,262.63 145.90,262.79 146.51,262.95 147.12,263.12 147.73,263.28 148.34,263.42 148.95,263.55 149.56,263.66 150.17,263.74 150.78,263.82 151.39,263.90 152.00,263.98 152.61,264.05 153.22,264.12 153.83,264.19 154.44,264.26 155.05,264.32 155.66,264.38 156.27,264.44 156.88,264.49 157.49,264.54 158.10,264.58 158.71,264.62 159.32,264.66 159.93,264.69 160.54,264.72 161.15,264.74 161.76,264.77 162.37,264.80 162.98,264.83 163.59,264.85 164.20,264.87 164.81,264.89 165.42,264.90 166.03,264.91 166.64,264.92 167.25,264.92 167.86,264.92 168.47,264.91 169.08,264.90 169.69,264.89 170.30,264.87 170.91,264.85 171.52,264.83 172.13,264.80 172.75,264.77 173.36,264.74 173.97,264.70 174.58,264.67 175.19,264.58 175.80,264.43 176.41,264.23 177.02,264.01 177.63,263.80 178.24,263.61 178.85,263.48 179.46,263.43 180.07,263.45 180.68,263.53 181.29,263.64 181.90,263.80 182.51,263.98 183.12,264.18 183.73,264.40 184.34,264.62 184.95,264.87 185.56,265.20 186.17,265.60 186.78,266.04 187.39,266.52 188.00,267.01 188.61,267.50 189.22,267.98 189.83,268.45 190.44,268.93 191.05,269.44 191.66,269.95 192.27,270.46 192.88,270.97 193.49,271.45 194.10,271.91 194.71,272.33 195.32,272.74 195.93,273.14 196.54,273.52 197.15,273.90 197.76,274.25 198.37,274.59 198.98,274.91 199.59,275.21 200.20,275.55 200.81,275.88 201.42,276.16 202.03,276.32 202.65,276.32 203.26,276.13 203.87,275.80 204.48,275.38 205.09,274.94 205.70,274.54 206.31,274.04 206.92,273.47 207.53,273.03 208.14,272.87 208.75,273.05 209.36,273.45 209.97,274.00 210.58,274.63 211.19,275.50 211.80,276.71 212.41,278.10 213.02,279.52 213.63,280.96 214.24,282.50 214.85,284.12 215.46,285.81 216.07,287.53 216.68,289.26 217.29,291.10 217.90,293.12 218.51,295.07 219.12,296.68 219.73,297.98 220.34,299.15 220.95,299.70 221.56,299.25 222.17,298.12 222.78,296.88 223.39,295.51 224.00,293.95 224.61,292.48 225.22,291.07 225.83,289.60 226.44,288.64 227.05,288.63 227.66,289.17 228.27,289.85 228.88,290.84 229.49,291.68 230.10,291.56 230.71,290.76 231.32,289.77 231.93,288.95 232.55,288.18 233.16,287.42 233.77,286.71 234.38,286.07 234.99,285.45 235.60,284.85 236.21,284.28 236.82,283.77 237.43,283.33 238.04,282.98 238.65,282.65 239.26,282.34 239.87,282.07 240.48,281.89 241.09,281.81 241.70,281.81 242.31,281.81 242.92,281.81 243.53,281.81 244.14,281.53 244.75,280.66 245.36,279.49 245.97,278.29 246.58,277.35 247.19,276.62 247.80,275.93 248.41,275.34 249.02,274.89 249.63,274.54 250.24,274.22 250.85,273.98 251.46,273.87 252.07,273.91 252.68,274.07 253.29,274.36" fill="none" stroke="#FF0000" stroke-width="1.05" stroke-linejoin="round" stroke-linecap="round"/>
</g>
<rect x="321.4" y="216.8" width="65.80000000000001" height="90.59999999999997" fill="#fff" stroke="none"/>
<path d="M320.59999999999997,216.8H388.2" stroke="#000" stroke-width="1.8" fill="none"/>
<path d="M320.59999999999997,307.4H388.2" stroke="#000" stroke-width="1.5" fill="none"/>
<path d="M321.4,216.8V307.4" stroke="#000" stroke-width="1.6" fill="none"/>
<path d="M387.2,216.8V307.4" stroke="#000" stroke-width="2.0" fill="none"/>
<path d="M321.40,307.4V311.4M334.56,307.4V310.29999999999995M347.72,307.4V310.29999999999995M360.88,307.4V310.29999999999995M374.04,307.4V310.29999999999995M387.20,307.4V311.4" stroke="#000" stroke-width="1.25" fill="none"/>
<text x="321.8" y="327.6" class="in" font-size="12.8" textLength="30.2" lengthAdjust="spacingAndGlyphs">1750</text>
<text x="388.2" y="327.6" class="in" font-size="12.8" textLength="30.2" lengthAdjust="spacingAndGlyphs">1650</text>
<g id="inset2">
<polyline points="321.37,221.40 321.64,221.96 321.92,222.52 322.20,223.08 322.47,223.64 322.75,224.19 323.03,224.75 323.30,225.30 323.58,225.85 323.86,226.39 324.13,226.94 324.41,227.48 324.68,228.00 324.96,228.51 325.24,229.01 325.51,229.50 325.79,230.00 326.07,230.50 326.34,231.02 326.62,231.55 326.90,232.12 327.17,232.72 327.45,233.36 327.73,234.06 328.00,234.81 328.28,235.60 328.56,236.42 328.83,237.26 329.11,238.12 329.39,238.97 329.66,239.82 329.94,240.65 330.21,241.50 330.49,242.35 330.77,243.21 331.04,244.08 331.32,244.95 331.60,245.81 331.87,246.68 332.15,247.53 332.43,248.37 332.70,249.21 332.98,250.04 333.26,250.87 333.53,251.70 333.81,252.53 334.09,253.35 334.36,254.18 334.64,255.00 334.92,255.83 335.19,256.67 335.47,257.50 335.75,258.33 336.02,259.17 336.30,260.00 336.57,260.83 336.85,261.66 337.13,262.48 337.40,263.29 337.68,264.12 337.96,264.95 338.23,265.79 338.51,266.61 338.79,267.43 339.06,268.22 339.34,269.00 339.62,269.74 339.89,270.46 340.17,271.16 340.45,271.85 340.72,272.53 341.00,273.20 341.28,273.83 341.55,274.44 341.83,275.02 342.11,275.56 342.38,276.07 342.66,276.57 342.93,277.06 343.21,277.53 343.49,277.98 343.76,278.40 344.04,278.79 344.32,279.13 344.59,279.42 344.87,279.66 345.15,279.90 345.42,280.13 345.70,280.35 345.98,280.55 346.25,280.73 346.53,280.87 346.81,280.97 347.08,281.02 347.36,281.01 347.64,280.89 347.91,280.67 348.19,280.38 348.46,280.04 348.74,279.67 349.02,279.28 349.29,278.89 349.57,278.43 349.85,277.88 350.12,277.28 350.40,276.63 350.68,275.95 350.95,275.26 351.23,274.53 351.51,273.74 351.78,272.90 352.06,272.04 352.34,271.16 352.61,270.28 352.89,269.39 353.17,268.48 353.44,267.55 353.72,266.60 354.00,265.65 354.27,264.70 354.55,263.76 354.82,262.82 355.10,261.88 355.38,260.94 355.65,259.99 355.93,259.05 356.21,258.12 356.48,257.21 356.76,256.30 357.04,255.39 357.31,254.47 357.59,253.57 357.87,252.70 358.14,251.88 358.42,251.12 358.70,250.41 358.97,249.73 359.25,249.08 359.53,248.45 359.80,247.86 360.08,247.30 360.35,246.77 360.63,246.27 360.91,245.80 361.18,245.35 361.46,244.92 361.74,244.52 362.01,244.14 362.29,243.78 362.57,243.44 362.84,243.12 363.12,242.81 363.40,242.51 363.67,242.22 363.95,241.94 364.23,241.66 364.50,241.37 364.78,241.08 365.06,240.80 365.33,240.52 365.61,240.25 365.89,239.98 366.16,239.71 366.44,239.44 366.71,239.16 366.99,238.88 367.27,238.59 367.54,238.30 367.82,238.00 368.10,237.70 368.37,237.40 368.65,237.09 368.93,236.79 369.20,236.48 369.48,236.18 369.76,235.88 370.03,235.59 370.31,235.31 370.59,235.03 370.86,234.76 371.14,234.50 371.42,234.24 371.69,233.98 371.97,233.73 372.25,233.48 372.52,233.24 372.80,232.99 373.07,232.76 373.35,232.52 373.63,232.30 373.90,232.07 374.18,231.85 374.46,231.64 374.73,231.43 375.01,231.23 375.29,231.04 375.56,230.84 375.84,230.66 376.12,230.47 376.39,230.29 376.67,230.11 376.95,229.93 377.22,229.75 377.50,229.58 377.78,229.41 378.05,229.23 378.33,229.06 378.60,228.88 378.88,228.70 379.16,228.53 379.43,228.35 379.71,228.18 379.99,228.00 380.26,227.83 380.54,227.66 380.82,227.50 381.09,227.34 381.37,227.18 381.65,227.04 381.92,226.90 382.20,226.76 382.48,226.63 382.75,226.49 383.03,226.36 383.31,226.23 383.58,226.11 383.86,225.98 384.14,225.86 384.41,225.74 384.69,225.62 384.96,225.51 385.24,225.40 385.52,225.29 385.79,225.19 386.07,225.08 386.35,224.99 386.62,224.89 386.90,224.80 387.18,224.71 387.45,224.63" fill="none" stroke="#111" stroke-width="1.05" stroke-linejoin="round" stroke-linecap="round"/>
<polyline points="321.37,221.89 321.64,222.46 321.92,223.02 322.20,223.58 322.47,224.14 322.75,224.69 323.03,225.24 323.30,225.79 323.58,226.34 323.86,226.89 324.13,227.43 324.41,227.97 324.68,228.50 324.96,229.01 325.24,229.50 325.51,230.00 325.79,230.49 326.07,230.99 326.34,231.51 326.62,232.05 326.90,232.62 327.17,233.22 327.45,233.86 327.73,234.56 328.00,235.31 328.28,236.10 328.56,236.92 328.83,237.76 329.11,238.61 329.39,239.47 329.66,240.32 329.94,241.15 330.21,241.99 330.49,242.85 330.77,243.71 331.04,244.58 331.32,245.44 331.60,246.31 331.87,247.17 332.15,248.03 332.43,248.87 332.70,249.71 332.98,250.54 333.26,251.37 333.53,252.20 333.81,253.02 334.09,253.85 334.36,254.67 334.64,255.50 334.92,256.33 335.19,257.16 335.47,258.00 335.75,258.83 336.02,259.66 336.30,260.50 336.57,261.33 336.85,262.15 337.13,262.97 337.40,263.79 337.68,264.62 337.96,265.45 338.23,266.28 338.51,267.11 338.79,267.92 339.06,268.72 339.34,269.49 339.62,270.24 339.89,270.95 340.17,271.66 340.45,272.35 340.72,273.03 341.00,273.69 341.28,274.33 341.55,274.94 341.83,275.52 342.11,276.06 342.38,276.57 342.66,277.07 342.93,277.56 343.21,278.03 343.49,278.48 343.76,278.90 344.04,279.28 344.32,279.63 344.59,279.92 344.87,280.16 345.15,280.40 345.42,280.63 345.70,280.85 345.98,281.05 346.25,281.23 346.53,281.37 346.81,281.46 347.08,281.52 347.36,281.50 347.64,281.38 347.91,281.17 348.19,280.88 348.46,280.54 348.74,280.17 349.02,279.78 349.29,279.39 349.57,278.92 349.85,278.38 350.12,277.78 350.40,277.12 350.68,276.44 350.95,275.75 351.23,275.02 351.51,274.23 351.78,273.40 352.06,272.54 352.34,271.66 352.61,270.78 352.89,269.89 353.17,268.98 353.44,268.05 353.72,267.10 354.00,266.15 354.27,265.20 354.55,264.26 354.82,263.32 355.10,262.38 355.38,261.43 355.65,260.49 355.93,259.55 356.21,258.62 356.48,257.70 356.76,256.80 357.04,255.89 357.31,254.97 357.59,254.07 357.87,253.20 358.14,252.37 358.42,251.62 358.70,250.91 358.97,250.23 359.25,249.57 359.53,248.95 359.80,248.36 360.08,247.80 360.35,247.27 360.63,246.77 360.91,246.29 361.18,245.84 361.46,245.42 361.74,245.01 362.01,244.63 362.29,244.27 362.57,243.94 362.84,243.61 363.12,243.31 363.40,243.01 363.67,242.72 363.95,242.44 364.23,242.15 364.50,241.87 364.78,241.58 365.06,241.30 365.33,241.02 365.61,240.75 365.89,240.48 366.16,240.21 366.44,239.93 366.71,239.66 366.99,239.38 367.27,239.09 367.54,238.80 367.82,238.50 368.10,238.20 368.37,237.89 368.65,237.59 368.93,237.28 369.20,236.98 369.48,236.68 369.76,236.38 370.03,236.09 370.31,235.80 370.59,235.53 370.86,235.26 371.14,235.00 371.42,234.74 371.69,234.48 371.97,234.23 372.25,233.98 372.52,233.73 372.80,233.49 373.07,233.25 373.35,233.02 373.63,232.79 373.90,232.57 374.18,232.35 374.46,232.14 374.73,231.93 375.01,231.73 375.29,231.53 375.56,231.34 375.84,231.15 376.12,230.97 376.39,230.78 376.67,230.61 376.95,230.43 377.22,230.25 377.50,230.08 377.78,229.90 378.05,229.73 378.33,229.55 378.60,229.38 378.88,229.20 379.16,229.02 379.43,228.85 379.71,228.67 379.99,228.50 380.26,228.33 380.54,228.16 380.82,228.00 381.09,227.84 381.37,227.68 381.65,227.53 381.92,227.39 382.20,227.26 382.48,227.12 382.75,226.99 383.03,226.86 383.31,226.73 383.58,226.60 383.86,226.48 384.14,226.36 384.41,226.24 384.69,226.12 384.96,226.01 385.24,225.90 385.52,225.79 385.79,225.68 386.07,225.58 386.35,225.48 386.62,225.39 386.90,225.30 387.18,225.21 387.45,225.12" fill="none" stroke="#00B0F0" stroke-width="1.05" stroke-linejoin="round" stroke-linecap="round"/>
<polyline points="321.37,222.89 321.64,223.45 321.92,224.02 322.20,224.58 322.47,225.14 322.75,225.70 323.03,226.26 323.30,226.82 323.58,227.37 323.86,227.93 324.13,228.48 324.41,229.03 324.68,229.57 324.96,230.09 325.24,230.60 325.51,231.10 325.79,231.61 326.07,232.12 326.34,232.66 326.62,233.21 326.90,233.80 327.17,234.41 327.45,235.08 327.73,235.80 328.00,236.58 328.28,237.40 328.56,238.26 328.83,239.14 329.11,240.03 329.39,240.93 329.66,241.82 329.94,242.70 330.21,243.59 330.49,244.50 330.77,245.41 331.04,246.34 331.32,247.27 331.60,248.20 331.87,249.13 332.15,250.06 332.43,250.98 332.70,251.89 332.98,252.80 333.26,253.72 333.53,254.63 333.81,255.55 334.09,256.46 334.36,257.39 334.64,258.31 334.92,259.24 335.19,260.18 335.47,261.13 335.75,262.08 336.02,263.03 336.30,263.98 336.57,264.93 336.85,265.88 337.13,266.83 337.40,267.78 337.68,268.74 337.96,269.70 338.23,270.68 338.51,271.64 338.79,272.60 339.06,273.54 339.34,274.45 339.62,275.34 339.89,276.19 340.17,277.03 340.45,277.86 340.72,278.68 341.00,279.48 341.28,280.25 341.55,280.99 341.83,281.70 342.11,282.36 342.38,282.98 342.66,283.59 342.93,284.19 343.21,284.77 343.49,285.33 343.76,285.85 344.04,286.32 344.32,286.74 344.59,287.10 344.87,287.40 345.15,287.70 345.42,287.98 345.70,288.25 345.98,288.50 346.25,288.71 346.53,288.88 346.81,289.00 347.08,289.07 347.36,289.05 347.64,288.91 347.91,288.66 348.19,288.33 348.46,287.93 348.74,287.49 349.02,287.04 349.29,286.58 349.57,286.04 349.85,285.40 350.12,284.69 350.40,283.92 350.68,283.12 350.95,282.31 351.23,281.45 351.51,280.53 351.78,279.55 352.06,278.54 352.34,277.51 352.61,276.48 352.89,275.45 353.17,274.39 353.44,273.30 353.72,272.20 354.00,271.10 354.27,270.00 354.55,268.90 354.82,267.82 355.10,266.74 355.38,265.65 355.65,264.56 355.93,263.49 356.21,262.42 356.48,261.37 356.76,260.34 357.04,259.30 357.31,258.26 357.59,257.24 357.87,256.25 358.14,255.32 358.42,254.47 358.70,253.66 358.97,252.89 359.25,252.15 359.53,251.45 359.80,250.78 360.08,250.14 360.35,249.54 360.63,248.98 360.91,248.44 361.18,247.93 361.46,247.45 361.74,246.99 362.01,246.56 362.29,246.15 362.57,245.77 362.84,245.40 363.12,245.06 363.40,244.72 363.67,244.39 363.95,244.07 364.23,243.75 364.50,243.43 364.78,243.11 365.06,242.80 365.33,242.49 365.61,242.19 365.89,241.90 366.16,241.60 366.44,241.30 366.71,241.00 366.99,240.70 367.27,240.39 367.54,240.08 367.82,239.76 368.10,239.44 368.37,239.12 368.65,238.80 368.93,238.48 369.20,238.16 369.48,237.85 369.76,237.54 370.03,237.23 370.31,236.94 370.59,236.65 370.86,236.37 371.14,236.10 371.42,235.83 371.69,235.57 371.97,235.31 372.25,235.05 372.52,234.80 372.80,234.55 373.07,234.31 373.35,234.07 373.63,233.84 373.90,233.61 374.18,233.39 374.46,233.17 374.73,232.96 375.01,232.76 375.29,232.56 375.56,232.36 375.84,232.17 376.12,231.98 376.39,231.80 376.67,231.62 376.95,231.44 377.22,231.26 377.50,231.09 377.78,230.91 378.05,230.73 378.33,230.56 378.60,230.38 378.88,230.20 379.16,230.03 379.43,229.85 379.71,229.67 379.99,229.50 380.26,229.33 380.54,229.16 380.82,228.99 381.09,228.83 381.37,228.68 381.65,228.53 381.92,228.39 382.20,228.25 382.48,228.12 382.75,227.99 383.03,227.85 383.31,227.73 383.58,227.60 383.86,227.47 384.14,227.35 384.41,227.23 384.69,227.12 384.96,227.00 385.24,226.89 385.52,226.78 385.79,226.68 386.07,226.57 386.35,226.48 386.62,226.38 386.90,226.29 387.18,226.20 387.45,226.12" fill="none" stroke="#FFC000" stroke-width="1.05" stroke-linejoin="round" stroke-linecap="round"/>
<polyline points="321.37,224.88 321.64,225.44 321.92,226.00 322.20,226.56 322.47,227.12 322.75,227.68 323.03,228.24 323.30,228.80 323.58,229.36 323.86,229.92 324.13,230.48 324.41,231.04 324.68,231.58 324.96,232.11 325.24,232.62 325.51,233.14 325.79,233.66 326.07,234.18 326.34,234.73 326.62,235.30 326.90,235.90 327.17,236.54 327.45,237.22 327.73,237.97 328.00,238.78 328.28,239.63 328.56,240.52 328.83,241.44 329.11,242.38 329.39,243.32 329.66,244.26 329.94,245.18 330.21,246.12 330.49,247.08 330.77,248.05 331.04,249.03 331.32,250.02 331.60,251.01 331.87,252.00 332.15,252.99 332.43,253.97 332.70,254.95 332.98,255.93 333.26,256.92 333.53,257.90 333.81,258.89 334.09,259.88 334.36,260.87 334.64,261.87 334.92,262.88 335.19,263.90 335.47,264.92 335.75,265.95 336.02,266.98 336.30,268.02 336.57,269.05 336.85,270.09 337.13,271.12 337.40,272.15 337.68,273.19 337.96,274.25 338.23,275.31 338.51,276.36 338.79,277.41 339.06,278.43 339.34,279.43 339.62,280.39 339.89,281.32 340.17,282.24 340.45,283.15 340.72,284.04 341.00,284.91 341.28,285.76 341.55,286.56 341.83,287.33 342.11,288.05 342.38,288.72 342.66,289.39 342.93,290.05 343.21,290.68 343.49,291.29 343.76,291.85 344.04,292.36 344.32,292.82 344.59,293.20 344.87,293.52 345.15,293.83 345.42,294.13 345.70,294.41 345.98,294.66 346.25,294.89 346.53,295.06 346.81,295.19 347.08,295.26 347.36,295.24 347.64,295.08 347.91,294.80 348.19,294.42 348.46,293.97 348.74,293.47 349.02,292.96 349.29,292.45 349.57,291.84 349.85,291.12 350.12,290.33 350.40,289.47 350.68,288.59 350.95,287.68 351.23,286.73 351.51,285.70 351.78,284.62 352.06,283.50 352.34,282.36 352.61,281.22 352.89,280.08 353.17,278.90 353.44,277.70 353.72,276.48 354.00,275.26 354.27,274.04 354.55,272.83 354.82,271.63 355.10,270.43 355.38,269.22 355.65,268.02 355.93,266.83 356.21,265.65 356.48,264.49 356.76,263.35 357.04,262.20 357.31,261.05 357.59,259.92 357.87,258.83 358.14,257.80 358.42,256.85 358.70,255.96 358.97,255.10 359.25,254.27 359.53,253.49 359.80,252.74 360.08,252.03 360.35,251.36 360.63,250.72 360.91,250.11 361.18,249.54 361.46,248.99 361.74,248.47 362.01,247.98 362.29,247.52 362.57,247.08 362.84,246.66 363.12,246.26 363.40,245.87 363.67,245.49 363.95,245.12 364.23,244.76 364.50,244.39 364.78,244.02 365.06,243.66 365.33,243.31 365.61,242.96 365.89,242.62 366.16,242.28 366.44,241.94 366.71,241.60 366.99,241.26 367.27,240.91 367.54,240.56 367.82,240.20 368.10,239.84 368.37,239.48 368.65,239.12 368.93,238.77 369.20,238.41 369.48,238.06 369.76,237.72 370.03,237.38 370.31,237.05 370.59,236.73 370.86,236.43 371.14,236.13 371.42,235.83 371.69,235.54 371.97,235.25 372.25,234.97 372.52,234.69 372.80,234.42 373.07,234.15 373.35,233.89 373.63,233.63 373.90,233.38 374.18,233.14 374.46,232.90 374.73,232.67 375.01,232.44 375.29,232.22 375.56,232.01 375.84,231.80 376.12,231.59 376.39,231.39 376.67,231.19 376.95,230.99 377.22,230.80 377.50,230.60 377.78,230.41 378.05,230.22 378.33,230.03 378.60,229.83 378.88,229.64 379.16,229.45 379.43,229.25 379.71,229.06 379.99,228.87 380.26,228.69 380.54,228.50 380.82,228.32 381.09,228.15 381.37,227.98 381.65,227.82 381.92,227.66 382.20,227.51 382.48,227.36 382.75,227.22 383.03,227.07 383.31,226.93 383.58,226.79 383.86,226.65 384.14,226.51 384.41,226.38 384.69,226.25 384.96,226.12 385.24,226.00 385.52,225.88 385.79,225.76 386.07,225.65 386.35,225.53 386.62,225.43 386.90,225.32 387.18,225.22 387.45,225.13" fill="none" stroke="#FF0000" stroke-width="1.05" stroke-linejoin="round" stroke-linecap="round"/>
</g>
<rect x="69.0" y="696.1" width="138.4" height="55.10000000000002" fill="#fff" stroke="none"/>
<path d="M68.15,696.1H208.15" stroke="#000" stroke-width="1.4" fill="none"/>
<path d="M68.15,751.2H208.15" stroke="#000" stroke-width="1.6" fill="none"/>
<path d="M69.0,696.1V751.2" stroke="#000" stroke-width="1.7" fill="none"/>
<path d="M207.4,696.1V751.2" stroke="#000" stroke-width="1.5" fill="none"/>
<path d="M69.00,751.2V755.6M96.68,751.2V754.1M124.36,751.2V754.1M152.04,751.2V754.1M179.72,751.2V754.1M207.40,751.2V755.6" stroke="#000" stroke-width="1.25" fill="none"/>
<text x="68.3" y="773.3" class="in" font-size="15.6" textLength="32.9" lengthAdjust="spacingAndGlyphs">3550</text>
<text x="207.0" y="773.3" class="in" font-size="15.6" textLength="32.9" lengthAdjust="spacingAndGlyphs">3350</text>
<g id="insetb">
<polyline points="69.01,720.46 69.58,720.00 70.16,719.57 70.74,719.17 71.32,718.80 71.90,718.47 72.48,718.17 73.06,717.93 73.64,717.72 74.21,717.52 74.79,717.28 75.37,716.98 75.95,716.57 76.53,716.09 77.11,715.58 77.69,715.08 78.27,714.60 78.85,714.03 79.42,713.51 80.00,713.22 80.58,713.41 81.16,714.23 81.74,715.24 82.32,716.25 82.90,717.41 83.48,718.19 84.06,718.48 84.63,718.72 85.21,718.93 85.79,719.09 86.37,719.22 86.95,719.30 87.53,719.34 88.11,719.34 88.69,719.31 89.26,719.26 89.84,719.19 90.42,719.10 91.00,718.99 91.58,718.87 92.16,718.70 92.74,718.30 93.32,717.77 93.90,717.28 94.47,716.93 95.05,716.60 95.63,716.35 96.21,716.27 96.79,716.38 97.37,716.62 97.95,716.94 98.53,717.30 99.11,717.64 99.68,717.92 100.26,718.16 100.84,718.42 101.42,718.66 102.00,718.87 102.58,719.02 103.16,719.06 103.74,718.96 104.31,718.73 104.89,718.42 105.47,718.06 106.05,717.72 106.63,717.43 107.21,717.19 107.79,716.93 108.37,716.68 108.95,716.47 109.52,716.32 110.10,716.27 110.68,716.34 111.26,716.51 111.84,716.74 112.42,716.99 113.00,717.21 113.58,717.36 114.16,717.44 114.73,717.51 115.31,717.57 115.89,717.62 116.47,717.65 117.05,717.67 117.63,717.61 118.21,717.44 118.79,717.23 119.37,717.03 119.94,716.88 120.52,716.83 121.10,716.84 121.68,716.87 122.26,716.91 122.84,716.96 123.42,717.03 124.00,717.10 124.57,717.22 125.15,717.42 125.73,717.69 126.31,717.97 126.89,718.23 127.47,718.44 128.05,718.59 128.63,718.72 129.21,718.85 129.78,718.95 130.36,719.03 130.94,719.06 131.52,719.00 132.10,718.80 132.68,718.54 133.26,718.32 133.84,718.23 134.42,718.24 134.99,718.28 135.57,718.34 136.15,718.42 136.73,718.52 137.31,718.75 137.89,719.14 138.47,719.62 139.05,720.13 139.62,720.62 140.20,721.18 140.78,721.79 141.36,722.41 141.94,722.99 142.52,723.51 143.10,723.99 143.68,724.46 144.26,724.91 144.83,725.34 145.41,725.75 145.99,726.14 146.57,726.57 147.15,727.02 147.73,727.44 148.31,727.77 148.89,727.97 149.47,728.00 150.04,727.97 150.62,727.90 151.20,727.80 151.78,727.69 152.36,727.56 152.94,727.43 153.52,727.26 154.10,727.06 154.68,726.81 155.25,726.54 155.83,726.25 156.41,725.94 156.99,725.58 157.57,725.17 158.15,724.74 158.73,724.30 159.31,723.86 159.88,723.40 160.46,722.92 161.04,722.45 161.62,721.99 162.20,721.56 162.78,721.14 163.36,720.73 163.94,720.33 164.52,719.95 165.09,719.58 165.67,719.22 166.25,718.87 166.83,718.53 167.41,718.21 167.99,717.88 168.57,717.55 169.15,717.25 169.73,716.98 170.30,716.79 170.88,716.63 171.46,716.48 172.04,716.35 172.62,716.28 173.20,716.28 173.78,716.35 174.36,716.48 174.93,716.66 175.51,716.86 176.09,717.07 176.67,717.26 177.25,717.41 177.83,717.55 178.41,717.70 178.99,717.86 179.57,718.00 180.14,718.11 180.72,718.19 181.30,718.22 181.88,718.19 182.46,718.08 183.04,717.92 183.62,717.73 184.20,717.52 184.78,717.33 185.35,717.16 185.93,717.02 186.51,716.91 187.09,716.81 187.67,716.71 188.25,716.60 188.83,716.49 189.41,716.36 189.98,716.19 190.56,715.95 191.14,715.67 191.72,715.40 192.30,715.20 192.88,715.10 193.46,715.01 194.04,714.94 194.62,714.90 195.19,714.87 195.77,714.89 196.35,714.94 196.93,715.03 197.51,715.13 198.09,715.25 198.67,715.37 199.25,715.48 199.83,715.60 200.40,715.72 200.98,715.86 201.56,716.02 202.14,716.21 202.72,716.43 203.30,716.73 203.88,717.08 204.46,717.48 205.04,717.89 205.61,718.32 206.19,718.81 206.77,719.34 207.35,719.90" fill="none" stroke="#222" stroke-width="1.05" stroke-linejoin="round" stroke-linecap="round"/>
<polyline points="69.01,721.86 69.58,721.41 70.16,720.98 70.74,720.57 71.32,720.19 71.90,719.84 72.48,719.47 73.06,719.08 73.64,718.72 74.21,718.44 74.79,718.26 75.37,718.25 75.95,718.54 76.53,719.00 77.11,719.45 77.69,719.78 78.27,720.11 78.85,720.37 79.42,720.46 80.00,720.17 80.58,719.63 81.16,719.14 81.74,718.84 82.32,718.55 82.90,718.33 83.48,718.23 84.06,718.41 84.63,718.95 85.21,719.68 85.79,720.43 86.37,721.05 86.95,721.63 87.53,722.25 88.11,722.79 88.69,723.16 89.26,723.25 89.84,723.05 90.42,722.66 91.00,722.20 91.58,721.78 92.16,721.46 92.74,721.15 93.32,720.85 93.90,720.61 94.47,720.48 95.05,720.57 95.63,721.16 96.21,722.01 96.79,722.80 97.37,723.42 97.95,724.07 98.53,724.54 99.11,724.62 99.68,724.19 100.26,723.43 100.84,722.56 101.42,721.76 102.00,720.87 102.58,719.92 103.16,718.98 103.74,718.02 104.31,717.04 104.89,716.10 105.47,715.23 106.05,714.26 106.63,713.37 107.21,712.92 107.79,713.55 108.37,715.15 108.95,716.58 109.52,718.01 110.10,719.08 110.68,719.72 111.26,720.21 111.84,720.61 112.42,720.99 113.00,721.38 113.58,721.69 114.16,721.85 114.73,721.83 115.31,721.74 115.89,721.61 116.47,721.46 117.05,721.31 117.63,721.17 118.21,721.04 118.79,720.88 119.37,720.69 119.94,720.42 120.52,719.83 121.10,719.04 121.68,718.37 122.26,717.73 122.84,717.23 123.42,717.19 124.00,718.13 124.57,719.52 125.15,720.64 125.73,721.84 126.31,722.86 126.89,723.26 127.47,723.26 128.05,723.26 128.63,723.26 129.21,723.26 129.78,723.26 130.36,723.30 130.94,723.39 131.52,723.53 132.10,723.70 132.68,723.92 133.26,724.37 133.84,725.01 134.42,725.73 134.99,726.44 135.57,727.25 136.15,728.12 136.73,728.98 137.31,729.87 137.89,730.77 138.47,731.64 139.05,732.43 139.62,733.30 140.20,734.07 140.78,734.43 141.36,734.17 141.94,733.43 142.52,732.48 143.10,731.60 143.68,730.61 144.26,729.56 144.83,728.90 145.41,728.97 145.99,729.53 146.57,730.37 147.15,731.29 147.73,732.10 148.31,732.77 148.89,733.51 149.47,734.20 150.04,734.73 150.62,735.00 151.20,735.09 151.78,735.17 152.36,735.23 152.94,735.26 153.52,735.27 154.10,735.26 154.68,735.21 155.25,735.15 155.83,735.06 156.41,734.93 156.99,734.50 157.57,733.84 158.15,733.11 158.73,732.42 159.31,731.70 159.88,730.93 160.46,730.15 161.04,729.36 161.62,728.56 162.20,727.75 162.78,726.96 163.36,726.01 163.94,725.11 164.52,724.66 165.09,724.73 165.67,724.97 166.25,725.25 166.83,725.49 167.41,725.70 167.99,725.91 168.57,726.04 169.15,725.96 169.73,725.56 170.30,724.99 170.88,724.47 171.46,724.06 172.04,723.63 172.62,723.32 173.20,723.30 173.78,723.69 174.36,724.32 174.93,724.97 175.51,725.47 176.09,726.02 176.67,726.46 177.25,726.61 177.83,726.49 178.41,726.25 178.99,725.95 179.57,725.65 180.14,725.43 180.72,725.20 181.30,724.97 181.88,724.78 182.46,724.67 183.04,724.67 183.62,724.80 184.20,725.01 184.78,725.24 185.35,725.44 185.93,725.59 186.51,725.74 187.09,725.89 187.67,726.00 188.25,726.05 188.83,725.90 189.41,725.45 189.98,724.88 190.56,724.39 191.14,723.97 191.72,723.55 192.30,723.29 192.88,723.48 193.46,724.44 194.04,725.34 194.62,726.09 195.19,726.59 195.77,726.40 196.35,725.68 196.93,724.73 197.51,723.88 198.09,723.16 198.67,722.42 199.25,721.93 199.83,722.07 200.40,723.25 200.98,724.48 201.56,725.67 202.14,726.54 202.72,726.60 203.30,726.56 203.88,726.49 204.46,726.41 205.04,726.34 205.61,726.27 206.19,726.20 206.77,726.13 207.35,726.05" fill="none" stroke="#FF0000" stroke-width="1.05" stroke-linejoin="round" stroke-linecap="round"/>
<polyline points="69.01,724.09 69.58,724.24 70.16,724.38 70.74,724.52 71.32,724.66 71.90,724.80 72.48,724.93 73.06,725.06 73.64,725.19 74.21,725.32 74.79,725.47 75.37,725.62 75.95,725.77 76.53,725.90 77.11,725.99 77.69,726.04 78.27,726.02 78.85,725.86 79.42,725.59 80.00,725.29 80.58,725.00 81.16,724.76 81.74,724.52 82.32,724.27 82.90,724.04 83.48,723.84 84.06,723.65 84.63,723.48 85.21,723.32 85.79,723.16 86.37,723.02 86.95,722.88 87.53,722.74 88.11,722.61 88.69,722.46 89.26,722.30 89.84,722.15 90.42,722.03 91.00,721.93 91.58,721.87 92.16,721.86 92.74,721.92 93.32,722.03 93.90,722.16 94.47,722.32 95.05,722.47 95.63,722.61 96.21,722.71 96.79,722.81 97.37,722.92 97.95,723.02 98.53,723.11 99.11,723.18 99.68,723.24 100.26,723.26 100.84,723.23 101.42,723.14 102.00,723.02 102.58,722.87 103.16,722.72 103.74,722.57 104.31,722.45 104.89,722.35 105.47,722.25 106.05,722.15 106.63,722.05 107.21,721.96 107.79,721.90 108.37,721.86 108.95,721.87 109.52,721.92 110.10,722.03 110.68,722.17 111.26,722.32 111.84,722.47 112.42,722.61 113.00,722.72 113.58,722.81 114.16,722.92 114.73,723.02 115.31,723.11 115.89,723.19 116.47,723.24 117.05,723.26 117.63,723.23 118.21,723.14 118.79,723.02 119.37,722.87 119.94,722.72 120.52,722.57 121.10,722.45 121.68,722.35 122.26,722.25 122.84,722.14 123.42,722.05 124.00,721.96 124.57,721.90 125.15,721.86 125.73,721.86 126.31,721.92 126.89,722.01 127.47,722.14 128.05,722.28 128.63,722.44 129.21,722.59 129.78,722.73 130.36,722.86 130.94,723.00 131.52,723.15 132.10,723.30 132.68,723.46 133.26,723.63 133.84,723.81 134.42,724.01 134.99,724.22 135.57,724.45 136.15,724.68 136.73,724.93 137.31,725.18 137.89,725.43 138.47,725.68 139.05,725.96 139.62,726.25 140.20,726.54 140.78,726.83 141.36,727.10 141.94,727.34 142.52,727.55 143.10,727.74 143.68,727.92 144.26,728.09 144.83,728.24 145.41,728.39 145.99,728.54 146.57,728.68 147.15,728.79 147.73,728.84 148.31,728.82 148.89,728.72 149.47,728.59 150.04,728.43 150.62,728.28 151.20,728.13 151.78,727.96 152.36,727.78 152.94,727.60 153.52,727.41 154.10,727.23 154.68,727.04 155.25,726.84 155.83,726.65 156.41,726.45 156.99,726.26 157.57,726.06 158.15,725.86 158.73,725.66 159.31,725.45 159.88,725.24 160.46,725.05 161.04,724.86 161.62,724.70 162.20,724.55 162.78,724.42 163.36,724.30 163.94,724.18 164.52,724.07 165.09,723.96 165.67,723.87 166.25,723.77 166.83,723.69 167.41,723.62 167.99,723.55 168.57,723.48 169.15,723.40 169.73,723.32 170.30,723.24 170.88,723.13 171.46,723.01 172.04,722.89 172.62,722.76 173.20,722.64 173.78,722.52 174.36,722.42 174.93,722.32 175.51,722.22 176.09,722.12 176.67,722.02 177.25,721.94 177.83,721.89 178.41,721.86 178.99,721.87 179.57,721.92 180.14,722.00 180.72,722.10 181.30,722.21 181.88,722.31 182.46,722.39 183.04,722.44 183.62,722.50 184.20,722.55 184.78,722.60 185.35,722.64 185.93,722.67 186.51,722.69 187.09,722.69 187.67,722.63 188.25,722.49 188.83,722.31 189.41,722.10 189.98,721.89 190.56,721.71 191.14,721.58 191.72,721.47 192.30,721.37 192.88,721.26 193.46,721.17 194.04,721.10 194.62,721.05 195.19,721.02 195.77,721.04 196.35,721.13 196.93,721.27 197.51,721.44 198.09,721.61 198.67,721.78 199.25,721.93 199.83,722.06 200.40,722.19 200.98,722.33 201.56,722.48 202.14,722.64 202.72,722.83 203.30,723.05 203.88,723.30 204.46,723.55 205.04,723.78 205.61,724.01 206.19,724.23 206.77,724.44 207.35,724.65" fill="none" stroke="#33CCFF" stroke-width="1.05" stroke-linejoin="round" stroke-linecap="round"/>
</g>
<text x="-0.4" y="17.3" class="pl"><tspan font-size="20.5" dy="0.6">(</tspan><tspan dy="-0.6">a</tspan><tspan font-size="20.5" dy="0.6">)</tspan></text>
<text x="-0.4" y="466.3" class="pl"><tspan font-size="20.5" dy="0.6">(</tspan><tspan dy="-0.6">b</tspan><tspan font-size="20.5" dy="0.6">)</tspan></text>
<text x="313.6" y="409.3" class="ax">cm<tspan dx="1.0" dy="-6.3" font-size="15.5">-1</tspan></text>
<text x="313.6" y="863.0" class="ax">cm<tspan dx="1.0" dy="-6.3" font-size="15.5">-1</tspan></text>
</svg>
</body>
</html>
